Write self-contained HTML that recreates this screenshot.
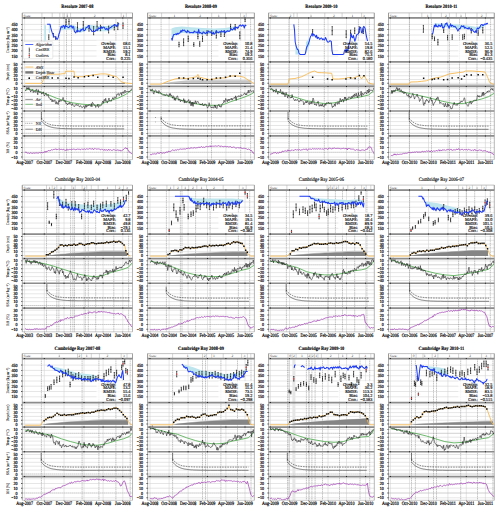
<!DOCTYPE html>
<html><head><meta charset="utf-8"><style>
html,body{margin:0;padding:0;background:#fff;width:500px;height:512px;overflow:hidden}
svg{display:block;text-rendering:geometricPrecision}
text{fill:inherit}
svg{fill:#000}
.k text{stroke:#000;stroke-width:0.13px}
.k2 text{stroke:#000;stroke-width:0.07px}
.k3 text{stroke:#000;stroke-width:0.2px}
</style></head><body>
<svg width="500" height="512" viewBox="0 0 500 512" font-family="'Liberation Serif', serif">
<rect width="500" height="512" fill="#fff"/>
<defs><clipPath id="pc"><rect x="22.3" y="17.9" width="110.2" height="141.7"/><rect x="22.3" y="190.1" width="110.2" height="141.7"/><rect x="22.3" y="358.6" width="110.2" height="141.7"/><rect x="147.6" y="17.9" width="106.8" height="141.7"/><rect x="147.6" y="190.1" width="106.8" height="141.7"/><rect x="147.6" y="358.6" width="106.8" height="141.7"/><rect x="268.6" y="17.9" width="105.7" height="141.7"/><rect x="268.6" y="190.1" width="105.7" height="141.7"/><rect x="268.6" y="358.6" width="105.7" height="141.7"/><rect x="388.5" y="17.9" width="105.8" height="141.7"/><rect x="388.5" y="190.1" width="105.8" height="141.7"/><rect x="388.5" y="358.6" width="105.8" height="141.7"/></clipPath></defs>
<path fill="none" stroke="#d2d2d2" stroke-width="0.55" d="M22.3 56.1L132.5 56.1M22.3 50.8L132.5 50.8M22.3 45.5L132.5 45.5M22.3 40.3L132.5 40.3M22.3 35L132.5 35M22.3 29.7L132.5 29.7M22.3 24.4L132.5 24.4M22.3 83.3L132.5 83.3M22.3 79.5L132.5 79.5M22.3 75.7L132.5 75.7M22.3 71.9L132.5 71.9M22.3 68.1L132.5 68.1M22.3 64.3L132.5 64.3M22.3 108.3L132.5 108.3M22.3 104.4L132.5 104.4M22.3 100.4L132.5 100.4M22.3 96.5L132.5 96.5M22.3 92.6L132.5 92.6M22.3 88.7L132.5 88.7M22.3 133.3L132.5 133.3M22.3 129.4L132.5 129.4M22.3 125.5L132.5 125.5M22.3 121.6L132.5 121.6M22.3 117.7L132.5 117.7M22.3 113.8L132.5 113.8M22.3 157.1L132.5 157.1M22.3 152.3L132.5 152.3M22.3 147.6L132.5 147.6M22.3 142.8L132.5 142.8M22.3 138.1L132.5 138.1M24.6 17.9L24.6 159.6M44.3 17.9L44.3 159.6M64 17.9L64 159.6M84 17.9L84 159.6M103.1 17.9L103.1 159.6M122.8 17.9L122.8 159.6M147.6 56.1L254.4 56.1M147.6 50.8L254.4 50.8M147.6 45.5L254.4 45.5M147.6 40.3L254.4 40.3M147.6 35L254.4 35M147.6 29.7L254.4 29.7M147.6 24.4L254.4 24.4M147.6 83.3L254.4 83.3M147.6 79.5L254.4 79.5M147.6 75.7L254.4 75.7M147.6 71.9L254.4 71.9M147.6 68.1L254.4 68.1M147.6 64.3L254.4 64.3M147.6 108.3L254.4 108.3M147.6 104.4L254.4 104.4M147.6 100.4L254.4 100.4M147.6 96.5L254.4 96.5M147.6 92.6L254.4 92.6M147.6 88.7L254.4 88.7M147.6 133.3L254.4 133.3M147.6 129.4L254.4 129.4M147.6 125.5L254.4 125.5M147.6 121.6L254.4 121.6M147.6 117.7L254.4 117.7M147.6 113.8L254.4 113.8M147.6 157.1L254.4 157.1M147.6 152.3L254.4 152.3M147.6 147.6L254.4 147.6M147.6 142.8L254.4 142.8M147.6 138.1L254.4 138.1M150 17.9L150 159.6M169.1 17.9L169.1 159.6M188.1 17.9L188.1 159.6M207.5 17.9L207.5 159.6M225.9 17.9L225.9 159.6M245 17.9L245 159.6M268.6 56.1L374.3 56.1M268.6 50.8L374.3 50.8M268.6 45.5L374.3 45.5M268.6 40.3L374.3 40.3M268.6 35L374.3 35M268.6 29.7L374.3 29.7M268.6 24.4L374.3 24.4M268.6 83.3L374.3 83.3M268.6 79.5L374.3 79.5M268.6 75.7L374.3 75.7M268.6 71.9L374.3 71.9M268.6 68.1L374.3 68.1M268.6 64.3L374.3 64.3M268.6 108.3L374.3 108.3M268.6 104.4L374.3 104.4M268.6 100.4L374.3 100.4M268.6 96.5L374.3 96.5M268.6 92.6L374.3 92.6M268.6 88.7L374.3 88.7M268.6 133.3L374.3 133.3M268.6 129.4L374.3 129.4M268.6 125.5L374.3 125.5M268.6 121.6L374.3 121.6M268.6 117.7L374.3 117.7M268.6 113.8L374.3 113.8M268.6 157.1L374.3 157.1M268.6 152.3L374.3 152.3M268.6 147.6L374.3 147.6M268.6 142.8L374.3 142.8M268.6 138.1L374.3 138.1M270.4 17.9L270.4 159.6M289.5 17.9L289.5 159.6M308.6 17.9L308.6 159.6M328 17.9L328 159.6M346.5 17.9L346.5 159.6M365.6 17.9L365.6 159.6M388.5 56.1L494.3 56.1M388.5 50.8L494.3 50.8M388.5 45.5L494.3 45.5M388.5 40.3L494.3 40.3M388.5 35L494.3 35M388.5 29.7L494.3 29.7M388.5 24.4L494.3 24.4M388.5 83.3L494.3 83.3M388.5 79.5L494.3 79.5M388.5 75.7L494.3 75.7M388.5 71.9L494.3 71.9M388.5 68.1L494.3 68.1M388.5 64.3L494.3 64.3M388.5 108.3L494.3 108.3M388.5 104.4L494.3 104.4M388.5 100.4L494.3 100.4M388.5 96.5L494.3 96.5M388.5 92.6L494.3 92.6M388.5 88.7L494.3 88.7M388.5 133.3L494.3 133.3M388.5 129.4L494.3 129.4M388.5 125.5L494.3 125.5M388.5 121.6L494.3 121.6M388.5 117.7L494.3 117.7M388.5 113.8L494.3 113.8M388.5 157.1L494.3 157.1M388.5 152.3L494.3 152.3M388.5 147.6L494.3 147.6M388.5 142.8L494.3 142.8M388.5 138.1L494.3 138.1M390.4 17.9L390.4 159.6M409.5 17.9L409.5 159.6M428.5 17.9L428.5 159.6M447.9 17.9L447.9 159.6M466.3 17.9L466.3 159.6M485.4 17.9L485.4 159.6M22.3 228.3L132.5 228.3M22.3 223L132.5 223M22.3 217.7L132.5 217.7M22.3 212.5L132.5 212.5M22.3 207.2L132.5 207.2M22.3 201.9L132.5 201.9M22.3 196.6L132.5 196.6M22.3 255.5L132.5 255.5M22.3 251.7L132.5 251.7M22.3 247.9L132.5 247.9M22.3 244.1L132.5 244.1M22.3 240.3L132.5 240.3M22.3 236.5L132.5 236.5M22.3 280.5L132.5 280.5M22.3 276.6L132.5 276.6M22.3 272.6L132.5 272.6M22.3 268.7L132.5 268.7M22.3 264.8L132.5 264.8M22.3 260.9L132.5 260.9M22.3 305.5L132.5 305.5M22.3 301.6L132.5 301.6M22.3 297.7L132.5 297.7M22.3 293.8L132.5 293.8M22.3 289.9L132.5 289.9M22.3 286L132.5 286M22.3 329.2L132.5 329.2M22.3 324.5L132.5 324.5M22.3 319.8L132.5 319.8M22.3 315L132.5 315M22.3 310.2L132.5 310.2M24.6 190.1L24.6 331.8M44.3 190.1L44.3 331.8M64 190.1L64 331.8M84 190.1L84 331.8M103.1 190.1L103.1 331.8M122.8 190.1L122.8 331.8M147.6 228.3L254.4 228.3M147.6 223L254.4 223M147.6 217.7L254.4 217.7M147.6 212.5L254.4 212.5M147.6 207.2L254.4 207.2M147.6 201.9L254.4 201.9M147.6 196.6L254.4 196.6M147.6 255.5L254.4 255.5M147.6 251.7L254.4 251.7M147.6 247.9L254.4 247.9M147.6 244.1L254.4 244.1M147.6 240.3L254.4 240.3M147.6 236.5L254.4 236.5M147.6 280.5L254.4 280.5M147.6 276.6L254.4 276.6M147.6 272.6L254.4 272.6M147.6 268.7L254.4 268.7M147.6 264.8L254.4 264.8M147.6 260.9L254.4 260.9M147.6 305.5L254.4 305.5M147.6 301.6L254.4 301.6M147.6 297.7L254.4 297.7M147.6 293.8L254.4 293.8M147.6 289.9L254.4 289.9M147.6 286L254.4 286M147.6 329.2L254.4 329.2M147.6 324.5L254.4 324.5M147.6 319.8L254.4 319.8M147.6 315L254.4 315M147.6 310.2L254.4 310.2M150 190.1L150 331.8M169.1 190.1L169.1 331.8M188.1 190.1L188.1 331.8M207.5 190.1L207.5 331.8M225.9 190.1L225.9 331.8M245 190.1L245 331.8M268.6 228.3L374.3 228.3M268.6 223L374.3 223M268.6 217.7L374.3 217.7M268.6 212.5L374.3 212.5M268.6 207.2L374.3 207.2M268.6 201.9L374.3 201.9M268.6 196.6L374.3 196.6M268.6 255.5L374.3 255.5M268.6 251.7L374.3 251.7M268.6 247.9L374.3 247.9M268.6 244.1L374.3 244.1M268.6 240.3L374.3 240.3M268.6 236.5L374.3 236.5M268.6 280.5L374.3 280.5M268.6 276.6L374.3 276.6M268.6 272.6L374.3 272.6M268.6 268.7L374.3 268.7M268.6 264.8L374.3 264.8M268.6 260.9L374.3 260.9M268.6 305.5L374.3 305.5M268.6 301.6L374.3 301.6M268.6 297.7L374.3 297.7M268.6 293.8L374.3 293.8M268.6 289.9L374.3 289.9M268.6 286L374.3 286M268.6 329.2L374.3 329.2M268.6 324.5L374.3 324.5M268.6 319.8L374.3 319.8M268.6 315L374.3 315M268.6 310.2L374.3 310.2M270.4 190.1L270.4 331.8M289.5 190.1L289.5 331.8M308.6 190.1L308.6 331.8M328 190.1L328 331.8M346.5 190.1L346.5 331.8M365.6 190.1L365.6 331.8M388.5 228.3L494.3 228.3M388.5 223L494.3 223M388.5 217.7L494.3 217.7M388.5 212.5L494.3 212.5M388.5 207.2L494.3 207.2M388.5 201.9L494.3 201.9M388.5 196.6L494.3 196.6M388.5 255.5L494.3 255.5M388.5 251.7L494.3 251.7M388.5 247.9L494.3 247.9M388.5 244.1L494.3 244.1M388.5 240.3L494.3 240.3M388.5 236.5L494.3 236.5M388.5 280.5L494.3 280.5M388.5 276.6L494.3 276.6M388.5 272.6L494.3 272.6M388.5 268.7L494.3 268.7M388.5 264.8L494.3 264.8M388.5 260.9L494.3 260.9M388.5 305.5L494.3 305.5M388.5 301.6L494.3 301.6M388.5 297.7L494.3 297.7M388.5 293.8L494.3 293.8M388.5 289.9L494.3 289.9M388.5 286L494.3 286M388.5 329.2L494.3 329.2M388.5 324.5L494.3 324.5M388.5 319.8L494.3 319.8M388.5 315L494.3 315M388.5 310.2L494.3 310.2M390.4 190.1L390.4 331.8M409.5 190.1L409.5 331.8M428.5 190.1L428.5 331.8M447.9 190.1L447.9 331.8M466.3 190.1L466.3 331.8M485.4 190.1L485.4 331.8M22.3 396.8L132.5 396.8M22.3 391.5L132.5 391.5M22.3 386.2L132.5 386.2M22.3 381L132.5 381M22.3 375.7L132.5 375.7M22.3 370.4L132.5 370.4M22.3 365.1L132.5 365.1M22.3 424L132.5 424M22.3 420.2L132.5 420.2M22.3 416.4L132.5 416.4M22.3 412.6L132.5 412.6M22.3 408.8L132.5 408.8M22.3 405L132.5 405M22.3 449L132.5 449M22.3 445.1L132.5 445.1M22.3 441.1L132.5 441.1M22.3 437.2L132.5 437.2M22.3 433.3L132.5 433.3M22.3 429.4L132.5 429.4M22.3 474L132.5 474M22.3 470.1L132.5 470.1M22.3 466.2L132.5 466.2M22.3 462.3L132.5 462.3M22.3 458.4L132.5 458.4M22.3 454.5L132.5 454.5M22.3 497.8L132.5 497.8M22.3 493L132.5 493M22.3 488.2L132.5 488.2M22.3 483.5L132.5 483.5M22.3 478.8L132.5 478.8M24.6 358.6L24.6 500.3M44.3 358.6L44.3 500.3M64 358.6L64 500.3M84 358.6L84 500.3M103.1 358.6L103.1 500.3M122.8 358.6L122.8 500.3M147.6 396.8L254.4 396.8M147.6 391.5L254.4 391.5M147.6 386.2L254.4 386.2M147.6 381L254.4 381M147.6 375.7L254.4 375.7M147.6 370.4L254.4 370.4M147.6 365.1L254.4 365.1M147.6 424L254.4 424M147.6 420.2L254.4 420.2M147.6 416.4L254.4 416.4M147.6 412.6L254.4 412.6M147.6 408.8L254.4 408.8M147.6 405L254.4 405M147.6 449L254.4 449M147.6 445.1L254.4 445.1M147.6 441.1L254.4 441.1M147.6 437.2L254.4 437.2M147.6 433.3L254.4 433.3M147.6 429.4L254.4 429.4M147.6 474L254.4 474M147.6 470.1L254.4 470.1M147.6 466.2L254.4 466.2M147.6 462.3L254.4 462.3M147.6 458.4L254.4 458.4M147.6 454.5L254.4 454.5M147.6 497.8L254.4 497.8M147.6 493L254.4 493M147.6 488.2L254.4 488.2M147.6 483.5L254.4 483.5M147.6 478.8L254.4 478.8M150 358.6L150 500.3M169.1 358.6L169.1 500.3M188.1 358.6L188.1 500.3M207.5 358.6L207.5 500.3M225.9 358.6L225.9 500.3M245 358.6L245 500.3M268.6 396.8L374.3 396.8M268.6 391.5L374.3 391.5M268.6 386.2L374.3 386.2M268.6 381L374.3 381M268.6 375.7L374.3 375.7M268.6 370.4L374.3 370.4M268.6 365.1L374.3 365.1M268.6 424L374.3 424M268.6 420.2L374.3 420.2M268.6 416.4L374.3 416.4M268.6 412.6L374.3 412.6M268.6 408.8L374.3 408.8M268.6 405L374.3 405M268.6 449L374.3 449M268.6 445.1L374.3 445.1M268.6 441.1L374.3 441.1M268.6 437.2L374.3 437.2M268.6 433.3L374.3 433.3M268.6 429.4L374.3 429.4M268.6 474L374.3 474M268.6 470.1L374.3 470.1M268.6 466.2L374.3 466.2M268.6 462.3L374.3 462.3M268.6 458.4L374.3 458.4M268.6 454.5L374.3 454.5M268.6 497.8L374.3 497.8M268.6 493L374.3 493M268.6 488.2L374.3 488.2M268.6 483.5L374.3 483.5M268.6 478.8L374.3 478.8M270.4 358.6L270.4 500.3M289.5 358.6L289.5 500.3M308.6 358.6L308.6 500.3M328 358.6L328 500.3M346.5 358.6L346.5 500.3M365.6 358.6L365.6 500.3M388.5 396.8L494.3 396.8M388.5 391.5L494.3 391.5M388.5 386.2L494.3 386.2M388.5 381L494.3 381M388.5 375.7L494.3 375.7M388.5 370.4L494.3 370.4M388.5 365.1L494.3 365.1M388.5 424L494.3 424M388.5 420.2L494.3 420.2M388.5 416.4L494.3 416.4M388.5 412.6L494.3 412.6M388.5 408.8L494.3 408.8M388.5 405L494.3 405M388.5 449L494.3 449M388.5 445.1L494.3 445.1M388.5 441.1L494.3 441.1M388.5 437.2L494.3 437.2M388.5 433.3L494.3 433.3M388.5 429.4L494.3 429.4M388.5 474L494.3 474M388.5 470.1L494.3 470.1M388.5 466.2L494.3 466.2M388.5 462.3L494.3 462.3M388.5 458.4L494.3 458.4M388.5 454.5L494.3 454.5M388.5 497.8L494.3 497.8M388.5 493L494.3 493M388.5 488.2L494.3 488.2M388.5 483.5L494.3 483.5M388.5 478.8L494.3 478.8M390.4 358.6L390.4 500.3M409.5 358.6L409.5 500.3M428.5 358.6L428.5 500.3M447.9 358.6L447.9 500.3M466.3 358.6L466.3 500.3M485.4 358.6L485.4 500.3"/>
<path fill="#e6e6e6" d="M292.4 359.3h3v141h-3z"/>
<path fill="none" stroke="#888" stroke-width="0.5" stroke-dasharray="1.2,0.6" d="M41.4 18.6L41.4 159.6M59.3 18.6L59.3 159.6M66.5 18.6L66.5 159.6M71.5 18.6L71.5 159.6M115.9 18.6L115.9 159.6M127.6 18.6L127.6 159.6M161.1 18.6L161.1 159.6M211.5 18.6L211.5 159.6M240.7 18.6L240.7 159.6M250.6 18.6L250.6 159.6M288.9 18.6L288.9 159.6M298.6 18.6L298.6 159.6M324.3 18.6L324.3 159.6M358.4 18.6L358.4 159.6M369.4 18.6L369.4 159.6M409.4 18.6L409.4 159.6M431.5 18.6L431.5 159.6M449.4 18.6L449.4 159.6M459.5 18.6L459.5 159.6M477 18.6L477 159.6M490.6 18.6L490.6 159.6M46.5 190.8L46.5 331.8M56.8 190.8L56.8 331.8M58.9 190.8L58.9 331.8M70.6 190.8L70.6 331.8M72.9 190.8L72.9 331.8M74.5 190.8L74.5 331.8M85.3 190.8L85.3 331.8M88.3 190.8L88.3 331.8M95.7 190.8L95.7 331.8M113.8 190.8L113.8 331.8M128.6 190.8L128.6 331.8M166.4 190.8L166.4 331.8M180.4 190.8L180.4 331.8M182 190.8L182 331.8M195.6 190.8L195.6 331.8M210.1 190.8L210.1 331.8M238.4 190.8L238.4 331.8M249.7 190.8L249.7 331.8M286.4 190.8L286.4 331.8M328 190.8L328 331.8M335.4 190.8L335.4 331.8M342.5 190.8L342.5 331.8M354.7 190.8L354.7 331.8M366.9 190.8L366.9 331.8M409.6 190.8L409.6 331.8M458.6 190.8L458.6 331.8M466.4 190.8L466.4 331.8M474.7 190.8L474.7 331.8M490.3 190.8L490.3 331.8M41.4 359.3L41.4 500.3M82.1 359.3L82.1 500.3M98.9 359.3L98.9 500.3M115.9 359.3L115.9 500.3M130.2 359.3L130.2 500.3M172.6 359.3L172.6 500.3M202.5 359.3L202.5 500.3M205.5 359.3L205.5 500.3M220.9 359.3L220.9 500.3M237.5 359.3L237.5 500.3M251 359.3L251 500.3M287.5 359.3L287.5 500.3M288.9 359.3L288.9 500.3M306.4 359.3L306.4 500.3M309.2 359.3L309.2 500.3M311.9 359.3L311.9 500.3M315.1 359.3L315.1 500.3M322.5 359.3L322.5 500.3M339.5 359.3L339.5 500.3M360 359.3L360 500.3M369.7 359.3L369.7 500.3M411.5 359.3L411.5 500.3M415.4 359.3L415.4 500.3M433.5 359.3L433.5 500.3M436.5 359.3L436.5 500.3M460.7 359.3L460.7 500.3M477.5 359.3L477.5 500.3M492.9 359.3L492.9 500.3"/>
<path fill="#fff" stroke="#999" stroke-width="0.6" d="M22.3 12.9h110.2v5h-110.2zM147.6 12.9h106.8v5h-106.8zM268.6 12.9h105.7v5h-105.7zM388.5 12.9h105.8v5h-105.8zM22.3 185.1h110.2v5h-110.2zM147.6 185.1h106.8v5h-106.8zM268.6 185.1h105.7v5h-105.7zM388.5 185.1h105.8v5h-105.8zM22.3 353.6h110.2v5h-110.2zM147.6 353.6h106.8v5h-106.8zM268.6 353.6h105.7v5h-105.7zM388.5 353.6h105.8v5h-105.8z"/>
<path fill="none" stroke="#aaa" stroke-width="0.5" d="M41.9 12.9L41.9 17.9M52.2 12.9L52.2 17.9M59.8 12.9L59.8 17.9M63 12.9L63 17.9M64.4 12.9L64.4 17.9M67.2 12.9L67.2 17.9M70.6 12.9L70.6 17.9M121.2 12.9L121.2 17.9M126.3 12.9L126.3 17.9M161.6 12.9L161.6 17.9M187.6 12.9L187.6 17.9M211.7 12.9L211.7 17.9M225.5 12.9L225.5 17.9M240.5 12.9L240.5 17.9M246.2 12.9L246.2 17.9M293.8 12.9L293.8 17.9M297.2 12.9L297.2 17.9M324.8 12.9L324.8 17.9M342.1 12.9L342.1 17.9M361.6 12.9L361.6 17.9M409.2 12.9L409.2 17.9M421.8 12.9L421.8 17.9M431 12.9L431 17.9M441.4 12.9L441.4 17.9M449.4 12.9L449.4 17.9M456.3 12.9L456.3 17.9M465.5 12.9L465.5 17.9M477 12.9L477 17.9M486.2 12.9L486.2 17.9M46.5 185.1L46.5 190.1M52.2 185.1L52.2 190.1M56.8 185.1L56.8 190.1M64.9 185.1L64.9 190.1M71.8 185.1L71.8 190.1M75.2 185.1L75.2 190.1M82.1 185.1L82.1 190.1M86.7 185.1L86.7 190.1M91.3 185.1L91.3 190.1M98.2 185.1L98.2 190.1M115.5 185.1L115.5 190.1M123.5 185.1L123.5 190.1M166.9 185.1L166.9 190.1M173.8 185.1L173.8 190.1M181.8 185.1L181.8 190.1M188.7 185.1L188.7 190.1M196.8 185.1L196.8 190.1M206.6 185.1L206.6 190.1M223.2 185.1L223.2 190.1M239.3 185.1L239.3 190.1M246.2 185.1L246.2 190.1M286.9 185.1L286.9 190.1M327.1 185.1L327.1 190.1M330.6 185.1L330.6 190.1M334 185.1L334 190.1M338.6 185.1L338.6 190.1M347.8 185.1L347.8 190.1M361.6 185.1L361.6 190.1M366.2 185.1L366.2 190.1M370.8 185.1L370.8 190.1M434.5 185.1L434.5 190.1M458.6 185.1L458.6 190.1M466.7 185.1L466.7 190.1M472.4 185.1L472.4 190.1M481.6 185.1L481.6 190.1M486.2 185.1L486.2 190.1M41.9 353.6L41.9 358.6M77.5 353.6L77.5 358.6M81.6 353.6L81.6 358.6M91.3 353.6L91.3 358.6M99.4 353.6L99.4 358.6M121.2 353.6L121.2 358.6M127 353.6L127 358.6M172.6 353.6L172.6 358.6M202.5 353.6L202.5 358.6M206.6 353.6L206.6 358.6M211.7 353.6L211.7 358.6M223.2 353.6L223.2 358.6M241.6 353.6L241.6 358.6M247.4 353.6L247.4 358.6M250.8 353.6L250.8 358.6M288 353.6L288 358.6M292.1 353.6L292.1 358.6M296.1 353.6L296.1 358.6M307.6 353.6L307.6 358.6M311 353.6L311 358.6M314.5 353.6L314.5 358.6M317.9 353.6L317.9 358.6M321.4 353.6L321.4 358.6M338.6 353.6L338.6 358.6M346.7 353.6L346.7 358.6M359.3 353.6L359.3 358.6M370.8 353.6L370.8 358.6M411.5 353.6L411.5 358.6M416.1 353.6L416.1 358.6M423 353.6L423 358.6M432.2 353.6L432.2 358.6M437.9 353.6L437.9 358.6M458.6 353.6L458.6 358.6M481.6 353.6L481.6 358.6M490.8 353.6L490.8 358.6"/>
<path fill="#fff" fill-opacity="0.8" d="M96.5 40.4h35.5v20.6h-35.5zM218.4 40.4h35.5v20.6h-35.5zM338.3 40.4h35.5v20.6h-35.5zM458.3 40.4h35.5v20.6h-35.5zM96.5 212.6h35.5v20.6h-35.5zM218.4 212.6h35.5v20.6h-35.5zM338.3 212.6h35.5v20.6h-35.5zM458.3 212.6h35.5v20.6h-35.5zM96.5 381.1h35.5v20.6h-35.5zM218.4 381.1h35.5v20.6h-35.5zM338.3 381.1h35.5v20.6h-35.5zM458.3 381.1h35.5v20.6h-35.5z"/>
<path clip-path="url(#pc)" fill="#bde5ee" d="M44.4 25.2L46 25.2L46 40.8L44.4 40.8zM48.8 25L49.9 25L49.9 33L48.8 33zM60.9 25.2L72.9 24.7L79.8 28.4L89 24.7L98.2 26.1L107.4 26.1L118.9 23.3L118.9 26.1L107.4 31.2L98.2 31.2L89 29.3L79.8 33L72.9 29.3L60.9 30.2zM171.5 28.4L174.9 27.3L181.8 26.6L191 27.3L202.5 27.9L214 28.4L225.5 27.9L235.9 26.1L235.9 29.6L225.5 33L214 33.7L202.5 34.2L191 33.5L181.8 33L174.9 35.8L171.5 39.9zM295.4 44.5L299.5 50.3L299.5 54.4L295.4 54.4zM305.9 42.2L309.9 37.6L309.9 44.5L305.9 53.7zM434.5 23.3L444.8 23.8L456.3 24.3L467.8 25.6L477 27L486.2 23.8L486.2 25.2L477 30.7L467.8 28.9L456.3 28.4L444.8 27L434.5 26.1zM57.5 197L60.3 199.3L66 202.2L77.5 203.9L89 205L100.5 204.5L112 203.9L118.9 202.2L125.8 199.9L125.8 201.6L118.9 207.3L112 210.5L100.5 210.5L89 210.5L77.5 209.1L66 207.8L60.3 205L57.5 200.4zM188.7 196.3L191 197.6L195.6 198.6L204.8 198.6L218.6 198.6L232.4 198.6L242.8 199.3L242.8 201.6L232.4 203.6L218.6 204.1L204.8 204.1L195.6 203.6L191 200.4L188.7 198.1zM309.9 196.3L313.3 197.6L320.2 198.6L334 199.3L347.8 199.9L359.3 199.3L363.4 200.4L363.4 205L359.3 202.7L347.8 203.9L334 203.6L320.2 201.8L313.3 199L309.9 197.6zM426.4 201.6L431 202.2L437.9 203.2L444.8 205L454 207.3L460.9 209.6L460.9 213.1L454 211.4L444.8 209.1L437.9 209.1L431 207.3L426.4 203.9zM51.1 366.6L56.8 367.3L66 369.6L77.5 373L89 374.2L95.9 375.3L95.9 379.9L89 379.9L77.5 378.1L66 374.4L56.8 371.2L51.1 367.5zM184.1 364.7L186.4 365.2L193.3 367.3L202.5 370.7L214 371.9L225.5 374.2L237 373L246.2 369.6L246.2 371.2L237 377.6L225.5 378.8L214 376.5L202.5 377.1L193.3 373L186.4 368.4L184.1 366.1zM425.3 366.1L431 366.6L437.9 367.3L444.8 368.4L447.1 370.7L447.1 375.3L444.8 374.2L437.9 373L431 370.2L425.3 367.3z"/>
<path clip-path="url(#pc)" fill="none" stroke="#111" stroke-width="0.65" d="M48.8 34.8L48.8 39.4M48.2 34.8L49.4 34.8M48.2 39.4L49.4 39.4M53.4 33.5L53.4 37.1M52.8 33.5L54 33.5M52.8 37.1L54 37.1M55.7 36.7L55.7 39.4M55.1 36.7L56.3 36.7M55.1 39.4L56.3 39.4M66 19.2L66 24.7M65.4 19.2L66.6 19.2M65.4 24.7L66.6 24.7M69 18.7L69 24.3M68.4 18.7L69.6 18.7M68.4 24.3L69.6 24.3M77.5 22.7L77.5 31.9M76.9 22.7L78.1 22.7M76.9 31.9L78.1 31.9M83.3 21.5L83.3 28.4M82.7 21.5L83.9 21.5M82.7 28.4L83.9 28.4M89 25.6L89 31.2M88.4 25.6L89.6 25.6M88.4 31.2L89.6 31.2M93.6 26.6L93.6 34.8M93 26.6L94.2 26.6M93 34.8L94.2 34.8M97.1 21.5L97.1 30.7M96.5 21.5L97.7 21.5M96.5 30.7L97.7 30.7M100.5 25.2L100.5 30.7M99.9 25.2L101.1 25.2M99.9 30.7L101.1 30.7M108.6 26.1L108.6 33M108 26.1L109.2 26.1M108 33L109.2 33M114.3 24.5L114.3 30M113.7 24.5L114.9 24.5M113.7 30L114.9 30M117.8 22.7L117.8 29.6M117.2 22.7L118.4 22.7M117.2 29.6L118.4 29.6M123 22.9L123 28.4M122.4 22.9L123.6 22.9M122.4 28.4L123.6 28.4M179 42.2L179 46.8M178.4 42.2L179.6 42.2M178.4 46.8L179.6 46.8M183.6 38.8L183.6 45.7M183 38.8L184.2 38.8M183 45.7L184.2 45.7M188.2 36L188.2 41.5M187.6 36L188.8 36M187.6 41.5L188.8 41.5M193.8 42.7L193.8 46.3M193.2 42.7L194.4 42.7M193.2 46.3L194.4 46.3M197.9 34.2L197.9 38.8M197.3 34.2L198.5 34.2M197.3 38.8L198.5 38.8M199.7 41.7L199.7 46.3M199.1 41.7L200.3 41.7M199.1 46.3L200.3 46.3M202.5 36L202.5 41.5M201.9 36L203.1 36M201.9 41.5L203.1 41.5M207.1 30.7L207.1 35.3M206.5 30.7L207.7 30.7M206.5 35.3L207.7 35.3M211.7 30.7L211.7 35.3M211.1 30.7L212.3 30.7M211.1 35.3L212.3 35.3M216.3 32.5L216.3 38.1M215.7 32.5L216.9 32.5M215.7 38.1L216.9 38.1M220.9 31.9L220.9 36.5M220.3 31.9L221.5 31.9M220.3 36.5L221.5 36.5M224.4 31.9L224.4 36.5M223.8 31.9L225 31.9M223.8 36.5L225 36.5M230.6 24.3L230.6 28.9M230 24.3L231.2 24.3M230 28.9L231.2 28.9M235.2 24.5L235.2 30M234.6 24.5L235.8 24.5M234.6 30L235.8 30M239.8 31.9L239.8 38.8M239.2 31.9L240.4 31.9M239.2 38.8L240.4 38.8M245.1 17.8L245.1 21.5M244.5 17.8L245.7 17.8M244.5 21.5L245.7 21.5M312.6 29.6L312.6 34.2M312 29.6L313.2 29.6M312 34.2L313.2 34.2M332.2 26.6L332.2 34.8M331.6 26.6L332.8 26.6M331.6 34.8L332.8 34.8M346.2 30.7L346.2 37.6M345.6 30.7L346.8 30.7M345.6 37.6L346.8 37.6M350.6 30.2L350.6 35.8M350 30.2L351.2 30.2M350 35.8L351.2 35.8M354.7 27.9L354.7 33.5M354.1 27.9L355.3 27.9M354.1 33.5L355.3 33.5M359.3 26.8L359.3 32.3M358.7 26.8L359.9 26.8M358.7 32.3L359.9 32.3M363.4 28.9L363.4 33.5M362.8 28.9L364 28.9M362.8 33.5L364 33.5M423.4 25.4L423.4 32.3M422.8 25.4L424 25.4M422.8 32.3L424 32.3M432.2 34.2L432.2 38.8M431.6 34.2L432.8 34.2M431.6 38.8L432.8 38.8M434.5 36.9L434.5 40.6M433.9 36.9L435.1 36.9M433.9 40.6L435.1 40.6M437.9 39.4L437.9 45M437.3 39.4L438.5 39.4M437.3 45L438.5 45M443.7 28.9L443.7 32.5M443.1 28.9L444.3 28.9M443.1 32.5L444.3 32.5M447.6 35.3L447.6 39.9M447 35.3L448.2 35.3M447 39.9L448.2 39.9M452.2 34.8L452.2 39.4M451.6 34.8L452.8 34.8M451.6 39.4L452.8 39.4M462.7 34.8L462.7 39.4M462.1 34.8L463.3 34.8M462.1 39.4L463.3 39.4M464.4 34.2L464.4 38.8M463.8 34.2L465 34.2M463.8 38.8L465 38.8M471.3 28.4L471.3 33M470.7 28.4L471.9 28.4M470.7 33L471.9 33M478.2 30.7L478.2 35.3M477.6 30.7L478.8 30.7M477.6 35.3L478.8 35.3M482.8 27.5L482.8 33M482.2 27.5L483.4 27.5M482.2 33L483.4 33M47.6 202.7L47.6 209.6M47 202.7L48.2 202.7M47 209.6L48.2 209.6M49.2 221.1L49.2 223.4M48.6 221.1L49.8 221.1M48.6 223.4L49.8 223.4M51.5 223.4L51.5 225.7M50.9 223.4L52.1 223.4M50.9 225.7L52.1 225.7M53.8 191.2L53.8 198.1M53.2 191.2L54.4 191.2M53.2 198.1L54.4 198.1M56.3 214.2L56.3 218.8M55.7 214.2L56.9 214.2M55.7 218.8L56.9 218.8M59.6 199.9L59.6 205.5M59 199.9L60.2 199.9M59 205.5L60.2 205.5M62.6 202.2L62.6 207.8M62 202.2L63.2 202.2M62 207.8L63.2 207.8M66 199.3L66 206.2M65.4 199.3L66.6 199.3M65.4 206.2L66.6 206.2M68.3 204.5L68.3 210.1M67.7 204.5L68.9 204.5M67.7 210.1L68.9 210.1M71.8 201.6L71.8 208.5M71.2 201.6L72.4 201.6M71.2 208.5L72.4 208.5M75.2 201.6L75.2 208.5M74.6 201.6L75.8 201.6M74.6 208.5L75.8 208.5M78.7 204.5L78.7 210.1M78.1 204.5L79.3 204.5M78.1 210.1L79.3 210.1M81.6 214.2L81.6 218.8M81 214.2L82.2 214.2M81 218.8L82.2 218.8M84.4 203.4L84.4 208.9M83.8 203.4L85 203.4M83.8 208.9L85 208.9M87.9 202.2L87.9 207.8M87.3 202.2L88.5 202.2M87.3 207.8L88.5 207.8M91.3 205L91.3 209.6M90.7 205L91.9 205M90.7 209.6L91.9 209.6M93.6 201.1L93.6 206.6M93 201.1L94.2 201.1M93 206.6L94.2 206.6M97.1 205L97.1 209.6M96.5 205L97.7 205M96.5 209.6L97.7 209.6M100.5 203.9L100.5 208.5M99.9 203.9L101.1 203.9M99.9 208.5L101.1 208.5M102.8 202.2L102.8 207.8M102.2 202.2L103.4 202.2M102.2 207.8L103.4 207.8M106.3 201.1L106.3 206.6M105.7 201.1L106.9 201.1M105.7 206.6L106.9 206.6M110.9 201.6L110.9 206.2M110.3 201.6L111.5 201.6M110.3 206.2L111.5 206.2M114.3 203.4L114.3 208.9M113.7 203.4L114.9 203.4M113.7 208.9L114.9 208.9M117.8 197.6L117.8 203.2M117.2 197.6L118.4 197.6M117.2 203.2L118.4 203.2M120.5 199.9L120.5 205.5M119.9 199.9L121.1 199.9M119.9 205.5L121.1 205.5M123.5 197L123.5 201.6M122.9 197L124.1 197M122.9 201.6L124.1 201.6M126.3 195.3L126.3 200.9M125.7 195.3L126.9 195.3M125.7 200.9L126.9 200.9M128.6 190.5L128.6 194.2M128 190.5L129.2 190.5M128 194.2L129.2 194.2M169.2 229.2L169.2 231.5M168.6 229.2L169.8 229.2M168.6 231.5L169.8 231.5M171.5 221.1L171.5 224.8M170.9 221.1L172.1 221.1M170.9 224.8L172.1 224.8M173.8 203.9L173.8 210.8M173.2 203.9L174.4 203.9M173.2 210.8L174.4 210.8M176.1 210.8L176.1 217.7M175.5 210.8L176.7 210.8M175.5 217.7L176.7 217.7M177.9 217.4L177.9 221.1M177.3 217.4L178.5 217.4M177.3 221.1L178.5 221.1M180 207.3L180 214.2M179.4 207.3L180.6 207.3M179.4 214.2L180.6 214.2M183 198.1L183 202.7M182.4 198.1L183.6 198.1M182.4 202.7L183.6 202.7M184.1 204.5L184.1 210.1M183.5 204.5L184.7 204.5M183.5 210.1L184.7 210.1M188.2 214.2L188.2 218.8M187.6 214.2L188.8 214.2M187.6 218.8L188.8 218.8M191 211.9L191 216.5M190.4 211.9L191.6 211.9M190.4 216.5L191.6 216.5M193.3 210.8L193.3 215.4M192.7 210.8L193.9 210.8M192.7 215.4L193.9 215.4M196.1 205L196.1 211.9M195.5 205L196.7 205M195.5 211.9L196.7 211.9M197.9 201.6L197.9 208.5M197.3 201.6L198.5 201.6M197.3 208.5L198.5 208.5M200.2 202.7L200.2 209.6M199.6 202.7L200.8 202.7M199.6 209.6L200.8 209.6M203.7 198.1L203.7 205M203.1 198.1L204.3 198.1M203.1 205L204.3 205M206.6 202.2L206.6 207.8M206 202.2L207.2 202.2M206 207.8L207.2 207.8M209.4 202.7L209.4 209.6M208.8 202.7L210 202.7M208.8 209.6L210 209.6M213.5 204.5L213.5 210.1M212.9 204.5L214.1 204.5M212.9 210.1L214.1 210.1M216.3 202.2L216.3 207.8M215.7 202.2L216.9 202.2M215.7 207.8L216.9 207.8M219.8 200.4L219.8 207.3M219.2 200.4L220.4 200.4M219.2 207.3L220.4 207.3M223.2 202.2L223.2 207.8M222.6 202.2L223.8 202.2M222.6 207.8L223.8 207.8M226.7 204.5L226.7 210.1M226.1 204.5L227.3 204.5M226.1 210.1L227.3 210.1M229 202.2L229 207.8M228.4 202.2L229.6 202.2M228.4 207.8L229.6 207.8M232.4 203.4L232.4 208.9M231.8 203.4L233 203.4M231.8 208.9L233 208.9M235.9 201.1L235.9 206.6M235.3 201.1L236.5 201.1M235.3 206.6L236.5 206.6M239.3 202.2L239.3 207.8M238.7 202.2L239.9 202.2M238.7 207.8L239.9 207.8M245.1 190.5L245.1 194.2M244.5 190.5L245.7 190.5M244.5 194.2L245.7 194.2M247.4 193.5L247.4 198.1M246.8 193.5L248 193.5M246.8 198.1L248 198.1M291.5 230.3L291.5 232.6M290.9 230.3L292.1 230.3M290.9 232.6L292.1 232.6M293.3 210.8L293.3 217.7M292.7 210.8L293.9 210.8M292.7 217.7L293.9 217.7M296.1 203.9L296.1 210.8M295.5 203.9L296.7 203.9M295.5 210.8L296.7 210.8M299.5 209.1L299.5 214.7M298.9 209.1L300.1 209.1M298.9 214.7L300.1 214.7M303 206.8L303 212.4M302.4 206.8L303.6 206.8M302.4 212.4L303.6 212.4M305.3 208L305.3 213.5M304.7 208L305.9 208M304.7 213.5L305.9 213.5M307.6 210.8L307.6 215.4M307 210.8L308.2 210.8M307 215.4L308.2 215.4M309.9 206.2L309.9 213.1M309.3 206.2L310.5 206.2M309.3 213.1L310.5 213.1M312.2 205L312.2 211.9M311.6 205L312.8 205M311.6 211.9L312.8 211.9M314.5 202.2L314.5 207.8M313.9 202.2L315.1 202.2M313.9 207.8L315.1 207.8M316.1 203.9L316.1 210.8M315.5 203.9L316.7 203.9M315.5 210.8L316.7 210.8M319.1 214.2L319.1 218.8M318.5 214.2L319.7 214.2M318.5 218.8L319.7 218.8M320.2 205L320.2 211.9M319.6 205L320.8 205M319.6 211.9L320.8 211.9M322.5 202.2L322.5 207.8M321.9 202.2L323.1 202.2M321.9 207.8L323.1 207.8M324.3 207.3L324.3 211.9M323.7 207.3L324.9 207.3M323.7 211.9L324.9 211.9M326.6 210.8L326.6 215.4M326 210.8L327.2 210.8M326 215.4L327.2 215.4M328.3 209.1L328.3 214.7M327.7 209.1L328.9 209.1M327.7 214.7L328.9 214.7M330.6 205L330.6 211.9M330 205L331.2 205M330 211.9L331.2 211.9M332.9 206.8L332.9 212.4M332.3 206.8L333.5 206.8M332.3 212.4L333.5 212.4M335.2 204.5L335.2 210.1M334.6 204.5L335.8 204.5M334.6 210.1L335.8 210.1M338.6 205.7L338.6 211.2M338 205.7L339.2 205.7M338 211.2L339.2 211.2M342.1 204.5L342.1 210.1M341.5 204.5L342.7 204.5M341.5 210.1L342.7 210.1M345.5 203.4L345.5 208.9M344.9 203.4L346.1 203.4M344.9 208.9L346.1 208.9M347.8 203.4L347.8 208.9M347.2 203.4L348.4 203.4M347.2 208.9L348.4 208.9M351.3 202.2L351.3 207.8M350.7 202.2L351.9 202.2M350.7 207.8L351.9 207.8M353.6 202.2L353.6 207.8M353 202.2L354.2 202.2M353 207.8L354.2 207.8M355.9 201.1L355.9 206.6M355.3 201.1L356.5 201.1M355.3 206.6L356.5 206.6M358.8 195.8L358.8 200.4M358.2 195.8L359.4 195.8M358.2 200.4L359.4 200.4M361.1 190.5L361.1 194.2M360.5 190.5L361.7 190.5M360.5 194.2L361.7 194.2M363.4 196.5L363.4 202M362.8 196.5L364 196.5M362.8 202L364 202M411 229.2L411 231.5M410.4 229.2L411.6 229.2M410.4 231.5L411.6 231.5M412.6 226.9L412.6 229.2M412 226.9L413.2 226.9M412 229.2L413.2 229.2M415.4 225.5L415.4 228.2M414.8 225.5L416 225.5M414.8 228.2L416 228.2M418.4 220.9L418.4 223.6M417.8 220.9L419 220.9M417.8 223.6L419 223.6M420.7 219.3L420.7 222.9M420.1 219.3L421.3 219.3M420.1 222.9L421.3 222.9M423.6 214.7L423.6 218.3M423 214.7L424.2 214.7M423 218.3L424.2 218.3M425.3 212.4L425.3 216M424.7 212.4L425.9 212.4M424.7 216L425.9 216M428.7 217L428.7 220.6M428.1 217L429.3 217M428.1 220.6L429.3 220.6M433.3 221.6L433.3 225.2M432.7 221.6L433.9 221.6M432.7 225.2L433.9 225.2M435.1 220.4L435.1 224.1M434.5 220.4L435.7 220.4M434.5 224.1L435.7 224.1M438.4 218.1L438.4 221.8M437.8 218.1L439 218.1M437.8 221.8L439 221.8M443.7 204.5L443.7 210.1M443.1 204.5L444.3 204.5M443.1 210.1L444.3 210.1M448.3 215.4L448.3 220M447.7 215.4L448.9 215.4M447.7 220L448.9 220M450.6 218.1L450.6 221.8M450 218.1L451.2 218.1M450 221.8L451.2 221.8M452.9 211.9L452.9 216.5M452.3 211.9L453.5 211.9M452.3 216.5L453.5 216.5M455.2 209.6L455.2 214.2M454.6 209.6L455.8 209.6M454.6 214.2L455.8 214.2M457.5 208.5L457.5 213.1M456.9 208.5L458.1 208.5M456.9 213.1L458.1 213.1M459.8 209.6L459.8 214.2M459.2 209.6L460.4 209.6M459.2 214.2L460.4 214.2M462.1 210.8L462.1 215.4M461.5 210.8L462.7 210.8M461.5 215.4L462.7 215.4M464.4 208L464.4 213.5M463.8 208L465 208M463.8 213.5L465 213.5M466.7 209.6L466.7 214.2M466.1 209.6L467.3 209.6M466.1 214.2L467.3 214.2M469 206.8L469 212.4M468.4 206.8L469.6 206.8M468.4 212.4L469.6 212.4M471.9 208L471.9 213.5M471.3 208L472.5 208M471.3 213.5L472.5 213.5M474.7 206.8L474.7 212.4M474.1 206.8L475.3 206.8M474.1 212.4L475.3 212.4M477 209.6L477 214.2M476.4 209.6L477.6 209.6M476.4 214.2L477.6 214.2M479.3 208.5L479.3 213.1M478.7 208.5L479.9 208.5M478.7 213.1L479.9 213.1M482.8 206.2L482.8 210.8M482.2 206.2L483.4 206.2M482.2 210.8L483.4 210.8M485.1 199.9L485.1 205.5M484.5 199.9L485.7 199.9M484.5 205.5L485.7 205.5M487.4 198.8L487.4 204.3M486.8 198.8L488 198.8M486.8 204.3L488 204.3M489.7 202.2L489.7 207.8M489.1 202.2L490.3 202.2M489.1 207.8L490.3 207.8M45.3 394.6L45.3 397.4M44.7 394.6L45.9 394.6M44.7 397.4L45.9 397.4M47.6 386.8L47.6 390.5M47 386.8L48.2 386.8M47 390.5L48.2 390.5M49.4 386.1L49.4 389.8M48.8 386.1L50 386.1M48.8 389.8L50 389.8M51.1 384.5L51.1 389.1M50.5 384.5L51.7 384.5M50.5 389.1L51.7 389.1M54 379.9L54 384.5M53.4 379.9L54.6 379.9M53.4 384.5L54.6 384.5M56.8 377.1L56.8 382.7M56.2 377.1L57.4 377.1M56.2 382.7L57.4 382.7M59.6 376L59.6 381.5M59 376L60.2 376M59 381.5L60.2 381.5M62.6 371.4L62.6 376.9M62 371.4L63.2 371.4M62 376.9L63.2 376.9M65.5 370.2L65.5 375.8M64.9 370.2L66.1 370.2M64.9 375.8L66.1 375.8M68.3 369.1L68.3 374.6M67.7 369.1L68.9 369.1M67.7 374.6L68.9 374.6M70.1 382.2L70.1 386.8M69.5 382.2L70.7 382.2M69.5 386.8L70.7 386.8M71.1 372.5L71.1 378.1M70.5 372.5L71.7 372.5M70.5 378.1L71.7 378.1M72.9 374.8L72.9 380.4M72.3 374.8L73.5 374.8M72.3 380.4L73.5 380.4M75.7 373.7L75.7 379.2M75.1 373.7L76.3 373.7M75.1 379.2L76.3 379.2M78.7 372.5L78.7 378.1M78.1 372.5L79.3 372.5M78.1 378.1L79.3 378.1M81.6 375.8L81.6 380.4M81 375.8L82.2 375.8M81 380.4L82.2 380.4M84.9 376.5L84.9 381.1M84.3 376.5L85.5 376.5M84.3 381.1L85.5 381.1M87.9 376.5L87.9 381.1M87.3 376.5L88.5 376.5M87.3 381.1L88.5 381.1M90.2 376.5L90.2 381.1M89.6 376.5L90.8 376.5M89.6 381.1L90.8 381.1M93.1 375.3L93.1 379.9M92.5 375.3L93.7 375.3M92.5 379.9L93.7 379.9M95.9 376.5L95.9 381.1M95.3 376.5L96.5 376.5M95.3 381.1L96.5 381.1M98.2 375.3L98.2 379.9M97.6 375.3L98.8 375.3M97.6 379.9L98.8 379.9M104 373.7L104 379.2M103.4 373.7L104.6 373.7M103.4 379.2L104.6 379.2M106.3 370.2L106.3 375.8M105.7 370.2L106.9 370.2M105.7 375.8L106.9 375.8M108.6 369.1L108.6 374.6M108 369.1L109.2 369.1M108 374.6L109.2 374.6M110.9 366.8L110.9 372.3M110.3 366.8L111.5 366.8M110.3 372.3L111.5 372.3M114.3 372.5L114.3 378.1M113.7 372.5L114.9 372.5M113.7 378.1L114.9 378.1M116.6 370.2L116.6 375.8M116 370.2L117.2 370.2M116 375.8L117.2 375.8M121.7 365L121.7 369.6M121.1 365L122.3 365M121.1 369.6L122.3 369.6M123 361.5L123 366.1M122.4 361.5L123.6 361.5M122.4 366.1L123.6 366.1M124.7 359.2L124.7 363.8M124.1 359.2L125.3 359.2M124.1 363.8L125.3 363.8M125.8 368.4L125.8 373M125.2 368.4L126.4 368.4M125.2 373L126.4 373M127.4 369.6L127.4 374.2M126.8 369.6L128 369.6M126.8 374.2L128 374.2M174.4 392.6L174.4 394.9M173.8 392.6L175 392.6M173.8 394.9L175 394.9M176.7 371.4L176.7 376.9M176.1 371.4L177.3 371.4M176.1 376.9L177.3 376.9M179 390L179 392.8M178.4 390L179.6 390M178.4 392.8L179.6 392.8M181.3 387.3L181.3 390.9M180.7 387.3L181.9 387.3M180.7 390.9L181.9 390.9M183.6 386.1L183.6 389.8M183 386.1L184.2 386.1M183 389.8L184.2 389.8M185.9 386.1L185.9 389.8M185.3 386.1L186.5 386.1M185.3 389.8L186.5 389.8M188.7 385L188.7 388.6M188.1 385L189.3 385M188.1 388.6L189.3 388.6M191 377.6L191 382.2M190.4 377.6L191.6 377.6M190.4 382.2L191.6 382.2M192.8 376.5L192.8 381.1M192.2 376.5L193.4 376.5M192.2 381.1L193.4 381.1M196.1 372.5L196.1 378.1M195.5 372.5L196.7 372.5M195.5 378.1L196.7 378.1M199.1 371.4L199.1 376.9M198.5 371.4L199.7 371.4M198.5 376.9L199.7 376.9M202 371.4L202 376.9M201.4 371.4L202.6 371.4M201.4 376.9L202.6 376.9M206 371.4L206 376.9M205.4 371.4L206.6 371.4M205.4 376.9L206.6 376.9M209.4 372.5L209.4 378.1M208.8 372.5L210 372.5M208.8 378.1L210 378.1M212.2 372.5L212.2 378.1M211.6 372.5L212.8 372.5M211.6 378.1L212.8 378.1M215.2 371.4L215.2 376.9M214.6 371.4L215.8 371.4M214.6 376.9L215.8 376.9M218.1 372.5L218.1 378.1M217.5 372.5L218.7 372.5M217.5 378.1L218.7 378.1M220.9 373.7L220.9 379.2M220.3 373.7L221.5 373.7M220.3 379.2L221.5 379.2M224.4 374.8L224.4 380.4M223.8 374.8L225 374.8M223.8 380.4L225 380.4M227.3 374.4L227.3 379.9M226.7 374.4L227.9 374.4M226.7 379.9L227.9 379.9M230.6 373.7L230.6 379.2M230 373.7L231.2 373.7M230 379.2L231.2 379.2M233.6 372.5L233.6 378.1M233 372.5L234.2 372.5M233 378.1L234.2 378.1M236.5 370.2L236.5 375.8M235.9 370.2L237.1 370.2M235.9 375.8L237.1 375.8M239.3 371.4L239.3 376.9M238.7 371.4L239.9 371.4M238.7 376.9L239.9 376.9M241.6 370.2L241.6 375.8M241 370.2L242.2 370.2M241 375.8L242.2 375.8M243.9 371.4L243.9 376.9M243.3 371.4L244.5 371.4M243.3 376.9L244.5 376.9M246.2 364.5L246.2 370M245.6 364.5L246.8 364.5M245.6 370L246.8 370M247.8 359.9L247.8 365.4M247.2 359.9L248.4 359.9M247.2 365.4L248.4 365.4M289.2 390L289.2 392.8M288.6 390L289.8 390M288.6 392.8L289.8 392.8M290.8 391.2L290.8 393.9M290.2 391.2L291.4 391.2M290.2 393.9L291.4 393.9M293.8 376.5L293.8 381.1M293.2 376.5L294.4 376.5M293.2 381.1L294.4 381.1M296.1 387.7L296.1 390.5M295.5 387.7L296.7 387.7M295.5 390.5L296.7 390.5M298.4 384.5L298.4 388.2M297.8 384.5L299 384.5M297.8 388.2L299 388.2M300.7 382.7L300.7 386.3M300.1 382.7L301.3 382.7M300.1 386.3L301.3 386.3M303.6 381.5L303.6 385.2M303 381.5L304.2 381.5M303 385.2L304.2 385.2M306.4 382.7L306.4 386.3M305.8 382.7L307 382.7M305.8 386.3L307 386.3M308.7 386.1L308.7 389.8M308.1 386.1L309.3 386.1M308.1 389.8L309.3 389.8M311 374.8L311 379.4M310.4 374.8L311.6 374.8M310.4 379.4L311.6 379.4M313.8 377.6L313.8 382.2M313.2 377.6L314.4 377.6M313.2 382.2L314.4 382.2M316.1 378.8L316.1 383.4M315.5 378.8L316.7 378.8M315.5 383.4L316.7 383.4M319.7 373L319.7 377.6M319.1 373L320.3 373M319.1 377.6L320.3 377.6M322.5 376.5L322.5 381.1M321.9 376.5L323.1 376.5M321.9 381.1L323.1 381.1M325.3 373.7L325.3 379.2M324.7 373.7L325.9 373.7M324.7 379.2L325.9 379.2M328.9 374.8L328.9 380.4M328.3 374.8L329.5 374.8M328.3 380.4L329.5 380.4M331.7 377.1L331.7 382.7M331.1 377.1L332.3 377.1M331.1 382.7L332.3 382.7M335.2 371.4L335.2 376.9M334.6 371.4L335.8 371.4M334.6 376.9L335.8 376.9M338.1 382.7L338.1 386.3M337.5 382.7L338.7 382.7M337.5 386.3L338.7 386.3M340.9 376L340.9 381.5M340.3 376L341.5 376M340.3 381.5L341.5 381.5M343.2 373L343.2 377.6M342.6 373L343.8 373M342.6 377.6L343.8 377.6M345 374.2L345 378.8M344.4 374.2L345.6 374.2M344.4 378.8L345.6 378.8M349 375.3L349 379.9M348.4 375.3L349.6 375.3M348.4 379.9L349.6 379.9M351.3 382.7L351.3 386.3M350.7 382.7L351.9 382.7M350.7 386.3L351.9 386.3M353.6 371.4L353.6 376.9M353 371.4L354.2 371.4M353 376.9L354.2 376.9M357 377.6L357 382.2M356.4 377.6L357.6 377.6M356.4 382.2L357.6 382.2M358.8 379.9L358.8 384.5M358.2 379.9L359.4 379.9M358.2 384.5L359.4 384.5M361.1 372.5L361.1 378.1M360.5 372.5L361.7 372.5M360.5 378.1L361.7 378.1M366.2 367.3L366.2 371.9M365.6 367.3L366.8 367.3M365.6 371.9L366.8 371.9M411.5 397.2L411.5 399.5M410.9 397.2L412.1 397.2M410.9 399.5L412.1 399.5M414.4 381.1L414.4 385.7M413.8 381.1L415 381.1M413.8 385.7L415 385.7M415.6 382.7L415.6 386.3M415 382.7L416.2 382.7M415 386.3L416.2 386.3M417.2 376.5L417.2 381.1M416.6 376.5L417.8 376.5M416.6 381.1L417.8 381.1M418.4 393L418.4 395.3M417.8 393L419 393M417.8 395.3L419 395.3M420.7 379.9L420.7 384.5M420.1 379.9L421.3 379.9M420.1 384.5L421.3 384.5M421.8 381.5L421.8 385.2M421.2 381.5L422.4 381.5M421.2 385.2L422.4 385.2M426.4 370.2L426.4 375.8M425.8 370.2L427 370.2M425.8 375.8L427 375.8M429.9 371.4L429.9 376.9M429.3 371.4L430.5 371.4M429.3 376.9L430.5 376.9M432.2 370.2L432.2 375.8M431.6 370.2L432.8 370.2M431.6 375.8L432.8 375.8M434.5 369.6L434.5 374.2M433.9 369.6L435.1 369.6M433.9 374.2L435.1 374.2M436.8 374.8L436.8 380.4M436.2 374.8L437.4 374.8M436.2 380.4L437.4 380.4M441.4 370.2L441.4 375.8M440.8 370.2L442 370.2M440.8 375.8L442 375.8M444.8 369.1L444.8 374.6M444.2 369.1L445.4 369.1M444.2 374.6L445.4 374.6M447.6 367.9L447.6 373.5M447 367.9L448.2 367.9M447 373.5L448.2 373.5M450.6 366.8L450.6 372.3M450 366.8L451.2 366.8M450 372.3L451.2 372.3M452.9 367.9L452.9 373.5M452.3 367.9L453.5 367.9M452.3 373.5L453.5 373.5M455.8 370.2L455.8 375.8M455.2 370.2L456.4 370.2M455.2 375.8L456.4 375.8M459.8 371.9L459.8 376.5M459.2 371.9L460.4 371.9M459.2 376.5L460.4 376.5M462.1 370.7L462.1 375.3M461.5 370.7L462.7 370.7M461.5 375.3L462.7 375.3M464.4 372.5L464.4 377.1M463.8 372.5L465 372.5M463.8 377.1L465 377.1M467.8 369.1L467.8 374.6M467.2 369.1L468.4 369.1M467.2 374.6L468.4 374.6M470.6 367.9L470.6 373.5M470 367.9L471.2 367.9M470 373.5L471.2 373.5M474.7 364.5L474.7 370M474.1 364.5L475.3 364.5M474.1 370L475.3 370M477 369.1L477 374.6M476.4 369.1L477.6 369.1M476.4 374.6L477.6 374.6M479.3 366.8L479.3 372.3M478.7 366.8L479.9 366.8M478.7 372.3L479.9 372.3M481.6 363.3L481.6 368.9M481 363.3L482.2 363.3M481 368.9L482.2 368.9M483.9 361L483.9 366.6M483.3 361L484.5 361M483.3 366.6L484.5 366.6M486.2 361L486.2 366.6M485.6 361L486.8 361M485.6 366.6L486.8 366.6M488 364.5L488 370M487.4 364.5L488.6 364.5M487.4 370L488.6 370"/>
<path clip-path="url(#pc)" fill="#111" d="M48.3 36.7h0.9v0.9h-0.9zM52.9 34.9h0.9v0.9h-0.9zM55.2 37.6h0.9v0.9h-0.9zM65.6 21.5h0.9v0.9h-0.9zM68.5 21.1h0.9v0.9h-0.9zM77.1 26.8h0.9v0.9h-0.9zM82.8 24.5h0.9v0.9h-0.9zM88.6 28h0.9v0.9h-0.9zM93.2 30.3h0.9v0.9h-0.9zM96.6 25.7h0.9v0.9h-0.9zM100.1 27.5h0.9v0.9h-0.9zM108.1 29.1h0.9v0.9h-0.9zM113.9 26.8h0.9v0.9h-0.9zM117.3 25.7h0.9v0.9h-0.9zM178.6 44.1h0.9v0.9h-0.9zM183.2 41.8h0.9v0.9h-0.9zM187.8 38.3h0.9v0.9h-0.9zM193.3 44.1h0.9v0.9h-0.9zM197.5 36h0.9v0.9h-0.9zM199.3 43.6h0.9v0.9h-0.9zM202.1 38.3h0.9v0.9h-0.9zM206.7 32.6h0.9v0.9h-0.9zM211.3 32.6h0.9v0.9h-0.9zM215.9 34.9h0.9v0.9h-0.9zM220.5 33.7h0.9v0.9h-0.9zM223.9 33.7h0.9v0.9h-0.9zM230.1 26.1h0.9v0.9h-0.9zM234.7 26.8h0.9v0.9h-0.9zM239.3 34.9h0.9v0.9h-0.9zM244.6 19.2h0.9v0.9h-0.9zM312.2 31.4h0.9v0.9h-0.9zM331.7 30.3h0.9v0.9h-0.9zM345.7 33.7h0.9v0.9h-0.9zM350.1 32.6h0.9v0.9h-0.9zM354.3 30.3h0.9v0.9h-0.9zM358.9 29.1h0.9v0.9h-0.9zM363 30.7h0.9v0.9h-0.9zM423 28.4h0.9v0.9h-0.9zM431.7 36h0.9v0.9h-0.9zM434 38.3h0.9v0.9h-0.9zM437.5 41.8h0.9v0.9h-0.9zM443.2 30.3h0.9v0.9h-0.9zM447.1 37.2h0.9v0.9h-0.9zM451.7 36.7h0.9v0.9h-0.9zM462.3 36.7h0.9v0.9h-0.9zM463.9 36h0.9v0.9h-0.9zM470.8 30.3h0.9v0.9h-0.9zM477.7 32.6h0.9v0.9h-0.9zM482.3 29.8h0.9v0.9h-0.9zM47.2 205.7h0.9v0.9h-0.9zM48.8 221.8h0.9v0.9h-0.9zM51.1 224.1h0.9v0.9h-0.9zM53.4 194.2h0.9v0.9h-0.9zM55.9 216.1h0.9v0.9h-0.9zM59.1 202.3h0.9v0.9h-0.9zM62.1 204.6h0.9v0.9h-0.9zM65.6 202.3h0.9v0.9h-0.9zM67.9 206.9h0.9v0.9h-0.9zM71.3 204.6h0.9v0.9h-0.9zM74.8 204.6h0.9v0.9h-0.9zM78.2 206.9h0.9v0.9h-0.9zM81.2 216.1h0.9v0.9h-0.9zM84 205.7h0.9v0.9h-0.9zM87.4 204.6h0.9v0.9h-0.9zM90.9 206.9h0.9v0.9h-0.9zM93.2 203.4h0.9v0.9h-0.9zM96.6 206.9h0.9v0.9h-0.9zM100.1 205.7h0.9v0.9h-0.9zM102.4 204.6h0.9v0.9h-0.9zM105.8 203.4h0.9v0.9h-0.9zM110.4 203.4h0.9v0.9h-0.9zM113.9 205.7h0.9v0.9h-0.9zM117.3 200h0.9v0.9h-0.9zM120.1 202.3h0.9v0.9h-0.9zM125.8 197.7h0.9v0.9h-0.9zM128.1 191.9h0.9v0.9h-0.9zM171 222.5h0.9v0.9h-0.9zM173.3 206.9h0.9v0.9h-0.9zM175.6 213.8h0.9v0.9h-0.9zM177.4 218.8h0.9v0.9h-0.9zM179.5 210.3h0.9v0.9h-0.9zM182.5 200h0.9v0.9h-0.9zM183.7 206.9h0.9v0.9h-0.9zM187.8 216.1h0.9v0.9h-0.9zM190.6 213.8h0.9v0.9h-0.9zM192.9 212.6h0.9v0.9h-0.9zM195.6 208h0.9v0.9h-0.9zM197.5 204.6h0.9v0.9h-0.9zM199.8 205.7h0.9v0.9h-0.9zM203.2 201.1h0.9v0.9h-0.9zM206.2 204.6h0.9v0.9h-0.9zM209 205.7h0.9v0.9h-0.9zM213.1 206.9h0.9v0.9h-0.9zM215.9 204.6h0.9v0.9h-0.9zM219.3 203.4h0.9v0.9h-0.9zM222.8 204.6h0.9v0.9h-0.9zM226.2 206.9h0.9v0.9h-0.9zM228.5 204.6h0.9v0.9h-0.9zM232 205.7h0.9v0.9h-0.9zM235.4 203.4h0.9v0.9h-0.9zM238.9 204.6h0.9v0.9h-0.9zM292.8 213.8h0.9v0.9h-0.9zM295.6 206.9h0.9v0.9h-0.9zM299.1 211.5h0.9v0.9h-0.9zM302.5 209.2h0.9v0.9h-0.9zM304.8 210.3h0.9v0.9h-0.9zM307.1 212.6h0.9v0.9h-0.9zM309.4 209.2h0.9v0.9h-0.9zM311.7 208h0.9v0.9h-0.9zM314 204.6h0.9v0.9h-0.9zM315.6 206.9h0.9v0.9h-0.9zM319.8 208h0.9v0.9h-0.9zM322.1 204.6h0.9v0.9h-0.9zM323.9 209.2h0.9v0.9h-0.9zM326.2 212.6h0.9v0.9h-0.9zM327.8 211.5h0.9v0.9h-0.9zM330.1 208h0.9v0.9h-0.9zM332.4 209.2h0.9v0.9h-0.9zM334.7 206.9h0.9v0.9h-0.9zM338.2 208h0.9v0.9h-0.9zM341.6 206.9h0.9v0.9h-0.9zM345.1 205.7h0.9v0.9h-0.9zM347.4 205.7h0.9v0.9h-0.9zM350.8 204.6h0.9v0.9h-0.9zM353.1 204.6h0.9v0.9h-0.9zM355.4 203.4h0.9v0.9h-0.9zM358.4 197.7h0.9v0.9h-0.9zM360.7 191.9h0.9v0.9h-0.9zM412.2 227.6h0.9v0.9h-0.9zM414.9 226.4h0.9v0.9h-0.9zM417.9 221.8h0.9v0.9h-0.9zM420.2 220.7h0.9v0.9h-0.9zM423.2 216.1h0.9v0.9h-0.9zM424.8 213.8h0.9v0.9h-0.9zM428.3 218.4h0.9v0.9h-0.9zM432.9 223h0.9v0.9h-0.9zM434.7 221.8h0.9v0.9h-0.9zM437.9 219.5h0.9v0.9h-0.9zM443.2 206.9h0.9v0.9h-0.9zM447.8 217.2h0.9v0.9h-0.9zM450.1 219.5h0.9v0.9h-0.9zM452.4 213.8h0.9v0.9h-0.9zM454.7 211.5h0.9v0.9h-0.9zM457 210.3h0.9v0.9h-0.9zM459.3 211.5h0.9v0.9h-0.9zM461.6 212.6h0.9v0.9h-0.9zM463.9 210.3h0.9v0.9h-0.9zM466.2 211.5h0.9v0.9h-0.9zM468.5 209.2h0.9v0.9h-0.9zM471.5 210.3h0.9v0.9h-0.9zM474.3 209.2h0.9v0.9h-0.9zM476.6 211.5h0.9v0.9h-0.9zM478.9 210.3h0.9v0.9h-0.9zM482.3 208h0.9v0.9h-0.9zM486.9 201.1h0.9v0.9h-0.9zM44.9 395.6h0.9v0.9h-0.9zM47.2 388.2h0.9v0.9h-0.9zM49 387.5h0.9v0.9h-0.9zM50.6 386.4h0.9v0.9h-0.9zM53.6 381.8h0.9v0.9h-0.9zM56.4 379.5h0.9v0.9h-0.9zM59.1 378.3h0.9v0.9h-0.9zM62.1 373.7h0.9v0.9h-0.9zM65.1 372.6h0.9v0.9h-0.9zM67.9 371.4h0.9v0.9h-0.9zM69.7 384.1h0.9v0.9h-0.9zM70.6 374.9h0.9v0.9h-0.9zM72.5 377.2h0.9v0.9h-0.9zM75.2 376h0.9v0.9h-0.9zM78.2 374.9h0.9v0.9h-0.9zM81.2 377.6h0.9v0.9h-0.9zM84.4 378.3h0.9v0.9h-0.9zM87.4 378.3h0.9v0.9h-0.9zM89.7 378.3h0.9v0.9h-0.9zM92.7 377.2h0.9v0.9h-0.9zM95.5 378.3h0.9v0.9h-0.9zM97.8 377.2h0.9v0.9h-0.9zM103.5 376h0.9v0.9h-0.9zM105.8 372.6h0.9v0.9h-0.9zM108.1 371.4h0.9v0.9h-0.9zM110.4 369.1h0.9v0.9h-0.9zM113.9 374.9h0.9v0.9h-0.9zM116.2 372.6h0.9v0.9h-0.9zM121.2 366.8h0.9v0.9h-0.9zM124.2 361.1h0.9v0.9h-0.9zM125.4 370.3h0.9v0.9h-0.9zM174 393.3h0.9v0.9h-0.9zM178.6 391h0.9v0.9h-0.9zM180.9 388.7h0.9v0.9h-0.9zM183.2 387.5h0.9v0.9h-0.9zM185.5 387.5h0.9v0.9h-0.9zM188.3 386.4h0.9v0.9h-0.9zM190.6 379.5h0.9v0.9h-0.9zM192.4 378.3h0.9v0.9h-0.9zM195.6 374.9h0.9v0.9h-0.9zM198.6 373.7h0.9v0.9h-0.9zM201.6 373.7h0.9v0.9h-0.9zM205.5 373.7h0.9v0.9h-0.9zM209 374.9h0.9v0.9h-0.9zM211.7 374.9h0.9v0.9h-0.9zM214.7 373.7h0.9v0.9h-0.9zM217.7 374.9h0.9v0.9h-0.9zM220.5 376h0.9v0.9h-0.9zM223.9 377.2h0.9v0.9h-0.9zM226.9 376.7h0.9v0.9h-0.9zM230.1 376h0.9v0.9h-0.9zM233.1 374.9h0.9v0.9h-0.9zM236.1 372.6h0.9v0.9h-0.9zM238.9 373.7h0.9v0.9h-0.9zM241.2 372.6h0.9v0.9h-0.9zM243.5 373.7h0.9v0.9h-0.9zM247.4 362.2h0.9v0.9h-0.9zM288.7 391h0.9v0.9h-0.9zM290.3 392.1h0.9v0.9h-0.9zM295.6 388.7h0.9v0.9h-0.9zM297.9 385.9h0.9v0.9h-0.9zM300.2 384.1h0.9v0.9h-0.9zM303.2 382.9h0.9v0.9h-0.9zM306 384.1h0.9v0.9h-0.9zM308.3 387.5h0.9v0.9h-0.9zM310.6 376.7h0.9v0.9h-0.9zM313.3 379.5h0.9v0.9h-0.9zM315.6 380.6h0.9v0.9h-0.9zM319.3 374.9h0.9v0.9h-0.9zM322.1 378.3h0.9v0.9h-0.9zM324.8 376h0.9v0.9h-0.9zM328.5 377.2h0.9v0.9h-0.9zM331.3 379.5h0.9v0.9h-0.9zM334.7 373.7h0.9v0.9h-0.9zM337.7 384.1h0.9v0.9h-0.9zM340.5 378.3h0.9v0.9h-0.9zM342.8 374.9h0.9v0.9h-0.9zM344.6 376h0.9v0.9h-0.9zM348.5 377.2h0.9v0.9h-0.9zM350.8 384.1h0.9v0.9h-0.9zM353.1 373.7h0.9v0.9h-0.9zM356.6 379.5h0.9v0.9h-0.9zM358.4 381.8h0.9v0.9h-0.9zM360.7 374.9h0.9v0.9h-0.9zM414 382.9h0.9v0.9h-0.9zM415.1 384.1h0.9v0.9h-0.9zM416.8 378.3h0.9v0.9h-0.9zM420.2 381.8h0.9v0.9h-0.9zM421.4 382.9h0.9v0.9h-0.9zM426 372.6h0.9v0.9h-0.9zM429.4 373.7h0.9v0.9h-0.9zM431.7 372.6h0.9v0.9h-0.9zM434 371.4h0.9v0.9h-0.9zM436.3 377.2h0.9v0.9h-0.9zM440.9 372.6h0.9v0.9h-0.9zM444.4 371.4h0.9v0.9h-0.9zM447.1 370.3h0.9v0.9h-0.9zM450.1 369.1h0.9v0.9h-0.9zM452.4 370.3h0.9v0.9h-0.9zM455.4 372.6h0.9v0.9h-0.9zM459.3 373.7h0.9v0.9h-0.9zM461.6 372.6h0.9v0.9h-0.9zM463.9 374.4h0.9v0.9h-0.9zM467.4 371.4h0.9v0.9h-0.9zM470.1 370.3h0.9v0.9h-0.9zM474.3 366.8h0.9v0.9h-0.9zM476.6 371.4h0.9v0.9h-0.9zM478.9 369.1h0.9v0.9h-0.9zM481.2 365.7h0.9v0.9h-0.9zM483.5 363.4h0.9v0.9h-0.9zM485.8 363.4h0.9v0.9h-0.9z"/>
<path clip-path="url(#pc)" fill="#e33" d="M122.4 25h1.2v1.2h-1.2zM122.9 198.7h1.2v1.2h-1.2zM168.6 229.7h1.2v1.2h-1.2zM244.5 191.8h1.2v1.2h-1.2zM246.8 195.2h1.2v1.2h-1.2zM290.9 230.9h1.2v1.2h-1.2zM318.5 215.9h1.2v1.2h-1.2zM362.8 198.7h1.2v1.2h-1.2zM410.4 229.7h1.2v1.2h-1.2zM484.5 202.1h1.2v1.2h-1.2zM489.1 204.4h1.2v1.2h-1.2zM122.4 363.2h1.2v1.2h-1.2zM126.8 371.3h1.2v1.2h-1.2zM176.1 373.6h1.2v1.2h-1.2zM245.6 366.7h1.2v1.2h-1.2zM293.2 378.2h1.2v1.2h-1.2zM365.6 369h1.2v1.2h-1.2zM410.9 397.7h1.2v1.2h-1.2zM417.8 393.6h1.2v1.2h-1.2zM487.4 366.7h1.2v1.2h-1.2z"/>
<path clip-path="url(#pc)" fill="none" stroke="#1f3cf5" stroke-width="1.05" stroke-linejoin="round" d="M47.1 24.3L47.9 24.3L48.6 24.3L49.3 24.3L50.1 24.3L50.8 27.9L51.6 30.8L52.3 32.9L53 34.3L53.8 36.5L54.5 36.8L55.2 36.9L56 37.7L56.7 39L57.4 39.2L58.2 37.4L58.9 34.3L59.7 32.2L60.4 29.2L61.1 26.5L61.9 27.1L62.6 27.1L63.3 25.4L64.1 26.2L64.8 28.5L65.5 25.2L66.3 26.4L67 26.6L67.7 27.1L68.5 27.6L69.2 27.2L70 25.9L70.7 26.2L71.4 25.7L72.2 28.1L72.9 26.6L73.6 26.7L74.4 31.5L75.1 32L75.8 32.9L76.6 31.1L77.3 30.1L78.1 31.4L78.8 30.8L79.5 31.3L80.3 31.4L81 29.4L81.7 30.2L82.5 29.2L83.2 28.6L83.9 30.9L84.7 30.5L85.4 29.7L86.1 27.4L86.9 27.4L87.6 27L88.4 25.5L89.1 25.6L89.8 28.7L90.6 29.4L91.3 30.2L92 31.4L92.8 31.3L93.5 31.3L94.2 31.4L95 31.5L95.7 30.1L96.5 30.1L97.2 29.7L97.9 29.9L98.7 27.7L99.4 28.4L100.1 28.5L100.9 28.5L101.6 26.8L102.3 28.2L103.1 27.4L103.8 27L104.5 27.7L105.3 29.3L106 29.4L106.8 28.4L107.5 29.4L108.2 30.3L109 28.4L109.7 28L110.4 27.4L111.2 27.2L111.9 26.4L112.6 26L113.4 25.6L114.1 25.2L114.9 24.5L115.6 25.1L116.3 26.6L117.1 25L117.8 25.4L118.5 23.5L118.9 24.3M171.5 38.3L172.2 40.2L172.9 36.6L173.7 34.5L174.4 34.5L175.1 34.4L175.9 33.8L176.6 34.7L177.3 33.3L178.1 34.1L178.8 33.2L179.5 33.2L180.3 32.3L181 30.4L181.8 31.9L182.5 29.9L183.2 30.6L184 30.1L184.7 30.3L185.4 31.7L186.2 31.7L186.9 32.7L187.6 30.3L188.4 31.8L189.1 31.7L189.9 32.9L190.6 32.6L191.3 32.4L192.1 32.7L192.8 32.5L193.5 32.7L194.3 31L195 31.9L195.7 32L196.5 32.4L197.2 32.1L197.9 33.5L198.7 29.4L199.4 33L200.2 32.5L200.9 32.8L201.6 33.5L202.4 34L203.1 32L203.8 32.1L204.6 32.9L205.3 33.7L206 33L206.8 32.2L207.5 33.3L208.3 31L209 31.6L209.7 32.2L210.5 31.9L211.2 32.6L211.9 33.1L212.7 34L213.4 32.3L214.1 34.3L214.9 33.7L215.6 32.1L216.3 30.5L217.1 32.2L217.8 32.2L218.6 32.7L219.3 31.8L220 32.1L220.8 31.7L221.5 30.7L222.2 31.7L223 31.8L223.7 31.1L224.4 30.5L225.2 33L225.9 32L226.7 31.3L227.4 30.7L228.1 31.4L228.9 31L229.6 31.3L230.3 30.2L231.1 28.8L231.8 29.6L232.5 29.9L233.3 29.2L234 27.7L234.7 29.2L235.5 27.1L236.2 27.9L237 27L237.7 28.4L238.4 27.4L239.2 25.8L239.9 25.1L240.6 25.1L241.4 26.1L242.1 25.7L242.8 24.8L243.6 25.8L244.3 28L245.1 25L245.8 25.4L246.2 26.1M293.8 24.4L294.5 29.9L295.2 42L296 45.6L296.7 47.9L297.4 49.5L298.2 49.7L298.9 52.9L299.6 54.1L300.4 54.4L301.1 54.4L301.8 54.4L302.6 54.4L303.3 54.4L304.1 54.4L304.8 54.4L305.5 53.2L306.3 48.6L307 46.4L307.7 45.6L308.5 43.3L309.2 41.3L309.9 38.6L310.7 36.2L311.4 35.5L312.2 33.3L312.9 36.1L313.6 34.1L314.4 34.8L315.1 35.9L315.8 37.3L316.6 35.3L317.3 38.6L318 37.3L318.8 37.7L319.5 39.3L320.2 39L321 38L321.7 38.1L322.5 39.8L323.2 38.9L323.9 39.8L324.7 39.9L325.4 37.5L326.1 38.6L326.9 40.9L327.6 42L328.3 42.2L329.1 41.6L329.8 40.7L330.6 41L331.3 41.4L332 50.7L332.8 54.4L333.5 54.4L334.2 54.4L335 54.4L335.7 54.4L336.4 54.4L337.2 54.4L337.9 54.4L338.6 54.4L339.4 54.4L340.1 54.4L340.9 54.4L341.6 54.4L342.3 54.4L343.1 54.4L343.8 53.8L344.5 50.5L345.3 49.7L346 52.2L346.7 49.5L347.5 50.8L348.2 49L349 43.8L349.7 42.6L350.4 38.7L351.2 33.7L351.9 37.2L352.6 37.8L353.4 35.3L354.1 38.1L354.8 41.2L355.6 39.4L356.3 35.8L357 34.5L357.8 34.1L358.5 33.8L359.3 28.7L360 27.1L360.7 27.5L361.5 32.6L362.2 33L362.9 28.2L363.7 26.4L364.4 27.1L365.1 28.4L365.9 33.4L366.6 37.2L367.4 40.5L367.4 41.1M432.2 34.1L432.9 33.1L433.6 29.1L434.4 25.2L435.1 26.8L435.8 24.1L436.6 26.6L437.3 26.3L438 27.2L438.8 24.8L439.5 25.5L440.2 26.8L441 25.6L441.7 23.5L442.5 27.9L443.2 27.1L443.9 27.9L444.7 25.9L445.4 23.6L446.1 24.2L446.9 22.8L447.6 25.4L448.3 26.2L449.1 28.4L449.8 25.9L450.6 23.8L451.3 26.4L452 25.2L452.8 25.6L453.5 26.5L454.2 26.8L455 26.2L455.7 27.2L456.4 28.1L457.2 29.6L457.9 31.1L458.6 29.7L459.4 28.6L460.1 28.7L460.9 26.9L461.6 25.7L462.3 26.5L463.1 26.6L463.8 25.8L464.5 28.1L465.3 27.4L466 28L466.7 28.2L467.5 28.5L468.2 29L469 27.5L469.7 28.3L470.4 29.6L471.2 30.5L471.9 30.1L472.6 29.6L473.4 31.4L474.1 31.8L474.8 32.4L475.6 30.8L476.3 32.6L477 28.7L477.8 28L478.5 28.9L479.3 27.7L480 27.1L480.7 25.1L481.5 24.6L482.2 24.6L482.9 25.6L483.7 25L484.4 24.2L485.1 24L485.9 24.4L486.6 23.6L487.4 23.3L487.4 24.3M56.8 199.2L57.5 197.2L58.3 196.5L59 201.1L59.7 202.9L60.5 205.3L61.2 204.7L62 207.5L62.7 205.7L63.4 208.1L64.2 207.1L64.9 207.3L65.6 205.2L66.4 206.7L67.1 207.9L67.8 207.1L68.6 206.7L69.3 206.8L70 209L70.8 209.9L71.5 209.5L72.3 207L73 209.4L73.7 210.6L74.5 207.5L75.2 210.1L75.9 209.3L76.7 208.7L77.4 209.9L78.1 208.5L78.9 209.4L79.6 212.7L80.4 211.5L81.1 211.8L81.8 209.6L82.6 209.7L83.3 210.5L84 209.9L84.8 211.3L85.5 211.3L86.2 212.1L87 211.8L87.7 210.7L88.4 212.7L89.2 210.5L89.9 211.5L90.7 212.9L91.4 211.9L92.1 213.1L92.9 212.4L93.6 210.8L94.3 209.9L95.1 210.6L95.8 211.1L96.5 212.2L97.3 211.3L98 212.5L98.8 212.5L99.5 212.7L100.2 209.3L101 210.4L101.7 211.5L102.4 210.9L103.2 211.2L103.9 210.1L104.6 209.6L105.4 209.3L106.1 211.5L106.8 211.6L107.6 210.4L108.3 210.6L109.1 213.2L109.8 210.5L110.5 210.6L111.3 209.7L112 211.6L112.7 210.2L113.5 210.5L114.2 209.2L114.9 209.8L115.7 209.1L116.4 208.9L117.2 207.9L117.9 207L118.6 207.8L119.4 205.8L120.1 207.1L120.8 205.2L121.6 207.4L122.3 206.1L123 206.1L123.8 204.6L124.5 203.5L125.2 200.6L125.8 200.4M174.9 196.3L175.6 196.3L176.4 196.3L177.1 196.3L177.8 196.3L178.6 196.3L179.3 196.3L180.1 196.3L180.8 196.3L181.5 196.3L182.3 196.3L183 196.3L183.7 196.3L184.5 196.3L185.2 196.3L185.9 196.3L186.7 196.3L187.4 196.3L188.1 196.3L188.9 196.5L189.6 198.3L190.4 200.4L191.1 198.4L191.8 201.3L192.6 200.7L193.3 202.4L194 203.2L194.8 201.2L195.5 203.8L196.2 202.7L197 203.9L197.7 204.4L198.5 203.8L199.2 203.8L199.9 203.8L200.7 205L201.4 203.5L202.1 203L202.9 203.2L203.6 203.3L204.3 204.6L205.1 203.4L205.8 203.3L206.5 203.6L207.3 202.7L208 204.7L208.8 203.2L209.5 203.8L210.2 204.7L211 205.9L211.7 203.4L212.4 204.4L213.2 202.9L213.9 204.3L214.6 203.6L215.4 204.3L216.1 203.9L216.9 204.3L217.6 203L218.3 203.4L219.1 204.2L219.8 203.2L220.5 204.6L221.3 205L222 203.6L222.7 202.9L223.5 203L224.2 203.4L224.9 203.3L225.7 202.7L226.4 205.5L227.2 205.2L227.9 202.8L228.6 201.6L229.4 202.9L230.1 205.3L230.8 202.9L231.6 202.8L232.3 202.1L233 202.7L233.8 204.5L234.5 204L235.3 201.7L236 204.7L236.7 204.4L237.5 201.6L238.2 203L238.9 202.5L239.7 203.7L240.4 202.7L241.1 202.4L241.9 201.1L242.6 200.9L242.8 200.4M299.5 196.3L300.2 196.3L301 196.3L301.7 196.3L302.4 196.3L303.2 196.3L303.9 196.3L304.7 196.3L305.4 196.3L306.1 196.3L306.9 196.3L307.6 196.3L308.3 196.3L309.1 196.5L309.8 196.2L310.5 197.8L311.3 198.8L312 198.1L312.7 198.8L313.5 198.8L314.2 199.1L315 200.8L315.7 200.1L316.4 200.3L317.2 201L317.9 201L318.6 199.2L319.4 201.2L320.1 202.5L320.8 202.3L321.6 202L322.3 201.1L323.1 201.8L323.8 202.2L324.5 201.1L325.3 202.7L326 202.5L326.7 202.4L327.5 203.4L328.2 202.1L328.9 203.5L329.7 203.6L330.4 203.9L331.1 203.3L331.9 203.5L332.6 203.6L333.4 203.3L334.1 203.3L334.8 202L335.6 205.7L336.3 203.9L337 203.1L337.8 205.2L338.5 203.9L339.2 204.1L340 202.6L340.7 203.6L341.5 202.5L342.2 203.3L342.9 202.3L343.7 204.5L344.4 204L345.1 204.3L345.9 203.6L346.6 203.8L347.3 204.2L348.1 203L348.8 202.5L349.5 203.1L350.3 204.1L351 203.6L351.8 202.9L352.5 201.9L353.2 204.3L354 201.7L354.7 202.2L355.4 203.7L356.2 204L356.9 205.4L357.6 202.6L358.4 204.5L359.1 202.5L359.9 202.3L360.6 204.8L361.3 201.9L362.1 202.8L362.8 205.6L363.5 207L363.9 202.7M418.4 196.3L419.1 196.3L419.8 196.3L420.6 196.3L421.3 196.3L422 196.6L422.8 198.9L423.5 198.1L424.2 200.4L425 202.3L425.7 202.6L426.4 206.4L427.2 204.9L427.9 205.8L428.7 204.7L429.4 206.1L430.1 207L430.9 207.8L431.6 208L432.3 209.5L433.1 207.3L433.8 210L434.5 207.9L435.3 209.6L436 210.8L436.8 208.2L437.5 207.8L438.2 209.6L439 209L439.7 210.8L440.4 210L441.2 207.7L441.9 209.2L442.6 207.1L443.4 210.1L444.1 208.5L444.8 208.8L445.6 209.4L446.3 210.4L447.1 212.1L447.8 210.7L448.5 210.3L449.3 209.9L450 211.5L450.7 209.6L451.5 211.1L452.2 211.6L452.9 210.4L453.7 210.9L454.4 212.6L455.2 212.3L455.9 211.9L456.6 213.1L457.4 211.7L458.1 212.4L458.8 212L459.6 212.8L460.3 212.4L461 214.7L461.8 214.7L462.5 214.2L463.2 213L464 212.5L464.7 210.9L465.5 212.3L466.2 212.5L466.9 212.6L467.7 212.2L468.4 214.4L469.1 212.2L469.9 211L470.6 212.1L471.3 211L472.1 210.3L472.8 209.8L473.6 211L474.3 211.2L475 211.8L475.8 213.8L476.5 211.3L477.2 211.9L478 211.7L478.7 212.2L479.4 210.8L480.2 211.2L480.9 211.7L481.6 212.2L482.4 212L483.1 210.9L483.9 211.3L484.6 209L485.3 206.4L486.1 205.3L486.8 201.5L487.4 200.4M47.6 366.6L48.3 365.4L49.1 364.8L49.8 365.3L50.5 366.6L51.3 367.3L52 365.9L52.8 368L53.5 368.7L54.2 368.5L55 370.2L55.7 370.1L56.4 370.4L57.2 370.6L57.9 371L58.6 371.5L59.4 372.5L60.1 371.3L60.8 370.1L61.6 371.4L62.3 373.1L63.1 372.4L63.8 373.5L64.5 372.9L65.3 373.3L66 372.7L66.7 373.6L67.5 375.7L68.2 375.2L68.9 375.3L69.7 376L70.4 375.8L71.2 376.5L71.9 377.4L72.6 376.6L73.4 379.2L74.1 375.9L74.8 378.2L75.6 378.1L76.3 378.3L77 378.9L77.8 378.2L78.5 379.3L79.2 378.3L80 378.7L80.7 378.4L81.5 379.6L82.2 379.4L82.9 380.3L83.7 378.5L84.4 380L85.1 378.4L85.9 379.2L86.6 380L87.3 379.2L88.1 379.4L88.8 378.8L89.6 379.9L90.3 379.6L91 381.7L91.8 381.1L92.5 379.8L93.2 381L94 379.5L94.7 378.9L95.4 379.9L96.2 378.9L96.9 378.8L97.6 378.8L98.4 380L99.1 379.3L99.9 379.2L100.6 379.5L101.3 381.5L102.1 379.2L102.8 381.5L103.5 380L104.3 381.9L105 381.1L105.7 381.4L106.5 380.6L107.2 381.9L108 380.1L108.7 381.9L109.4 381.5L110.2 380.6L110.9 381.1L111.6 381.9L112.4 380.8L113.1 380.1L113.8 381.6L114.6 381.1L115.3 383L116 381.9L116.8 379L117.5 376.9L118.3 376.1L119 374.7L119.7 376.2L120.5 377.3L121.2 377.9L121.9 373.5L122.7 370.6L123.4 376.7L123.5 379.9M181.8 364.3L182.5 364.7L183.3 365.7L184 367.2L184.7 366.7L185.5 368.3L186.2 367.8L187 367.6L187.7 370.1L188.4 371.7L189.2 371.8L189.9 371.2L190.6 371.3L191.4 371.9L192.1 371.9L192.8 371.8L193.6 374.6L194.3 374L195 374.1L195.8 374.7L196.5 375.3L197.3 375.5L198 377.2L198.7 375.5L199.5 376.7L200.2 375.6L200.9 376.8L201.7 377.1L202.4 375.7L203.1 377.6L203.9 377.1L204.6 377.9L205.4 376.6L206.1 377.7L206.8 377.7L207.6 376.8L208.3 376.1L209 376.9L209.8 376.4L210.5 375.6L211.2 375.8L212 374.3L212.7 375L213.4 376.3L214.2 376.8L214.9 376.6L215.7 377.7L216.4 377.2L217.1 375.9L217.9 376.2L218.6 376.7L219.3 376.8L220.1 378.1L220.8 376.3L221.5 377.4L222.3 378.2L223 377.6L223.8 377.6L224.5 378.4L225.2 378.8L226 380L226.7 378.8L227.4 379.7L228.2 379.5L228.9 380.6L229.6 379.1L230.4 379.7L231.1 380.5L231.8 379.1L232.6 378.7L233.3 377.7L234.1 375.6L234.8 374.2L235.5 377.9L236.3 377.2L237 378.4L237.7 378.9L238.5 378.4L239.2 379.6L239.9 377.6L240.7 377.8L241.4 377.3L242.2 375.8L242.9 377.3L243.6 374.7L244.4 373.9L245.1 373.2L245.8 371.4L246.6 371.2L247.3 371.4L247.4 371.9M307.6 369.9L308.3 368.4L309 368.9L309.8 368.3L310.5 368.8L311.2 367L312 368.6L312.7 369.5L313.4 369.7L314.2 368.8L314.9 366.8L315.6 369.1L316.4 368.4L317.1 368.3L317.9 368.9L318.6 368.2L319.3 367.6L320.1 370.1L320.8 367.1L321.5 368L322.3 367.7L323 367.3L323.7 366.9L324.5 368.4L325.2 368.4L326 368.2L326.7 367.4L327.4 367.8L328.2 367.7L328.9 369.2L329.6 369.1L330.4 367.8L331.1 367.4L331.8 367.3L332.6 369.3L333.3 367.1L334 367.3L334.8 368.1L335.5 366.8L336.3 367.4L337 368.1L337.7 366.8L338.5 368L339.2 366.5L339.9 367.3L340.7 367.3L341.4 368.8L342.1 368.8L342.9 368.5L343.6 368.2L344.4 368.5L345.1 367.9L345.8 367.8L346.6 368.5L347.3 368.2L348 370L348.8 368.4L349.5 367.6L350.2 366L351 367.9L351.7 367.5L352.4 366.7L353.2 365.9L353.9 367.8L354.7 366L355.4 367L356.1 365.5L356.9 367.7L357.6 367.5L358.3 368.8L359.1 369L359.8 366.2L360.5 367.6L361.3 366L362 366L362.8 367.2L363.5 367.5L364.2 368.5L365 368.1L365.7 367.1L366.4 366.3L367.2 367.9L367.4 368.4M294.2 367.9L294.7 365.2L295.6 364.7M300.9 367L302.3 365.6L303.6 366.6L304.6 367.5M415.6 365.5L416.3 365.6L417.1 372.5L417.8 379.5L418.5 380.4L419.3 373.2L420 367.4L420.7 364.7L421.5 365.8L422.2 367.8L423 365.8L423.7 366.5L424.4 366.8L425.2 366.4L425.9 366.4L426.6 366.4L427.4 366.8L428.1 368.3L428.8 368.6L429.6 369L430.3 369.7L431 370.5L431.8 369.5L432.5 370L433.3 370.7L434 368.2L434.7 371.8L435.5 371.8L436.2 372.1L436.9 372.9L437.7 373L438.4 372.2L439.1 373.6L439.9 374.2L440.6 373.2L441.4 374.8L442.1 376.2L442.8 376.4L443.6 374.1L444.3 374.1L445 374.7L445.8 376.6L446.5 375.4L447.2 374.9L448 375.7L448.7 376.2L449.4 377L450.2 376.3L450.9 377.7L451.7 377.8L452.4 376.2L453.1 377.1L453.9 377.2L454.6 378.4L455.3 378.6L456.1 377.6L456.8 377.1L457.5 377.5L458.3 378.7L459 379.5L459.8 379.7L460.5 379.6L461.2 378.4L462 377.7L462.7 379.6L463.4 379.4L464.2 378.9L464.9 379.5L465.6 378L466.4 379.9L467.1 379.6L467.8 379.6L468.6 379.3L469.3 380.2L470.1 380.8L470.8 380L471.5 379.9L472.3 380L473 380.6L473.7 381.9L474.5 383L475.2 380.5L475.9 381L476.7 378.6L477.4 379.7L478.2 380.1L478.9 381.1L479.6 380.6L480.4 381.1L481.1 381.9L481.8 382.1L482.6 382.5L483.3 384L484 382.3L484.8 382.2L485.5 381.5L486.2 381.1L487 379.3L487.4 379.4"/>
<path clip-path="url(#pc)" fill="#c4c4c4" d="M41.9 84.1L41.9 83.8L41.9 83.7L41.9 83.6L41.9 83.5L41.9 83.4L42 83.3L42 83.3L42 83.2L42 83.1L42 83L42.1 83L42.1 82.9L124.9 82.9L124.9 84.1zM161.1 84.1L163.6 83.3L166.1 82.8L168.6 82.5L171.1 82.1L173.6 81.8L176.1 81.6L178.5 81.3L181 81.1L183.5 80.8L186 80.6L188.5 80.4L191 80.2L251.3 80.2L251.3 84.1zM268.6 84.2h105.7v1.5h-105.7zM388.5 84.2h105.8v1.5h-105.8zM46.5 256.1L51.1 255L55.8 254.3L60.5 253.8L65.2 253.4L69.9 252.9L74.6 252.5L79.3 252.2L84 251.8L88.7 251.5L93.4 251.2L98.1 250.8L102.8 250.5L127 250.5L127 256.1zM166.9 256.1L172.3 255.1L177.8 254.5L183.2 254L188.7 253.6L194.2 253.2L199.6 252.8L205.1 252.5L210.6 252.2L216 251.9L221.5 251.6L226.9 251.3L232.4 251L247.4 251L247.4 256.1zM286.9 256.1L292.3 255L297.8 254.4L303.2 253.9L308.7 253.5L314.2 253.1L319.6 252.7L325.1 252.3L330.6 252L336 251.7L341.5 251.4L346.9 251.1L352.4 250.8L366.2 250.8L366.2 256.1zM409.2 256.1L414.4 254.8L419.7 254.1L425 253.5L430.2 253L435.5 252.5L440.8 252.1L446 251.7L451.3 251.3L456.6 250.9L461.9 250.5L467.1 250.2L472.4 249.9L488 249.9L488 256.1zM41.9 424.8L46.9 423.7L52 423L57.1 422.5L62.2 422L67.2 421.6L72.3 421.2L77.4 420.9L82.5 420.5L87.6 420.2L92.6 419.8L97.7 419.5L102.8 419.2L128.1 419.2L128.1 424.8zM172.6 424.8L177.6 423.6L182.6 423L187.6 422.4L192.5 421.9L197.5 421.5L202.5 421.1L207.5 420.7L212.5 420.3L217.5 420L222.4 419.6L227.4 419.3L232.4 419L250.3 419L250.3 424.8zM288 424.8L294.5 423.5L301 422.7L307.6 422.1L314.1 421.6L320.6 421.1L327.1 420.6L333.6 420.2L340.1 419.8L346.7 419.4L353.2 419L359.7 418.7L366.2 418.3L369 418.3L369 424.8zM410.3 424.8L416.6 424L423 423.5L429.3 423.2L435.6 422.8L441.9 422.5L448.3 422.3L454.6 422L460.9 421.7L467.2 421.5L473.6 421.3L479.9 421.1L486.2 420.8L493.1 420.8L493.1 424.8z"/>
<path clip-path="url(#pc)" fill="#858585" d="M41.9 84.1L41.9 83.8L41.9 83.7L41.9 83.6L41.9 83.5L41.9 83.4L42 83.3L42 83.3L42 83.2L42 83.1L42 83L42.1 83L42.1 82.9L124.9 82.9L124.9 84.1zM161.1 84.1L163.6 83.8L166.1 83.7L168.6 83.6L171.1 83.5L173.6 83.4L176.1 83.3L178.5 83.3L181 83.2L183.5 83.1L186 83L188.5 83L191 82.9L251.3 82.9L251.3 84.1zM46.5 256.1L51.1 255.2L55.8 254.7L60.5 254.3L65.2 253.9L69.9 253.6L74.6 253.3L79.3 253L84 252.7L88.7 252.4L93.4 252.2L98.1 251.9L102.8 251.7L127 251.7L127 256.1zM166.9 256.1L172.3 255.3L177.8 254.8L183.2 254.5L188.7 254.1L194.2 253.8L199.6 253.6L205.1 253.3L210.6 253.1L216 252.8L221.5 252.6L226.9 252.4L232.4 252.2L247.4 252.2L247.4 256.1zM286.9 256.1L292.3 255.2L297.8 254.8L303.2 254.4L308.7 254L314.2 253.7L319.6 253.4L325.1 253.1L330.6 252.9L336 252.6L341.5 252.4L346.9 252.1L352.4 251.9L366.2 251.9L366.2 256.1zM409.2 256.1L414.4 255L419.7 254.3L425 253.8L430.2 253.4L435.5 252.9L440.8 252.5L446 252.2L451.3 251.8L456.6 251.5L461.9 251.2L467.1 250.8L472.4 250.5L488 250.5L488 256.1zM41.9 424.8L46.9 423.8L52 423.3L57.1 422.9L62.2 422.5L67.2 422.1L72.3 421.8L77.4 421.5L82.5 421.2L87.6 420.9L92.6 420.7L97.7 420.4L102.8 420.2L128.1 420.2L128.1 424.8zM172.6 424.8L177.6 423.8L182.6 423.2L187.6 422.8L192.5 422.4L197.5 422L202.5 421.7L207.5 421.3L212.5 421L217.5 420.7L222.4 420.5L227.4 420.2L232.4 419.9L250.3 419.9L250.3 424.8zM288 424.8L294.5 423.5L301 422.8L307.6 422.2L314.1 421.7L320.6 421.2L327.1 420.8L333.6 420.4L340.1 420L346.7 419.6L353.2 419.2L359.7 418.9L366.2 418.5L369 418.5L369 424.8zM410.3 424.8L416.6 424.1L423 423.7L429.3 423.4L435.6 423.2L441.9 422.9L448.3 422.7L454.6 422.5L460.9 422.3L467.2 422.1L473.6 421.9L479.9 421.7L486.2 421.5L493.1 421.5L493.1 424.8z"/>
<path clip-path="url(#pc)" fill="none" stroke="#f5b64a" stroke-width="0.85" stroke-linejoin="round" d="M25.1 83.4L41.4 83.4L43 80.6L45.1 76.9L46.9 74.9L48.5 74.2L59.1 74.2L63 73.7L65.1 73.7L65.5 71.2L74.1 71.2L74.5 76.7L83.3 76.7L85.6 75.6L89 75.6L93.6 74.9L100.5 73.9L105.1 73.9L108.6 74.4L112 75.6L116.6 76.7L121.2 81.8L125.8 83.1L132.7 83.6M150.1 84.1L161.1 84.1L168 81.3L174.9 79L179.5 78.1L186.4 78.5L191 77.9L196.8 76.7L197.9 74.4L199.1 77.2L204.8 78.5L209.4 79.5L214 79L218.6 78.1L225.5 77.9L230.1 76.2L234.7 75.8L239.3 76.2L243.9 77.2L248.5 80.2L253.1 83.1L258.9 84.1M270.1 84.1L288 84.1L289.2 79L294.9 78.5L301.8 76.7L306.4 74.4L311 72.1L314.5 71L317.9 72.6L324.8 72.8L331.7 73.3L332.9 79L338.6 79L344.4 78.5L346.7 77.9L350.1 77.4L352.4 78.3L357 76.7L359.3 75.6L361.6 79L363.9 75.1L366.2 79L368.5 83.1L373.1 84.1L378.9 84.1M390.1 84.1L409.2 84.1L410.3 82L417.2 81.8L421.8 81.3L426.4 80.8L431 79L435.6 77.9L440.2 77.2L444.8 75.6L449.4 73.9L454 73.3L458.6 72.6L463.2 72.1L465.5 71L472.4 71L477 71.4L481.6 71.6L485.1 72.1L487.4 76.7L489.7 82.5L493.1 84.1L498.9 84.1M25.1 256.1L45.8 256.1L46.5 255.1L49.9 253.3L54.5 251L56.8 248.7L60.3 245.5L66 245.5L70.6 245.3L75.2 244.6L79.8 244.1L84.4 244.6L89 244.1L92.5 243.2L95.9 243.6L100.5 243.6L105.1 243L108.6 242.3L112 241.8L116.6 241.3L121.2 242.3L124.7 245.3L126.3 252.2L128.1 255.1L130.4 256.1M150.1 256.1L166.9 256.1L169.2 253.8L172.6 250.5L177.2 251L181.8 249.9L185.3 247.6L191 248L195.6 248.2L200.2 246.9L204.8 246.4L209.4 245.9L214 245.5L220.9 245.3L225.5 244.6L230.1 243.6L233.6 242.3L235.9 241.8L239.3 242.3L241.6 243L243.9 246.4L246.2 251L248.5 254.5L250.8 256.1L258.9 256.1M270.1 256.1L286.9 256.1L290.3 253.3L292.6 251L297.2 249.2L301.8 247.6L306.4 246.9L311 245.3L313.3 243.6L315.6 244.1L320.2 243.6L324.8 244.1L329.4 243.2L334 243.6L338.6 243.2L342.1 242.3L344.4 240.7L346.7 241.8L350.1 243L354.7 243.6L357 243.2L359.3 244.1L361.6 247.6L363.9 251L366.2 254.5L368.5 256.1L378.9 256.1M390.1 256.1L409.2 256.1L410.3 254.5L414.9 252.8L419.5 251.5L424.1 251L428.7 250.5L433.3 250.1L435.6 249.2L440.2 248.2L444.8 247.6L449.4 246.9L454 245.9L458.6 245.3L463.2 244.6L467.8 245.3L470.1 243L472.4 242.3L477 242.7L481.6 243.6L485.1 244.1L487.4 248.7L489.7 254.5L492 256.1L498.9 256.1M25.1 425.2L40.7 425.2L43 421.3L45.3 419L47.6 418.5L52.2 416.7L54.5 415.6L56.8 413.3L59.1 414.4L61.4 415.6L63.7 414.9L66 415.6L70.6 414.4L75.2 413.9L79.8 413.7L84.4 413.3L89 412.6L93.6 412.1L98.2 411L102.8 410.3L107.4 409.3L112 408.7L114.3 408L116.6 407.5L118.9 409.3L121.2 412.1L123.5 414.4L125.8 416.7L128.1 421.3L130.4 424.1L132.7 425.4M150.1 424.8L172.6 424.8L173.8 422.5L176.1 420.2L179.5 419L184.1 417.2L188.7 416.7L193.3 417.2L195.6 417.9L200.2 416.7L202.5 414.9L204.8 414.4L207.1 415.6L209.4 415.6L214 414.9L216.3 414.4L218.6 412.6L220.9 412.1L223.2 411.6L225.5 410.3L227.8 408.7L229 405.7L230.1 409.8L232.4 410.3L234.7 411L237 408.9L239.3 409.3L241.6 409.8L243.9 410.3L246.2 413.3L248.5 417.9L249.7 423.6L252 424.8L258.9 424.8M270.1 424.8L288 424.8L289.2 422.5L292.6 420.8L297.2 420.2L301.8 419.5L306.4 419L311 417.9L315.6 417.2L320.2 416.2L324.8 415.6L329.4 413.3L330.6 411.6L331.7 412.1L334 414.9L338.6 415.6L343.2 414.9L347.8 414.4L350.1 412.6L352.4 411.6L354.7 412.1L357 411.6L359.3 412.6L361.6 413.3L363.9 414.4L366.2 416.7L368.5 423.6L370.8 424.8L378.9 424.8M390.1 424.8L410.3 424.8L411.5 421.3L413.8 419L416.1 417.2L418.4 417.9L421.8 416.7L423 412.6L426.4 411.6L429.9 412.1L432.2 411L434.5 412.1L436.8 410.3L439.1 409.3L441.4 408.7L444.8 408L449.4 408L454 407L456.3 406.4L458.6 407L463.2 406.4L467.8 405.9L472.4 406.4L477 405.7L481.6 406.4L485.1 406.4L487.4 410.3L489.7 416.7L492 423.1L494.3 424.8L498.9 424.8"/>
<path clip-path="url(#pc)" fill="#111" d="M28.5 77.6h1.5v1.5h-1.5zM51.5 77.3h1.5v1.5h-1.5zM57.2 77.3h1.5v1.5h-1.5zM65.3 77.6h1.5v1.5h-1.5zM68.2 77.8h1.5v1.5h-1.5zM73.3 76.2h1.5v1.5h-1.5zM77.4 76.9h1.5v1.5h-1.5zM83.7 76h1.5v1.5h-1.5zM87.8 75.5h1.5v1.5h-1.5zM92.4 74.8h1.5v1.5h-1.5zM97 76.6h1.5v1.5h-1.5zM107.8 75.5h1.5v1.5h-1.5zM112.4 76.4h1.5v1.5h-1.5zM122.3 76.6h1.5v1.5h-1.5zM178.3 77.3h1.5v1.5h-1.5zM182.9 77.3h1.5v1.5h-1.5zM187.5 78.3h1.5v1.5h-1.5zM192.6 77.8h1.5v1.5h-1.5zM197.2 77.6h1.5v1.5h-1.5zM199.5 78.3h1.5v1.5h-1.5zM201.8 78.9h1.5v1.5h-1.5zM206.4 78.9h1.5v1.5h-1.5zM211 78.7h1.5v1.5h-1.5zM215.6 77.3h1.5v1.5h-1.5zM219.7 77.3h1.5v1.5h-1.5zM224.8 76.6h1.5v1.5h-1.5zM229.4 75.3h1.5v1.5h-1.5zM234.4 75.5h1.5v1.5h-1.5zM239 72.5h1.5v1.5h-1.5zM311.9 76.4h1.5v1.5h-1.5zM326.8 78.3h1.5v1.5h-1.5zM331.4 78.9h1.5v1.5h-1.5zM345.2 78.3h1.5v1.5h-1.5zM349.8 77.3h1.5v1.5h-1.5zM354.4 77.8h1.5v1.5h-1.5zM358.6 74.8h1.5v1.5h-1.5zM363.2 75h1.5v1.5h-1.5zM422.9 77.6h1.5v1.5h-1.5zM431.4 78.7h1.5v1.5h-1.5zM433.7 78.3h1.5v1.5h-1.5zM437.6 77.8h1.5v1.5h-1.5zM442.9 78.9h1.5v1.5h-1.5zM446.8 78.7h1.5v1.5h-1.5zM451.4 77.3h1.5v1.5h-1.5zM457.4 77.1h1.5v1.5h-1.5zM460.8 78.3h1.5v1.5h-1.5zM463.6 75.5h1.5v1.5h-1.5zM465.9 74.1h1.5v1.5h-1.5zM470.5 74.3h1.5v1.5h-1.5zM477.4 74.1h1.5v1.5h-1.5zM482 74.1h1.5v1.5h-1.5zM45.7 253.9h1.5v1.5h-1.5zM47.4 253.9h1.5v1.5h-1.5zM49.2 252.9h1.5v1.5h-1.5zM50.9 251.3h1.5v1.5h-1.5zM52.6 250.8h1.5v1.5h-1.5zM54.3 249.6h1.5v1.5h-1.5zM56.1 248.2h1.5v1.5h-1.5zM57.8 246.7h1.5v1.5h-1.5zM59.5 244.2h1.5v1.5h-1.5zM61.2 244.1h1.5v1.5h-1.5zM63 245.2h1.5v1.5h-1.5zM64.7 244.6h1.5v1.5h-1.5zM66.4 245h1.5v1.5h-1.5zM68.1 243.9h1.5v1.5h-1.5zM69.9 244.4h1.5v1.5h-1.5zM71.6 244.5h1.5v1.5h-1.5zM73.3 243.6h1.5v1.5h-1.5zM75 244.4h1.5v1.5h-1.5zM76.8 244.1h1.5v1.5h-1.5zM78.5 242.8h1.5v1.5h-1.5zM80.2 242.8h1.5v1.5h-1.5zM81.9 243.7h1.5v1.5h-1.5zM83.7 244.4h1.5v1.5h-1.5zM85.4 243.5h1.5v1.5h-1.5zM87.1 243.1h1.5v1.5h-1.5zM88.8 243.1h1.5v1.5h-1.5zM90.6 242.1h1.5v1.5h-1.5zM92.3 242.1h1.5v1.5h-1.5zM94 242.7h1.5v1.5h-1.5zM95.7 242.9h1.5v1.5h-1.5zM97.5 242.5h1.5v1.5h-1.5zM99.2 242.5h1.5v1.5h-1.5zM100.9 242.3h1.5v1.5h-1.5zM102.6 242.4h1.5v1.5h-1.5zM104.4 241.9h1.5v1.5h-1.5zM106.1 241.2h1.5v1.5h-1.5zM107.8 242h1.5v1.5h-1.5zM109.5 241.4h1.5v1.5h-1.5zM111.3 241.2h1.5v1.5h-1.5zM113 240.4h1.5v1.5h-1.5zM114.7 241.4h1.5v1.5h-1.5zM116.4 241.2h1.5v1.5h-1.5zM118.2 240.5h1.5v1.5h-1.5zM119.9 241.2h1.5v1.5h-1.5zM121.6 242.8h1.5v1.5h-1.5zM123.3 244.3h1.5v1.5h-1.5zM125.1 250h1.5v1.5h-1.5zM126.8 253.3h1.5v1.5h-1.5zM167.3 253.8h1.5v1.5h-1.5zM169 253.1h1.5v1.5h-1.5zM170.7 250.3h1.5v1.5h-1.5zM172.4 250.1h1.5v1.5h-1.5zM174.2 249.4h1.5v1.5h-1.5zM175.9 249.8h1.5v1.5h-1.5zM177.6 250.7h1.5v1.5h-1.5zM179.3 249.1h1.5v1.5h-1.5zM181.1 249.3h1.5v1.5h-1.5zM182.8 247.9h1.5v1.5h-1.5zM184.5 246.7h1.5v1.5h-1.5zM186.2 246.9h1.5v1.5h-1.5zM188 246.7h1.5v1.5h-1.5zM189.7 247.7h1.5v1.5h-1.5zM191.4 246.8h1.5v1.5h-1.5zM193.1 247h1.5v1.5h-1.5zM194.9 246.8h1.5v1.5h-1.5zM196.6 246.7h1.5v1.5h-1.5zM198.3 246.3h1.5v1.5h-1.5zM200 246.6h1.5v1.5h-1.5zM201.8 245.7h1.5v1.5h-1.5zM203.5 245.2h1.5v1.5h-1.5zM205.2 245.2h1.5v1.5h-1.5zM206.9 246h1.5v1.5h-1.5zM208.7 244.6h1.5v1.5h-1.5zM210.4 245.2h1.5v1.5h-1.5zM212.1 244.7h1.5v1.5h-1.5zM213.8 244.9h1.5v1.5h-1.5zM215.6 244.4h1.5v1.5h-1.5zM217.3 244.9h1.5v1.5h-1.5zM219 244.5h1.5v1.5h-1.5zM220.7 244.6h1.5v1.5h-1.5zM222.5 244.7h1.5v1.5h-1.5zM224.2 244h1.5v1.5h-1.5zM225.9 243.1h1.5v1.5h-1.5zM227.6 242.6h1.5v1.5h-1.5zM229.4 243.5h1.5v1.5h-1.5zM231.1 242.2h1.5v1.5h-1.5zM232.8 241.1h1.5v1.5h-1.5zM234.5 241.8h1.5v1.5h-1.5zM236.3 241.3h1.5v1.5h-1.5zM238 241.7h1.5v1.5h-1.5zM239.7 242.4h1.5v1.5h-1.5zM241.4 242.8h1.5v1.5h-1.5zM243.2 245.5h1.5v1.5h-1.5zM244.9 249.6h1.5v1.5h-1.5zM246.6 251.5h1.5v1.5h-1.5zM289.6 253.2h1.5v1.5h-1.5zM291.4 250h1.5v1.5h-1.5zM293.2 250h1.5v1.5h-1.5zM295.1 248.5h1.5v1.5h-1.5zM296.9 248.9h1.5v1.5h-1.5zM298.8 246.9h1.5v1.5h-1.5zM300.6 247.5h1.5v1.5h-1.5zM302.4 246.8h1.5v1.5h-1.5zM304.3 246.8h1.5v1.5h-1.5zM306.1 246.6h1.5v1.5h-1.5zM308 244.9h1.5v1.5h-1.5zM309.8 244.4h1.5v1.5h-1.5zM311.6 243.8h1.5v1.5h-1.5zM313.5 242.8h1.5v1.5h-1.5zM315.3 243h1.5v1.5h-1.5zM317.2 242.7h1.5v1.5h-1.5zM319 243.4h1.5v1.5h-1.5zM320.8 243.5h1.5v1.5h-1.5zM322.7 243.6h1.5v1.5h-1.5zM324.5 242.9h1.5v1.5h-1.5zM326.4 243.5h1.5v1.5h-1.5zM328.2 242.5h1.5v1.5h-1.5zM330 242.2h1.5v1.5h-1.5zM331.9 242.7h1.5v1.5h-1.5zM333.7 242.7h1.5v1.5h-1.5zM335.6 242.1h1.5v1.5h-1.5zM337.4 242.6h1.5v1.5h-1.5zM339.2 241.9h1.5v1.5h-1.5zM341.1 241.7h1.5v1.5h-1.5zM342.9 241h1.5v1.5h-1.5zM344.8 240.7h1.5v1.5h-1.5zM346.6 241.1h1.5v1.5h-1.5zM348.4 242.4h1.5v1.5h-1.5zM350.3 243h1.5v1.5h-1.5zM352.1 242.6h1.5v1.5h-1.5zM354 243.5h1.5v1.5h-1.5zM355.8 241.9h1.5v1.5h-1.5zM357.6 242.5h1.5v1.5h-1.5zM359.5 244.3h1.5v1.5h-1.5zM361.3 248.1h1.5v1.5h-1.5zM363.2 250.5h1.5v1.5h-1.5zM365 253.3h1.5v1.5h-1.5zM409.6 254.3h1.5v1.5h-1.5zM411.4 252.6h1.5v1.5h-1.5zM413.2 251.8h1.5v1.5h-1.5zM415.1 252.5h1.5v1.5h-1.5zM416.9 250.8h1.5v1.5h-1.5zM418.8 250.2h1.5v1.5h-1.5zM420.6 250.7h1.5v1.5h-1.5zM422.4 250.1h1.5v1.5h-1.5zM424.3 250.7h1.5v1.5h-1.5zM426.1 249.6h1.5v1.5h-1.5zM428 250.4h1.5v1.5h-1.5zM429.8 249.4h1.5v1.5h-1.5zM431.6 249.6h1.5v1.5h-1.5zM433.5 249.6h1.5v1.5h-1.5zM435.3 248.6h1.5v1.5h-1.5zM437.2 248.5h1.5v1.5h-1.5zM439 247.9h1.5v1.5h-1.5zM440.8 246.7h1.5v1.5h-1.5zM442.7 247.5h1.5v1.5h-1.5zM444.5 246.9h1.5v1.5h-1.5zM446.4 246.2h1.5v1.5h-1.5zM448.2 245.8h1.5v1.5h-1.5zM450 246.3h1.5v1.5h-1.5zM451.9 245.6h1.5v1.5h-1.5zM453.7 245.7h1.5v1.5h-1.5zM455.6 245.2h1.5v1.5h-1.5zM457.4 245.2h1.5v1.5h-1.5zM459.2 244.4h1.5v1.5h-1.5zM461.1 244.3h1.5v1.5h-1.5zM462.9 244h1.5v1.5h-1.5zM464.8 243.8h1.5v1.5h-1.5zM466.6 245.1h1.5v1.5h-1.5zM468.4 242.9h1.5v1.5h-1.5zM470.3 242.3h1.5v1.5h-1.5zM472.1 242.2h1.5v1.5h-1.5zM474 241.9h1.5v1.5h-1.5zM475.8 241.4h1.5v1.5h-1.5zM477.6 242.7h1.5v1.5h-1.5zM479.5 242.8h1.5v1.5h-1.5zM481.3 242.5h1.5v1.5h-1.5zM483.2 242.6h1.5v1.5h-1.5zM485 244.8h1.5v1.5h-1.5zM486.8 247.9h1.5v1.5h-1.5zM43.4 420h1.5v1.5h-1.5zM45.2 418.7h1.5v1.5h-1.5zM47.1 417.1h1.5v1.5h-1.5zM48.9 416.4h1.5v1.5h-1.5zM50.8 416.7h1.5v1.5h-1.5zM52.6 415.7h1.5v1.5h-1.5zM54.4 414.3h1.5v1.5h-1.5zM56.3 412.4h1.5v1.5h-1.5zM58.1 413.7h1.5v1.5h-1.5zM60 414.6h1.5v1.5h-1.5zM61.8 414.6h1.5v1.5h-1.5zM63.6 413.8h1.5v1.5h-1.5zM65.5 414.6h1.5v1.5h-1.5zM67.3 414.1h1.5v1.5h-1.5zM69.2 414.1h1.5v1.5h-1.5zM71 414.2h1.5v1.5h-1.5zM72.8 414h1.5v1.5h-1.5zM74.7 413.2h1.5v1.5h-1.5zM76.5 413h1.5v1.5h-1.5zM78.4 412.7h1.5v1.5h-1.5zM80.2 412.2h1.5v1.5h-1.5zM82 412h1.5v1.5h-1.5zM83.9 412.4h1.5v1.5h-1.5zM85.7 411.9h1.5v1.5h-1.5zM87.6 411.7h1.5v1.5h-1.5zM89.4 412.2h1.5v1.5h-1.5zM91.2 411.5h1.5v1.5h-1.5zM93.1 411.4h1.5v1.5h-1.5zM94.9 410.5h1.5v1.5h-1.5zM96.8 409.7h1.5v1.5h-1.5zM98.6 409.8h1.5v1.5h-1.5zM100.4 409.3h1.5v1.5h-1.5zM102.3 409.5h1.5v1.5h-1.5zM104.1 409.8h1.5v1.5h-1.5zM106 409h1.5v1.5h-1.5zM107.8 408h1.5v1.5h-1.5zM109.6 408.7h1.5v1.5h-1.5zM111.5 408.2h1.5v1.5h-1.5zM113.3 407.6h1.5v1.5h-1.5zM115.2 407.4h1.5v1.5h-1.5zM117 408h1.5v1.5h-1.5zM118.8 409.8h1.5v1.5h-1.5zM120.7 411.4h1.5v1.5h-1.5zM122.5 414.1h1.5v1.5h-1.5zM124.4 415.9h1.5v1.5h-1.5zM126.2 417.8h1.5v1.5h-1.5zM173 421.6h1.5v1.5h-1.5zM174.8 419.7h1.5v1.5h-1.5zM176.7 418.4h1.5v1.5h-1.5zM178.5 418.8h1.5v1.5h-1.5zM180.4 416.9h1.5v1.5h-1.5zM182.2 416.9h1.5v1.5h-1.5zM184 416.9h1.5v1.5h-1.5zM185.9 415.6h1.5v1.5h-1.5zM187.7 416h1.5v1.5h-1.5zM189.6 416.3h1.5v1.5h-1.5zM191.4 415.7h1.5v1.5h-1.5zM193.2 416.5h1.5v1.5h-1.5zM195.1 417.3h1.5v1.5h-1.5zM196.9 416.5h1.5v1.5h-1.5zM198.8 416.4h1.5v1.5h-1.5zM200.6 414.6h1.5v1.5h-1.5zM202.4 413.6h1.5v1.5h-1.5zM204.3 413.2h1.5v1.5h-1.5zM206.1 414.7h1.5v1.5h-1.5zM208 415.4h1.5v1.5h-1.5zM209.8 414.8h1.5v1.5h-1.5zM211.6 414.7h1.5v1.5h-1.5zM213.5 413.9h1.5v1.5h-1.5zM215.3 414h1.5v1.5h-1.5zM217.2 411.8h1.5v1.5h-1.5zM219 411.3h1.5v1.5h-1.5zM220.8 411.5h1.5v1.5h-1.5zM222.7 411.1h1.5v1.5h-1.5zM224.5 409.5h1.5v1.5h-1.5zM226.4 407.8h1.5v1.5h-1.5zM228.2 404.6h1.5v1.5h-1.5zM230 408.8h1.5v1.5h-1.5zM231.9 409.3h1.5v1.5h-1.5zM233.7 410.6h1.5v1.5h-1.5zM235.6 408.3h1.5v1.5h-1.5zM237.4 408.9h1.5v1.5h-1.5zM239.2 409.3h1.5v1.5h-1.5zM241.1 408.5h1.5v1.5h-1.5zM242.9 409.3h1.5v1.5h-1.5zM244.8 411.6h1.5v1.5h-1.5zM246.6 414.1h1.5v1.5h-1.5zM289.1 421.2h1.5v1.5h-1.5zM290.9 420.5h1.5v1.5h-1.5zM292.8 419.8h1.5v1.5h-1.5zM294.6 419.6h1.5v1.5h-1.5zM296.5 419.3h1.5v1.5h-1.5zM298.3 419.3h1.5v1.5h-1.5zM300.1 418.5h1.5v1.5h-1.5zM302 418.8h1.5v1.5h-1.5zM303.8 417.8h1.5v1.5h-1.5zM305.7 418h1.5v1.5h-1.5zM307.5 417.6h1.5v1.5h-1.5zM309.3 416.8h1.5v1.5h-1.5zM311.2 417.3h1.5v1.5h-1.5zM313 416.4h1.5v1.5h-1.5zM314.9 416.8h1.5v1.5h-1.5zM316.7 416.7h1.5v1.5h-1.5zM318.5 415.3h1.5v1.5h-1.5zM320.4 415.9h1.5v1.5h-1.5zM322.2 415.5h1.5v1.5h-1.5zM324.1 415h1.5v1.5h-1.5zM325.9 413.2h1.5v1.5h-1.5zM327.7 412.9h1.5v1.5h-1.5zM329.6 411.4h1.5v1.5h-1.5zM331.4 411.6h1.5v1.5h-1.5zM333.3 413.7h1.5v1.5h-1.5zM335.1 414.1h1.5v1.5h-1.5zM336.9 414.3h1.5v1.5h-1.5zM338.8 415.1h1.5v1.5h-1.5zM340.6 414.2h1.5v1.5h-1.5zM342.5 414h1.5v1.5h-1.5zM344.3 414.1h1.5v1.5h-1.5zM346.1 414.4h1.5v1.5h-1.5zM348 412.6h1.5v1.5h-1.5zM349.8 411h1.5v1.5h-1.5zM351.7 411.5h1.5v1.5h-1.5zM353.5 411.7h1.5v1.5h-1.5zM355.3 411.5h1.5v1.5h-1.5zM357.2 411.3h1.5v1.5h-1.5zM359 411.6h1.5v1.5h-1.5zM360.9 412h1.5v1.5h-1.5zM362.7 413.2h1.5v1.5h-1.5zM364.5 415h1.5v1.5h-1.5zM366.4 418.1h1.5v1.5h-1.5zM410.7 421.1h1.5v1.5h-1.5zM412.5 419.3h1.5v1.5h-1.5zM414.4 417.7h1.5v1.5h-1.5zM416.2 416.1h1.5v1.5h-1.5zM418.1 417.1h1.5v1.5h-1.5zM419.9 416.2h1.5v1.5h-1.5zM421.7 413.5h1.5v1.5h-1.5zM423.6 410.9h1.5v1.5h-1.5zM425.4 410.5h1.5v1.5h-1.5zM427.3 411h1.5v1.5h-1.5zM429.1 411h1.5v1.5h-1.5zM430.9 410.4h1.5v1.5h-1.5zM432.8 410.2h1.5v1.5h-1.5zM434.6 410h1.5v1.5h-1.5zM436.5 409.6h1.5v1.5h-1.5zM438.3 408.5h1.5v1.5h-1.5zM440.1 408.1h1.5v1.5h-1.5zM442 407.9h1.5v1.5h-1.5zM443.8 407.1h1.5v1.5h-1.5zM445.7 406.6h1.5v1.5h-1.5zM447.5 407.6h1.5v1.5h-1.5zM449.3 407.2h1.5v1.5h-1.5zM451.2 406.9h1.5v1.5h-1.5zM453 406.5h1.5v1.5h-1.5zM454.9 406.5h1.5v1.5h-1.5zM456.7 405.8h1.5v1.5h-1.5zM458.5 406.5h1.5v1.5h-1.5zM460.4 405.7h1.5v1.5h-1.5zM462.2 405.7h1.5v1.5h-1.5zM464.1 405.7h1.5v1.5h-1.5zM465.9 405h1.5v1.5h-1.5zM467.7 404.6h1.5v1.5h-1.5zM469.6 405.4h1.5v1.5h-1.5zM471.4 405.9h1.5v1.5h-1.5zM473.3 405.5h1.5v1.5h-1.5zM475.1 405h1.5v1.5h-1.5zM476.9 405.2h1.5v1.5h-1.5zM478.8 404.9h1.5v1.5h-1.5zM480.6 405.1h1.5v1.5h-1.5zM482.5 405.4h1.5v1.5h-1.5zM484.3 406h1.5v1.5h-1.5zM486.1 408.3h1.5v1.5h-1.5z"/>
<path fill="none" stroke="#888" stroke-width="0.4" stroke-dasharray="1,1" d="M22.3 92.6L132.5 92.6M22.3 152.3L132.5 152.3M22.3 133.3L132.5 133.3M147.6 92.6L254.4 92.6M147.6 152.3L254.4 152.3M147.6 133.3L254.4 133.3M268.6 92.6L374.3 92.6M268.6 152.3L374.3 152.3M268.6 133.3L374.3 133.3M388.5 92.6L494.3 92.6M388.5 152.3L494.3 152.3M388.5 133.3L494.3 133.3M22.3 264.8L132.5 264.8M22.3 324.5L132.5 324.5M22.3 305.5L132.5 305.5M147.6 264.8L254.4 264.8M147.6 324.5L254.4 324.5M147.6 305.5L254.4 305.5M268.6 264.8L374.3 264.8M268.6 324.5L374.3 324.5M268.6 305.5L374.3 305.5M388.5 264.8L494.3 264.8M388.5 324.5L494.3 324.5M388.5 305.5L494.3 305.5M22.3 433.3L132.5 433.3M22.3 493L132.5 493M22.3 474L132.5 474M147.6 433.3L254.4 433.3M147.6 493L254.4 493M147.6 474L254.4 474M268.6 433.3L374.3 433.3M268.6 493L374.3 493M268.6 474L374.3 474M388.5 433.3L494.3 433.3M388.5 493L494.3 493M388.5 474L494.3 474"/>
<path clip-path="url(#pc)" fill="none" stroke="#3fa33f" stroke-width="0.75" stroke-linejoin="round" d="M25.1 90.4L29.2 89.1L36.1 90.9L43 92.7L49.9 95.5L56.8 98.3L63.7 100.6L72.9 102.9L82.1 104.2L89 104.7L95.9 105.2L100.5 104.7L105.1 102.4L112 100.1L118.9 97.8L125.8 94.4L132.2 89.8M150.1 89.8L156.5 92.1L163.4 94.4L170.3 96.7L179.5 99.6L188.7 102.4L197.9 104.2L207.1 105.2L216.3 105.4L223.2 104.7L230.1 101.9L237 99.6L243.9 97.3L250.8 94.4L254.3 92.1M270.1 89.1L278.8 92.1L288 95L297.2 97.8L306.4 100.6L315.6 102.4L324.8 103.6L334 102.9L343.2 100.6L352.4 98.3L361.6 96.7L368.5 95L370.8 93.2L374.3 90.4M390.8 92.1L396.5 90.4L403.4 92.1L410.3 93.7L419.5 95.5L431 98.3L442.5 101.3L454 103.6L463.2 103.6L472.4 101.3L481.6 99L488.5 96.7L494.3 93.2M25.1 261.1L33.8 261.8L43 263.4L52.2 265.7L61.4 268.7L70.6 271.6L79.8 274.4L89 276.2L95.9 276.7L102.8 275.6L112 272.1L121.2 269.8L128.1 267.5L132.2 262.9M150.1 261.1L158.8 262.9L168 265.2L177.2 268.7L186.4 272.6L195.6 274.9L204.8 276.2L214 276.7L223.2 276.2L232.4 273.3L241.6 270.3L248.5 268.7L254.3 265.2M270.1 261.1L278.8 262.4L288 265.2L297.2 267.5L306.4 271.6L315.6 273.9L324.8 274.9L334 274.9L343.2 273.3L352.4 271L361.6 269.8L366.2 268.7L370.8 265.2L374.3 260.6M390.1 259.5L398.8 262.4L408 265.2L417.2 268L426.4 271L435.6 273.3L444.8 274.9L454 275.6L463.2 274.4L472.4 272.6L481.6 271L488.5 269.3L493.1 265.2L494.9 261.8M25.1 430.1L33.8 431.9L43 433.7L52.2 435.4L61.4 438.8L70.6 441.6L79.8 443.9L89 445.2L98.2 445.2L107.4 443.4L116.6 440.6L123.5 438.8L129.3 436.5L132.2 433.1M150.1 427.8L158.8 430.1L168 432.4L177.2 434.2L186.4 437.7L195.6 440.6L204.8 442.9L214 443.9L223.2 443.4L232.4 441.1L241.6 439.3L248.5 437.7L254.3 431.9M270.1 429.1L278.8 429.6L288 431.9L297.2 435.4L306.4 438.3L315.6 440L324.8 441.6L334 442.3L343.2 441.6L352.4 438.8L361.6 437L368.5 436.5L372 433.1L374.3 429.1M390.8 428.5L398.8 430.1L408 431.9L417.2 433.7L426.4 436L435.6 438.8L444.8 441.6L454 442.9L463.2 442.3L472.4 440.6L481.6 438.8L488.5 437.7L494.3 433.1"/>
<path clip-path="url(#pc)" fill="none" stroke="#1a1a1a" stroke-width="0.55" stroke-linejoin="round" d="M25.1 90.6L25.6 90.6L26.2 89.7L26.7 87.4L27.3 89L27.8 87.7L28.4 89.3L28.9 87.3L29.5 89.9L30 89.7L30.6 91.9L31.1 90.4L31.7 90.9L32.2 89.8L32.8 89.6L33.3 92.6L33.9 91.1L34.4 91.8L35 91.6L35.5 92.4L36.1 89.3L36.7 89.4L37.2 92.5L37.8 94.8L38.3 89.6L38.9 91.3L39.4 92.6L40 91.8L40.5 92.2L41.1 92.2L41.6 94.1L42.2 93L42.7 93.4L43.3 91.8L43.8 94.4L44.4 96L44.9 94.9L45.5 94L46 93.1L46.6 95.5L47.1 95.8L47.7 95.4L48.2 94.5L48.8 97.9L49.3 97.8L49.9 98.3L50.5 100L51 98.7L51.6 99.9L52.1 102L52.7 99.6L53.2 100.6L53.8 101.7L54.3 100.3L54.9 99.7L55.4 102.7L56 104.1L56.5 101.6L57.1 103.5L57.6 102.8L58.2 104.6L58.7 100.5L59.3 101.9L59.8 100L60.4 100.4L60.9 101.4L61.5 100.6L62 100.3L62.6 99L63.1 97.4L63.7 100L64.3 101.5L64.8 100.4L65.4 100.8L65.9 103.8L66.5 103.4L67 103.6L67.6 105L68.1 103.3L68.7 103.3L69.2 104.2L69.8 102.4L70.3 103.6L70.9 104L71.4 105L72 105.4L72.5 103.6L73.1 105.5L73.6 105.9L74.2 106.6L74.7 106.4L75.3 104.7L75.8 105.2L76.4 104.3L76.9 105.5L77.5 105.4L78.1 104.4L78.6 105.4L79.2 106.7L79.7 107L80.3 105.8L80.8 105.7L81.4 106.7L81.9 107.7L82.5 107.4L83 106.9L83.6 105.9L84.1 105.5L84.7 108.6L85.2 107.3L85.8 105L86.3 107.3L86.9 105.3L87.4 106.3L88 105L88.5 105.7L89.1 104.4L89.6 104.9L90.2 106L90.7 106.3L91.3 103.5L91.9 106.9L92.4 102.3L93 102.8L93.5 103.6L94.1 105.2L94.6 105.1L95.2 105.1L95.7 107.5L96.3 106.2L96.8 105.7L97.4 106.3L97.9 104L98.5 107.5L99 106.6L99.6 105.3L100.1 105.7L100.7 105.7L101.2 105.6L101.8 104.4L102.3 102L102.9 101L103.4 103.1L104 99.4L104.5 99.6L105.1 101.5L105.7 98.3L106.2 100.8L106.8 101.4L107.3 103.1L107.9 101.5L108.4 99.8L109 98L109.5 100.8L110.1 100.6L110.6 101.2L111.2 101.3L111.7 99.6L112.3 99L112.8 97.6L113.4 99.1L113.9 99.1L114.5 96.8L115 97.3L115.6 97.7L116.1 97.9L116.7 94.5L117.2 94.9L117.8 93.7L118.3 93.4L118.9 95.4L119.5 95.3L120 93.3L120.6 93.2L121.1 92.5L121.7 95.4L122.2 92.3L122.8 92.5L123.3 91.7L123.9 93.5L124.4 91.8L125 90L125.5 92.4L126.1 92.1L126.6 91.4L127.2 91.4L127.7 91.4L128.3 91.3L128.8 92L129.4 91.1L129.9 91.3L130.5 90.6L131 90L131.6 88.9L132.1 88.7M150.1 89.1L150.6 90.9L151.2 91.3L151.7 89.5L152.3 89L152.8 90.4L153.4 93.4L153.9 94.1L154.5 91L155 90.3L155.6 89.9L156.1 90.6L156.7 92.7L157.2 91.6L157.8 92L158.3 93.3L158.9 90.5L159.4 91.5L160 93.1L160.5 92.7L161.1 93.2L161.7 94.1L162.2 94.7L162.8 95.3L163.3 94.9L163.9 95.2L164.4 94.7L165 96L165.5 95.4L166.1 94.3L166.6 94.2L167.2 94.5L167.7 95.2L168.3 96.5L168.8 96.1L169.4 93.6L169.9 95.7L170.5 93.6L171 96.1L171.6 95.4L172.1 96.7L172.7 98.3L173.2 95.7L173.8 96.5L174.3 100.2L174.9 97.8L175.5 100.4L176 98.1L176.6 97.2L177.1 95.9L177.7 96.1L178.2 98.9L178.8 100.4L179.3 98.9L179.9 99.7L180.4 101.8L181 100.1L181.5 100.7L182.1 100.5L182.6 101.3L183.2 100.7L183.7 98.6L184.3 103.1L184.8 99.8L185.4 102.9L185.9 102.4L186.5 102.7L187 100.9L187.6 101.3L188.1 101L188.7 99.5L189.3 103.4L189.8 101.2L190.4 100.8L190.9 105.8L191.5 102.4L192 105.6L192.6 102L193.1 106.4L193.7 102.3L194.2 102.5L194.8 103.7L195.3 100.7L195.9 102.9L196.4 103.8L197 101.5L197.5 101L198.1 101.8L198.6 102.8L199.2 103.8L199.7 104.4L200.3 105.1L200.8 103.9L201.4 104.9L201.9 104.6L202.5 103.3L203.1 106L203.6 105.5L204.2 105.6L204.7 104L205.3 103.9L205.8 104.9L206.4 104.7L206.9 106.3L207.5 108.2L208 107.2L208.6 106.4L209.1 102.7L209.7 105.5L210.2 106.4L210.8 107.4L211.3 106.9L211.9 107.9L212.4 106.8L213 107.6L213.5 108.2L214.1 106.3L214.6 105L215.2 107.9L215.7 105.5L216.3 108L216.9 108.7L217.4 106.8L218 105L218.5 104.7L219.1 104.4L219.6 106.8L220.2 105.8L220.7 107.2L221.3 107.1L221.8 104.7L222.4 103.5L222.9 103.5L223.5 103L224 100.1L224.6 101.6L225.1 102.4L225.7 98.4L226.2 100.1L226.8 100L227.3 101.8L227.9 99.4L228.4 100.7L229 99L229.5 100.5L230.1 99.1L230.7 98.8L231.2 99.8L231.8 98L232.3 100.1L232.9 99L233.4 98.3L234 97.4L234.5 97.5L235.1 98.6L235.6 95.8L236.2 100.5L236.7 96.8L237.3 96.7L237.8 96.3L238.4 96.7L238.9 95.5L239.5 96.5L240 96.7L240.6 96.8L241.1 94.6L241.7 95.5L242.2 95.5L242.8 94.9L243.3 94.8L243.9 94.3L244.5 92.8L245 93.7L245.6 94.9L246.1 93.5L246.7 94.8L247.2 92.5L247.8 92.4L248.3 90.1L248.9 93.1L249.4 91.3L250 89.9L250.5 90.2L251.1 91.5L251.6 91.3L252.2 91.4L252.7 90.7L253.3 90.5L253.8 92.6M270.1 88.6L270.6 89.4L271.2 88.6L271.7 88.6L272.3 89.1L272.8 89.3L273.4 91.9L273.9 90.1L274.5 90.4L275 91.1L275.6 92.3L276.1 88.9L276.7 91L277.2 92L277.8 94.2L278.3 91.5L278.9 91.5L279.4 92.3L280 92.4L280.5 89.3L281.1 92.3L281.7 93.9L282.2 94.3L282.8 91.6L283.3 94.6L283.9 92.6L284.4 94.1L285 96.9L285.5 95.1L286.1 92.3L286.6 94.3L287.2 96L287.7 98.1L288.3 95.2L288.8 96.3L289.4 96.5L289.9 97.6L290.5 98L291 97L291.6 98L292.1 94.5L292.7 97.5L293.2 98L293.8 99.1L294.3 100.2L294.9 100.9L295.5 99.4L296 100.3L296.6 100.2L297.1 99.5L297.7 99.6L298.2 100.8L298.8 101.8L299.3 101.9L299.9 101L300.4 99.5L301 101.2L301.5 100.6L302.1 100.6L302.6 101.1L303.2 101.4L303.7 104.9L304.3 104L304.8 102.6L305.4 102.7L305.9 101.1L306.5 103L307 101.1L307.6 101.2L308.1 103L308.7 103.4L309.3 104.7L309.8 101.9L310.4 102.7L310.9 104L311.5 101.8L312 103.7L312.6 99.9L313.1 98L313.7 99.8L314.2 103.9L314.8 105L315.3 103.6L315.9 104.6L316.4 105.6L317 103L317.5 102.7L318.1 101.2L318.6 104L319.2 106.4L319.7 105.1L320.3 104.4L320.8 106.1L321.4 104.7L321.9 106.2L322.5 103.8L323.1 106.4L323.6 106.5L324.2 106.8L324.7 104.1L325.3 103.9L325.8 105.4L326.4 102.8L326.9 102.6L327.5 102.8L328 103.4L328.6 102.2L329.1 103.5L329.7 103.4L330.2 103.4L330.8 103.1L331.3 103.1L331.9 105.8L332.4 107.6L333 106L333.5 106.6L334.1 105.5L334.6 103.9L335.2 106.3L335.7 103L336.3 102.7L336.9 103.4L337.4 104.4L338 101.7L338.5 102.8L339.1 104.1L339.6 101.6L340.2 98.3L340.7 100.4L341.3 101.9L341.8 99.7L342.4 99.8L342.9 99L343.5 102.2L344 100.5L344.6 97L345.1 99.1L345.7 97.1L346.2 100.7L346.8 98.9L347.3 98.6L347.9 99.4L348.4 97.2L349 96.9L349.5 97.3L350.1 96.9L350.7 98.8L351.2 98.3L351.8 96.2L352.3 97.9L352.9 95.4L353.4 95L354 97.2L354.5 93.9L355.1 95.5L355.6 96.2L356.2 93.1L356.7 96.3L357.3 96L357.8 97.7L358.4 92.6L358.9 96L359.5 95.7L360 95.1L360.6 95.1L361.1 91.2L361.7 96.6L362.2 93.3L362.8 93.4L363.3 94.9L363.9 94.5L364.5 93L365 92.1L365.6 92.4L366.1 93.1L366.7 94.1L367.2 90L367.8 91.2L368.3 93.1L368.9 88.9L369.4 91.8L370 90.5L370.5 90.2L371.1 90L371.6 90.2L372.2 91.1L372.7 90.3L373.3 89.6L373.8 87.8M390.8 94.1L391.3 93.3L391.9 90L392.4 93.4L393 90.5L393.5 90.3L394.1 91.9L394.6 90.4L395.2 91.3L395.7 89.4L396.3 88.8L396.8 87.2L397.4 90.4L397.9 88.3L398.5 90.1L399 90L399.6 88.3L400.1 91.6L400.7 90.8L401.2 89.7L401.8 91.4L402.3 92.6L402.9 91.3L403.4 92.3L404 93.9L404.6 92L405.1 92.2L405.7 93L406.2 93.2L406.8 95.4L407.3 95.5L407.9 96.2L408.4 94.4L409 97.4L409.5 96.4L410.1 96.4L410.6 97.9L411.2 97.6L411.7 96.1L412.3 94.7L412.8 93.3L413.4 95L413.9 96.8L414.5 99.1L415 97.6L415.6 97L416.1 96.3L416.7 94.9L417.2 94L417.8 97.1L418.4 97.1L418.9 98L419.5 101.5L420 100.9L420.6 99.3L421.1 98.8L421.7 97.5L422.2 96L422.8 99.3L423.3 104.1L423.9 105.5L424.4 102.7L425 103.9L425.5 100.7L426.1 101.2L426.6 99.3L427.2 100.1L427.7 100.9L428.3 101L428.8 102.8L429.4 101L429.9 99.9L430.5 97.5L431 98.5L431.6 101.2L432.2 100.2L432.7 103.6L433.3 105.5L433.8 104L434.4 102.6L434.9 102.5L435.5 101.2L436 99.7L436.6 97.9L437.1 99.3L437.7 96.8L438.2 97.3L438.8 100L439.3 100.7L439.9 103.6L440.4 102.5L441 102.3L441.5 103.2L442.1 103.8L442.6 104.2L443.2 103.9L443.7 103.6L444.3 106.9L444.8 105.6L445.4 103.2L446 106.4L446.5 106.5L447.1 107.2L447.6 103.4L448.2 106.5L448.7 104.3L449.3 105.5L449.8 105.8L450.4 106.5L450.9 109L451.5 108.7L452 108.9L452.6 106.7L453.1 104.2L453.7 104.5L454.2 102.3L454.8 104.8L455.3 105L455.9 104.7L456.4 104.4L457 105.6L457.5 103.8L458.1 104.3L458.6 103.8L459.2 102.6L459.8 103.2L460.3 102.9L460.9 100.9L461.4 101.1L462 102.1L462.5 101.3L463.1 100.6L463.6 99.8L464.2 97.7L464.7 98.1L465.3 102L465.8 103.9L466.4 103.7L466.9 104.5L467.5 105.9L468 106.4L468.6 105.4L469.1 102.8L469.7 102.8L470.2 101.2L470.8 103L471.3 104.1L471.9 101.9L472.4 102.4L473 101.1L473.6 100.6L474.1 100.3L474.7 100.3L475.2 100L475.8 100.6L476.3 100.5L476.9 98.9L477.4 95.4L478 95.6L478.5 97L479.1 95.6L479.6 97.2L480.2 96.5L480.7 95.9L481.3 96.5L481.8 94.8L482.4 92.5L482.9 95.9L483.5 92.1L484 95.3L484.6 93.7L485.1 93.1L485.7 93.7L486.2 93.1L486.8 92.2L487.4 91.1L487.9 92.4L488.5 90.7L489 91.2L489.6 91.5L490.1 90.3L490.7 89.3L491.2 88.5L491.8 88.9L492.3 90.1L492.9 88.5L493.4 90.7L494 91.4M25.1 259.9L25.6 260.3L26.2 263.4L26.7 260.2L27.3 259.1L27.8 261.3L28.4 261.2L28.9 261.9L29.5 260.6L30 262.8L30.6 261.8L31.1 264.2L31.7 261.8L32.2 261.4L32.8 262.8L33.3 262.1L33.9 260.2L34.4 262.3L35 260.6L35.5 263.1L36.1 261.1L36.7 262.4L37.2 261.2L37.8 262.7L38.3 264.1L38.9 264.1L39.4 262.3L40 261.8L40.5 264.6L41.1 263.2L41.6 263.5L42.2 265.6L42.7 263.6L43.3 266.3L43.8 266.7L44.4 265.5L44.9 264.5L45.5 265.7L46 268.5L46.6 267.6L47.1 269.6L47.7 268.6L48.2 267.5L48.8 266.7L49.3 268.3L49.9 270.2L50.5 270.3L51 270.2L51.6 268L52.1 266.5L52.7 267.9L53.2 268.9L53.8 269L54.3 272.8L54.9 271.6L55.4 273.6L56 269.6L56.5 267.5L57.1 269.6L57.6 269.9L58.2 271.8L58.7 271.8L59.3 274.2L59.8 270.6L60.4 271.1L60.9 269.7L61.5 269.4L62 269.1L62.6 273L63.1 271.3L63.7 274.9L64.3 275.8L64.8 276.6L65.4 275L65.9 278.7L66.5 276.6L67 277.3L67.6 275.9L68.1 278.1L68.7 274.3L69.2 273.9L69.8 273.7L70.3 270.8L70.9 272.1L71.4 273.5L72 275.2L72.5 275.6L73.1 279.1L73.6 279.8L74.2 279.5L74.7 278.5L75.3 279.6L75.8 280.3L76.4 278.8L76.9 276.4L77.5 273.8L78.1 276.7L78.6 277L79.2 277L79.7 277.6L80.3 276.7L80.8 277.1L81.4 277.9L81.9 280.4L82.5 279.7L83 277.5L83.6 277L84.1 277.8L84.7 274.6L85.2 276.3L85.8 276.2L86.3 280.9L86.9 278.5L87.4 280.4L88 279.3L88.5 277.3L89.1 278.7L89.6 278.8L90.2 279.7L90.7 279.9L91.3 280.9L91.9 280.1L92.4 277.6L93 278.6L93.5 275.9L94.1 275.6L94.6 277.3L95.2 277.2L95.7 278L96.3 277.5L96.8 279.6L97.4 279.3L97.9 277.2L98.5 279.2L99 276.9L99.6 275.6L100.1 274.7L100.7 276L101.2 275.1L101.8 275.2L102.3 278.2L102.9 275.5L103.4 274L104 272.5L104.5 273.1L105.1 272.4L105.7 272.3L106.2 269.9L106.8 272.6L107.3 270.8L107.9 274.6L108.4 271.3L109 272.5L109.5 271.5L110.1 270.2L110.6 271.7L111.2 271.2L111.7 271.5L112.3 271.8L112.8 268.9L113.4 272.4L113.9 270.9L114.5 269.6L115 271.3L115.6 268.4L116.1 266.4L116.7 269.6L117.2 268.1L117.8 268.9L118.3 268.1L118.9 268.4L119.5 266.9L120 267.5L120.6 267.9L121.1 266.9L121.7 268.2L122.2 266.6L122.8 266.1L123.3 265.5L123.9 265.7L124.4 264.5L125 262.9L125.5 262.9L126.1 261.7L126.6 263.3L127.2 263.5L127.7 263.6L128.3 264.2L128.8 262.2L129.4 260L129.9 261.7L130.5 262.3L131 259.9L131.6 260.5L132.1 260.4M150.1 262.1L150.6 262.4L151.2 261.8L151.7 260.3L152.3 261.1L152.8 262.1L153.4 262.2L153.9 262.1L154.5 262.5L155 264.2L155.6 262.4L156.1 263L156.7 264.8L157.2 261.3L157.8 263.5L158.3 263.4L158.9 264.1L159.4 263L160 261.9L160.5 262L161.1 263.2L161.7 263.3L162.2 263.4L162.8 261.7L163.3 263L163.9 264.7L164.4 264.2L165 261.7L165.5 266.4L166.1 265.8L166.6 266.5L167.2 265.5L167.7 270.5L168.3 267.1L168.8 264.5L169.4 267.1L169.9 267L170.5 266.3L171 265.4L171.6 270.5L172.1 270.2L172.7 272.1L173.2 269.5L173.8 268.9L174.3 269.4L174.9 267.9L175.5 268.5L176 270L176.6 274L177.1 273.4L177.7 273.1L178.2 269.5L178.8 271.4L179.3 271.4L179.9 271.7L180.4 273.2L181 270.8L181.5 272.2L182.1 274.7L182.6 274.3L183.2 275.5L183.7 273.7L184.3 272.2L184.8 273.4L185.4 275.2L185.9 275.4L186.5 276.1L187 278.4L187.6 276.5L188.1 274.7L188.7 275.2L189.3 277.5L189.8 276.6L190.4 278.5L190.9 279.6L191.5 279.9L192 279.5L192.6 277.2L193.1 276.6L193.7 276.5L194.2 276.7L194.8 274.7L195.3 274.1L195.9 276.6L196.4 276.1L197 276.1L197.5 278.1L198.1 277.8L198.6 277.8L199.2 275.2L199.7 275.6L200.3 274.5L200.8 274.3L201.4 276.2L201.9 278.7L202.5 279.5L203.1 279.4L203.6 277.1L204.2 277.7L204.7 275.6L205.3 275.8L205.8 277.1L206.4 276.6L206.9 277.2L207.5 279.8L208 278.2L208.6 281L209.1 280.1L209.7 278L210.2 279.2L210.8 277.6L211.3 276.9L211.9 275.1L212.4 277.3L213 279.4L213.5 278.9L214.1 277.7L214.6 277.4L215.2 279.5L215.7 279.3L216.3 277.8L216.9 277.2L217.4 279.1L218 278.4L218.5 276.1L219.1 276.7L219.6 275.5L220.2 277.4L220.7 277.7L221.3 276.7L221.8 278.1L222.4 276.5L222.9 276.3L223.5 274.1L224 274.9L224.6 273L225.1 274.4L225.7 274.7L226.2 272.5L226.8 274.9L227.3 272.3L227.9 271.7L228.4 271.4L229 274.3L229.5 273.3L230.1 272.8L230.7 273.7L231.2 271.7L231.8 272.4L232.3 269.5L232.9 270.6L233.4 269.8L234 271.9L234.5 267.4L235.1 271.1L235.6 269.7L236.2 269.4L236.7 272.7L237.3 269.2L237.8 268.2L238.4 269.1L238.9 269.2L239.5 268.8L240 266.7L240.6 268.4L241.1 268.2L241.7 270.1L242.2 267L242.8 267.6L243.3 266.7L243.9 267.3L244.5 265.2L245 266.7L245.6 264.4L246.1 263.1L246.7 267.2L247.2 263.9L247.8 267.5L248.3 264.9L248.9 263.9L249.4 266.9L250 262.6L250.5 264.6L251.1 264.3L251.6 262.2L252.2 263L252.7 262.6L253.3 260L253.8 264.1M270.1 261.7L270.6 260.6L271.2 261.5L271.7 261.4L272.3 261.1L272.8 258.7L273.4 262.9L273.9 261L274.5 259.9L275 259.8L275.6 259.8L276.1 261.5L276.7 261.6L277.2 261.8L277.8 263.1L278.3 260.1L278.9 263.7L279.4 261.6L280 261.7L280.5 262.2L281.1 263.9L281.7 262.1L282.2 264.9L282.8 262.2L283.3 264.4L283.9 262.6L284.4 264.9L285 263.6L285.5 264.8L286.1 264.1L286.6 263.6L287.2 264.6L287.7 268.7L288.3 266.1L288.8 266.4L289.4 266.3L289.9 267.2L290.5 265.6L291 265.8L291.6 270L292.1 267.3L292.7 270L293.2 270L293.8 270.4L294.3 269.6L294.9 267L295.5 269.8L296 269L296.6 271.4L297.1 271.7L297.7 271.8L298.2 274.8L298.8 270.1L299.3 268.9L299.9 271L300.4 273.1L301 271.6L301.5 273.6L302.1 274.6L302.6 273.7L303.2 272.8L303.7 272.3L304.3 274.3L304.8 275.4L305.4 276.5L305.9 274.2L306.5 274.7L307 278.3L307.6 273.4L308.1 276.2L308.7 273.6L309.3 278.3L309.8 276.8L310.4 278.1L310.9 279.4L311.5 279.8L312 279.1L312.6 277.4L313.1 276.7L313.7 273.2L314.2 275.6L314.8 272.5L315.3 272.1L315.9 273.7L316.4 274.7L317 277.5L317.5 275.9L318.1 276.8L318.6 278.4L319.2 274.6L319.7 274.2L320.3 276.9L320.8 274.3L321.4 276.8L321.9 277.6L322.5 277.8L323.1 277.9L323.6 278.1L324.2 280.2L324.7 277L325.3 276.2L325.8 277.2L326.4 276.3L326.9 275.8L327.5 277L328 277.7L328.6 277.4L329.1 276.2L329.7 279.9L330.2 275.6L330.8 276.3L331.3 275L331.9 273.4L332.4 273.4L333 275.2L333.5 277.1L334.1 277.5L334.6 277L335.2 279.2L335.7 277.5L336.3 276.6L336.9 273.7L337.4 278L338 276L338.5 277.8L339.1 278.2L339.6 279.7L340.2 278.4L340.7 279.6L341.3 277.1L341.8 276.5L342.4 273.9L342.9 270.6L343.5 269.3L344 272.8L344.6 271.3L345.1 273.9L345.7 273.1L346.2 274L346.8 273.2L347.3 274.1L347.9 274.3L348.4 271.7L349 270.9L349.5 273.3L350.1 273.7L350.7 270.5L351.2 271.3L351.8 270.5L352.3 270L352.9 270L353.4 271.6L354 270.1L354.5 268.3L355.1 269.2L355.6 270L356.2 270.3L356.7 268.9L357.3 266.7L357.8 267.3L358.4 268.3L358.9 265.9L359.5 266.8L360 264.9L360.6 265.8L361.1 266.3L361.7 263.3L362.2 262.9L362.8 264.8L363.3 266.5L363.9 263.6L364.5 265.1L365 265.3L365.6 262.8L366.1 265.9L366.7 263.9L367.2 261L367.8 264.1L368.3 263.9L368.9 261L369.4 265.1L370 262.5L370.5 262.7L371.1 265L371.6 260.2L372.2 259.8L372.7 258.8L373.3 261.8L373.8 259.7M390.1 257.2L390.6 258.9L391.2 258.4L391.7 262.1L392.3 259.5L392.8 258L393.4 258L393.9 261.1L394.5 260.5L395 259.3L395.6 262.2L396.1 262.2L396.7 263.1L397.2 261.5L397.8 260.8L398.3 263.4L398.9 263.1L399.4 263.5L400 263.1L400.5 261.7L401.1 260.8L401.7 265.5L402.2 262.3L402.8 263.6L403.3 265.4L403.9 265.1L404.4 263.6L405 264.9L405.5 266.6L406.1 264.7L406.6 263.4L407.2 265.3L407.7 263.6L408.3 268.5L408.8 266.3L409.4 266L409.9 264.3L410.5 268.5L411 267.7L411.6 268L412.1 269.2L412.7 267.6L413.2 267.6L413.8 268.8L414.3 267.4L414.9 268.1L415.5 266.2L416 267.1L416.6 267.8L417.1 269.8L417.7 268.5L418.2 266.5L418.8 269.5L419.3 267.8L419.9 269.1L420.4 265.6L421 270.8L421.5 268.6L422.1 270.5L422.6 269.9L423.2 271.3L423.7 270.2L424.3 270.8L424.8 270.1L425.4 271.4L425.9 272.6L426.5 275.4L427 273.1L427.6 274.6L428.1 274.1L428.7 275.9L429.3 275.9L429.8 274.2L430.4 275.5L430.9 274.4L431.5 273.9L432 276.3L432.6 276.7L433.1 275.6L433.7 279L434.2 275.1L434.8 276.4L435.3 276.8L435.9 274.3L436.4 276.1L437 276.6L437.5 277.7L438.1 276.7L438.6 276.9L439.2 277.9L439.7 277.4L440.3 278.9L440.8 279.3L441.4 279.4L441.9 276.5L442.5 275.2L443.1 278.5L443.6 274.5L444.2 277.8L444.7 277.4L445.3 276.3L445.8 278.1L446.4 279.8L446.9 278L447.5 277.7L448 278.4L448.6 277.9L449.1 279.2L449.7 278.9L450.2 277.6L450.8 278.2L451.3 278.2L451.9 278.9L452.4 279.2L453 279L453.5 276L454.1 279.3L454.6 277.4L455.2 277.1L455.7 278.5L456.3 277.2L456.9 277.8L457.4 277.2L458 279.8L458.5 278.1L459.1 280L459.6 276.9L460.2 277.5L460.7 279.2L461.3 278.5L461.8 277.4L462.4 276.1L462.9 276.9L463.5 275.6L464 275.3L464.6 274.1L465.1 273.8L465.7 274.8L466.2 274.2L466.8 273.1L467.3 271.6L467.9 273.2L468.4 269.7L469 267.1L469.5 272.4L470.1 272.3L470.7 271.8L471.2 271.3L471.8 270.9L472.3 275.6L472.9 273.6L473.4 273.5L474 270.5L474.5 271.2L475.1 270.2L475.6 272.6L476.2 271.9L476.7 272.4L477.3 271.6L477.8 274.3L478.4 270.8L478.9 269.1L479.5 269.5L480 268.9L480.6 270.4L481.1 270.4L481.7 267.4L482.2 271.5L482.8 270.1L483.3 269.1L483.9 269.9L484.5 269L485 267.3L485.6 264.2L486.1 266.7L486.7 266.4L487.2 269.4L487.8 265.6L488.3 265.8L488.9 264.3L489.4 265.4L490 264.4L490.5 265.2L491.1 265.7L491.6 263.1L492.2 262.7L492.7 261.6L493.3 260.8L493.8 262.9L494.4 261.1L494.9 258.4M25.1 431L25.6 431.5L26.2 431.2L26.7 432L27.3 429.5L27.8 429.8L28.4 429.5L28.9 429.7L29.5 432.2L30 431.4L30.6 430L31.1 430.2L31.7 432.8L32.2 430.2L32.8 431L33.3 432.4L33.9 433.4L34.4 433.6L35 431.6L35.5 430.8L36.1 431.2L36.7 433.1L37.2 433L37.8 434.3L38.3 434L38.9 434.5L39.4 432.2L40 432.3L40.5 433.8L41.1 434.5L41.6 433.3L42.2 436L42.7 432.6L43.3 434.7L43.8 434.1L44.4 436L44.9 436.4L45.5 435.6L46 436.2L46.6 437.2L47.1 434.6L47.7 434.5L48.2 434.8L48.8 436.1L49.3 435.9L49.9 435.5L50.5 438.1L51 435.6L51.6 434L52.1 437.1L52.7 436.5L53.2 440.6L53.8 443.2L54.3 442.6L54.9 442.7L55.4 444.9L56 440.9L56.5 441L57.1 441.3L57.6 441.6L58.2 444.4L58.7 443L59.3 441.3L59.8 445.8L60.4 445.4L60.9 445L61.5 447.8L62 446.4L62.6 446L63.1 444L63.7 444.5L64.3 446.9L64.8 446.4L65.4 445.9L65.9 445.1L66.5 447.1L67 446.4L67.6 447L68.1 446.2L68.7 446.4L69.2 445.5L69.8 446L70.3 445.1L70.9 446.3L71.4 446.6L72 446.9L72.5 445.8L73.1 447.5L73.6 447L74.2 446.3L74.7 447.8L75.3 448.7L75.8 446.8L76.4 448.7L76.9 446.7L77.5 447L78.1 445.7L78.6 441.9L79.2 441L79.7 442.9L80.3 443.6L80.8 445.6L81.4 447.9L81.9 448.2L82.5 447.7L83 445.5L83.6 447.4L84.1 442.3L84.7 446L85.2 444.7L85.8 446.9L86.3 446.5L86.9 447.1L87.4 448.2L88 445.4L88.5 443.4L89.1 444.9L89.6 443.1L90.2 445.4L90.7 445.5L91.3 447.3L91.9 445.5L92.4 446.1L93 443.3L93.5 444.9L94.1 444.5L94.6 446.2L95.2 448L95.7 446.4L96.3 447.1L96.8 445.5L97.4 446.4L97.9 449.9L98.5 445.8L99 447.2L99.6 447.8L100.1 448.2L100.7 446.1L101.2 446.5L101.8 446.9L102.3 447.5L102.9 445.7L103.4 444.4L104 445.4L104.5 444.3L105.1 441.6L105.7 442.4L106.2 441.6L106.8 441.5L107.3 439.1L107.9 441.2L108.4 440.5L109 438.8L109.5 440L110.1 438.7L110.6 438.7L111.2 438.8L111.7 441.5L112.3 440.2L112.8 437.7L113.4 440.5L113.9 438.8L114.5 440.7L115 439.6L115.6 439.9L116.1 439.2L116.7 437.1L117.2 436.4L117.8 436.7L118.3 436.3L118.9 436.8L119.5 438.1L120 435.4L120.6 437.3L121.1 435.4L121.7 435.3L122.2 433.1L122.8 434.2L123.3 434.7L123.9 433.4L124.4 432.7L125 433.4L125.5 434.6L126.1 434.1L126.6 431.9L127.2 433.5L127.7 431.9L128.3 431.3L128.8 433.3L129.4 431.9L129.9 431.2L130.5 430.6L131 426.2L131.6 430.4L132.1 430.4M150.1 427.5L150.6 429.3L151.2 427.7L151.7 428.3L152.3 425.7L152.8 428.9L153.4 427.9L153.9 428.9L154.5 430L155 428.7L155.6 429.8L156.1 432.6L156.7 431.8L157.2 433L157.8 432.2L158.3 430.2L158.9 431L159.4 431.5L160 432.6L160.5 433.6L161.1 431.7L161.7 430.4L162.2 433.4L162.8 433.7L163.3 434.8L163.9 432.3L164.4 431.9L165 431.5L165.5 432.1L166.1 433.1L166.6 435.9L167.2 433.7L167.7 432.1L168.3 433.9L168.8 430.1L169.4 434.1L169.9 435.6L170.5 433.4L171 434.9L171.6 433.4L172.1 433.9L172.7 433.7L173.2 435.5L173.8 435.6L174.3 434.7L174.9 436.8L175.5 435.7L176 435.2L176.6 438.4L177.1 437.5L177.7 437.4L178.2 440.6L178.8 441.2L179.3 440.8L179.9 440.7L180.4 442.6L181 439.4L181.5 440.9L182.1 441.7L182.6 440.6L183.2 441.6L183.7 442.6L184.3 444L184.8 441.3L185.4 441.9L185.9 441.8L186.5 443.1L187 443.4L187.6 443.3L188.1 446L188.7 442.5L189.3 443.2L189.8 444.9L190.4 443.3L190.9 444.5L191.5 445.4L192 442.4L192.6 446L193.1 444.7L193.7 446.2L194.2 448L194.8 445.8L195.3 447.3L195.9 444.8L196.4 448.4L197 444.7L197.5 445.4L198.1 444.8L198.6 446.8L199.2 445.7L199.7 443.6L200.3 445.5L200.8 445L201.4 443.7L201.9 443.4L202.5 440L203.1 442.5L203.6 443.8L204.2 444.6L204.7 442.3L205.3 447.3L205.8 447.2L206.4 446.2L206.9 446.4L207.5 444.3L208 444.6L208.6 446.6L209.1 446.5L209.7 446.7L210.2 447.1L210.8 447.7L211.3 446.7L211.9 446.4L212.4 446.3L213 444.2L213.5 442.9L214.1 442.9L214.6 444.8L215.2 445.2L215.7 445.6L216.3 447.3L216.9 450.1L217.4 447.3L218 450.3L218.5 448.9L219.1 447.9L219.6 446.6L220.2 445.7L220.7 447.6L221.3 445.5L221.8 446.5L222.4 443.7L222.9 445.1L223.5 443.9L224 443.6L224.6 444.5L225.1 443.1L225.7 443.7L226.2 444L226.8 443.8L227.3 444.1L227.9 441.7L228.4 440.3L229 439.6L229.5 440L230.1 440.4L230.7 439.6L231.2 439.7L231.8 440.6L232.3 440.5L232.9 440.3L233.4 437.9L234 438.5L234.5 437.5L235.1 434.8L235.6 437.2L236.2 440.1L236.7 436.9L237.3 435.7L237.8 437.8L238.4 435.7L238.9 435.7L239.5 435.6L240 439L240.6 436L241.1 435.8L241.7 438.5L242.2 435.5L242.8 435.1L243.3 435.9L243.9 433.4L244.5 433.7L245 433.1L245.6 435.6L246.1 433.3L246.7 433.3L247.2 432.9L247.8 431.5L248.3 433L248.9 431L249.4 433L250 432.4L250.5 432.7L251.1 431.2L251.6 436.9L252.2 431.2L252.7 432.4L253.3 429.6L253.8 433.1M270.1 430.3L270.6 428.2L271.2 429.7L271.7 429.6L272.3 428.7L272.8 428.4L273.4 428.6L273.9 430.2L274.5 430L275 431.1L275.6 427.7L276.1 428.5L276.7 428.4L277.2 428.9L277.8 428.5L278.3 431.1L278.9 429L279.4 429.8L280 428.4L280.5 429.5L281.1 430.9L281.7 429.4L282.2 430.4L282.8 430.1L283.3 430.9L283.9 431.7L284.4 431.2L285 432.4L285.5 431.7L286.1 433.3L286.6 432.8L287.2 432.2L287.7 432.6L288.3 434.6L288.8 433.5L289.4 433.8L289.9 435.2L290.5 434L291 436.4L291.6 439.9L292.1 439.8L292.7 440.8L293.2 439.3L293.8 439.8L294.3 437.7L294.9 438.6L295.5 440.7L296 439.4L296.6 440.9L297.1 442.4L297.7 441.7L298.2 440.1L298.8 441.7L299.3 440.4L299.9 441.6L300.4 442.3L301 438.5L301.5 439.3L302.1 440.4L302.6 439.5L303.2 439.5L303.7 440.5L304.3 439L304.8 439L305.4 438.3L305.9 439.5L306.5 440.1L307 439.6L307.6 438.9L308.1 441.4L308.7 442.7L309.3 441.9L309.8 442L310.4 444L310.9 442.5L311.5 440.8L312 443.5L312.6 444.8L313.1 443.8L313.7 444.2L314.2 444L314.8 442.6L315.3 442.9L315.9 444.2L316.4 444.4L317 446.8L317.5 444.9L318.1 446L318.6 446L319.2 443.1L319.7 445.4L320.3 444.9L320.8 446.6L321.4 446.1L321.9 445.7L322.5 446.1L323.1 446.2L323.6 444.5L324.2 443.7L324.7 444.6L325.3 442.5L325.8 445.1L326.4 444.3L326.9 445.3L327.5 446.1L328 444.1L328.6 441.9L329.1 442.6L329.7 443.8L330.2 443.1L330.8 443.7L331.3 444.3L331.9 443.3L332.4 446.2L333 448.4L333.5 448.6L334.1 446.1L334.6 447.6L335.2 445.6L335.7 446.8L336.3 444.7L336.9 445.6L337.4 442.5L338 444L338.5 442L339.1 441L339.6 443.3L340.2 443.6L340.7 442.4L341.3 443.5L341.8 442.5L342.4 445.6L342.9 444.9L343.5 443.9L344 443.2L344.6 443.8L345.1 443.1L345.7 442.5L346.2 442.4L346.8 439.5L347.3 439.6L347.9 437.8L348.4 438.6L349 438.7L349.5 436.8L350.1 438L350.7 439.3L351.2 439.1L351.8 437L352.3 439.6L352.9 438.4L353.4 437.2L354 435L354.5 436.6L355.1 436.4L355.6 435.9L356.2 436.5L356.7 437.7L357.3 437.7L357.8 438L358.4 438.3L358.9 436.8L359.5 437.5L360 436L360.6 434.9L361.1 433.3L361.7 435.5L362.2 433.8L362.8 433.1L363.3 435.2L363.9 433.7L364.5 434.8L365 435L365.6 434.7L366.1 433.7L366.7 435.5L367.2 433.6L367.8 434.2L368.3 432.7L368.9 432.9L369.4 431.4L370 435L370.5 432.4L371.1 432.9L371.6 430.8L372.2 431.4L372.7 430.1L373.3 429.5L373.8 430.1M390.8 428.2L391.3 428.1L391.9 427.7L392.4 428.7L393 428.9L393.5 428.7L394.1 428L394.6 429L395.2 429.8L395.7 428.9L396.3 429L396.8 430.6L397.4 429.8L397.9 430L398.5 429.5L399 430.3L399.6 429.8L400.1 430L400.7 429.8L401.2 431.6L401.8 430.9L402.3 430.3L402.9 432L403.4 432.4L404 433.6L404.6 431.5L405.1 430.5L405.7 431.1L406.2 432.8L406.8 430.2L407.3 430.9L407.9 434.1L408.4 433L409 434.5L409.5 431.1L410.1 433.2L410.6 433.4L411.2 435.2L411.7 434.5L412.3 433.1L412.8 434.2L413.4 433.7L413.9 434.5L414.5 434L415 434.7L415.6 436.3L416.1 435.7L416.7 435.8L417.2 435.4L417.8 435.5L418.4 438.2L418.9 435.5L419.5 438.3L420 438.7L420.6 439.2L421.1 441.4L421.7 442.1L422.2 441.9L422.8 440.6L423.3 441.4L423.9 442.3L424.4 442.9L425 442.6L425.5 442.8L426.1 442.7L426.6 443.9L427.2 440.7L427.7 441.7L428.3 443L428.8 440.4L429.4 445.2L429.9 442.8L430.5 443.2L431 443.8L431.6 441.7L432.2 440.6L432.7 439.9L433.3 436.6L433.8 439L434.4 441.4L434.9 443.2L435.5 443.8L436 443.8L436.6 445.5L437.1 444.7L437.7 446.7L438.2 445L438.8 445.5L439.3 446L439.9 445.1L440.4 445.9L441 446L441.5 447.4L442.1 446.5L442.6 448.6L443.2 448.4L443.7 445.2L444.3 450.6L444.8 449L445.4 449.6L446 447.4L446.5 445.5L447.1 444.8L447.6 447.3L448.2 448.7L448.7 446L449.3 445.1L449.8 447.5L450.4 445.7L450.9 444.7L451.5 445.4L452 445.9L452.6 446.1L453.1 446L453.7 445.1L454.2 446.6L454.8 447.5L455.3 447.6L455.9 447.7L456.4 444.8L457 445.9L457.5 447.3L458.1 448.9L458.6 447.7L459.2 445.6L459.8 444.7L460.3 445.1L460.9 444.9L461.4 445.2L462 444.8L462.5 441.5L463.1 444.4L463.6 441.2L464.2 437L464.7 440.6L465.3 441.8L465.8 443.4L466.4 442.9L466.9 440.7L467.5 442.7L468 442.1L468.6 442.3L469.1 440.4L469.7 441.4L470.2 439.3L470.8 442.6L471.3 440L471.9 441L472.4 439.1L473 439.6L473.6 438.8L474.1 440.2L474.7 439.3L475.2 438.4L475.8 438.5L476.3 438.7L476.9 440.2L477.4 437.4L478 437.7L478.5 438.3L479.1 437.5L479.6 437L480.2 435.5L480.7 437.5L481.3 438.1L481.8 435L482.4 433.8L482.9 435.2L483.5 433.5L484 435.5L484.6 435.2L485.1 433.8L485.7 435.2L486.2 432.8L486.8 432.9L487.4 434.1L487.9 434.1L488.5 435.1L489 434.5L489.6 434.1L490.1 434.1L490.7 430.7L491.2 430.8L491.8 431L492.3 431.7L492.9 431.3L493.4 434.2L494 432.7"/>
<path clip-path="url(#pc)" fill="none" stroke="#333" stroke-width="0.6" stroke-dasharray="1.6,1" d="M41.4 118L42.1 119L42.8 119.8L43.5 120.6L44.2 121.2L44.8 121.8L45.5 122.3L46.2 122.7L46.9 123.1L47.6 123.5L48.3 123.8L49 124.1L49.7 124.3L50.4 124.5L51.1 124.7L51.7 124.9L52.4 125L53.1 125.1L53.8 125.2L54.5 125.3L55.2 125.4L55.9 125.5L56.6 125.6L57.3 125.6L58 125.7L58.6 125.7L59.3 125.8L60 125.8L60.7 125.8L61.4 125.9L62.1 125.9L65.5 126L69 126L72.4 126.1L75.9 126.1L79.3 126.1L82.8 126.1L86.2 126.1L89.7 126.1L93.1 126.1L96.6 126.1L100 126.1L103.5 126.1L106.9 126.1L110.4 126.1L113.8 126.1L117.3 126.1L120.7 126.1L124.2 126.1M161.1 118L161.8 119L162.5 119.8L163.2 120.5L163.9 121.1L164.6 121.7L165.2 122.2L165.9 122.6L166.6 123L167.3 123.3L168 123.6L168.7 123.9L169.4 124.1L170.1 124.3L170.8 124.5L171.5 124.7L172.1 124.8L172.8 124.9L173.5 125L174.2 125.1L174.9 125.2L175.6 125.3L176.3 125.4L177 125.4L177.7 125.5L178.4 125.5L179 125.6L179.7 125.6L180.4 125.6L181.1 125.7L181.8 125.7L185.3 125.8L188.7 125.8L192.2 125.8L195.6 125.8L199.1 125.9L202.5 125.9L206 125.9L209.4 125.9L212.9 125.9L216.3 125.9L219.8 125.9L223.2 125.9L226.7 125.9L230.1 125.9L233.6 125.9L237 125.9L240.5 125.9L243.9 125.9L247.4 125.9L250.8 125.9M288 118L288.7 119L289.4 119.8L290.1 120.6L290.8 121.2L291.5 121.8L292.1 122.3L292.8 122.7L293.5 123.1L294.2 123.5L294.9 123.8L295.6 124.1L296.3 124.3L297 124.5L297.7 124.7L298.4 124.9L299 125L299.7 125.1L300.4 125.2L301.1 125.3L301.8 125.4L302.5 125.5L303.2 125.6L303.9 125.6L304.6 125.7L305.3 125.7L305.9 125.8L306.6 125.8L307.3 125.8L308 125.9L308.7 125.9L312.2 126L315.6 126L319.1 126.1L322.5 126.1L326 126.1L329.4 126.1L332.9 126.1L336.3 126.1L339.8 126.1L343.2 126.1L346.7 126.1L350.1 126.1L353.6 126.1L357 126.1L360.5 126.1L363.9 126.1L367.4 126.1M409.2 118L409.8 119L410.5 119.8L411.2 120.6L411.9 121.2L412.6 121.8L413.3 122.3L414 122.7L414.7 123.1L415.4 123.5L416.1 123.8L416.7 124.1L417.4 124.3L418.1 124.5L418.8 124.7L419.5 124.9L420.2 125L420.9 125.1L421.6 125.2L422.3 125.3L423 125.4L423.6 125.5L424.3 125.6L425 125.6L425.7 125.7L426.4 125.7L427.1 125.8L427.8 125.8L428.5 125.8L429.2 125.9L429.9 125.9L433.3 126L436.8 126L440.2 126.1L443.7 126.1L447.1 126.1L450.6 126.1L454 126.1L457.5 126.1L460.9 126.1L464.4 126.1L467.8 126.1L471.3 126.1L474.7 126.1L478.2 126.1L481.6 126.1L485.1 126.1L488.5 126.1M46.9 290L47.6 291L48.3 291.8L49 292.5L49.7 293.1L50.4 293.7L51.1 294.2L51.7 294.6L52.4 295L53.1 295.3L53.8 295.6L54.5 295.9L55.2 296.1L55.9 296.3L56.6 296.5L57.3 296.7L58 296.8L58.6 296.9L59.3 297L60 297.1L60.7 297.2L61.4 297.3L62.1 297.4L62.8 297.4L63.5 297.5L64.2 297.5L64.9 297.6L65.5 297.6L66.2 297.6L66.9 297.7L67.6 297.7L71.1 297.8L74.5 297.8L78 297.8L81.4 297.8L84.9 297.9L88.3 297.9L91.8 297.9L95.2 297.9L98.7 297.9L102.1 297.9L105.6 297.9L109 297.9L112.5 297.9L115.9 297.9L119.4 297.9L122.8 297.9L126.3 297.9L129.7 297.9M166.2 290L166.9 291L167.5 291.8L168.2 292.6L168.9 293.2L169.6 293.8L170.3 294.3L171 294.7L171.7 295.1L172.4 295.5L173.1 295.8L173.8 296.1L174.4 296.3L175.1 296.5L175.8 296.7L176.5 296.9L177.2 297L177.9 297.1L178.6 297.2L179.3 297.3L180 297.4L180.7 297.5L181.3 297.6L182 297.6L182.7 297.7L183.4 297.7L184.1 297.8L184.8 297.8L185.5 297.8L186.2 297.9L186.9 297.9L190.3 298L193.8 298L197.2 298.1L200.7 298.1L204.1 298.1L207.6 298.1L211 298.1L214.5 298.1L217.9 298.1L221.4 298.1L224.8 298.1L228.3 298.1L231.7 298.1L235.2 298.1L238.6 298.1L242.1 298.1L245.5 298.1L249 298.1M286.2 290L286.9 291L287.5 291.8L288.2 292.6L288.9 293.2L289.6 293.8L290.3 294.3L291 294.7L291.7 295.1L292.4 295.5L293.1 295.8L293.8 296.1L294.4 296.3L295.1 296.5L295.8 296.7L296.5 296.9L297.2 297L297.9 297.1L298.6 297.2L299.3 297.3L300 297.4L300.7 297.5L301.3 297.6L302 297.6L302.7 297.7L303.4 297.7L304.1 297.8L304.8 297.8L305.5 297.8L306.2 297.9L306.9 297.9L310.3 298L313.8 298L317.2 298.1L320.7 298.1L324.1 298.1L327.6 298.1L331 298.1L334.5 298.1L337.9 298.1L341.4 298.1L344.8 298.1L348.3 298.1L351.7 298.1L355.2 298.1L358.6 298.1L362.1 298.1L365.5 298.1L369 298.1M409.6 290L410.3 291L411 291.8L411.7 292.6L412.4 293.2L413.1 293.8L413.8 294.3L414.4 294.7L415.1 295.1L415.8 295.5L416.5 295.8L417.2 296.1L417.9 296.3L418.6 296.5L419.3 296.7L420 296.9L420.7 297L421.3 297.1L422 297.2L422.7 297.3L423.4 297.4L424.1 297.5L424.8 297.6L425.5 297.6L426.2 297.7L426.9 297.7L427.6 297.8L428.2 297.8L428.9 297.8L429.6 297.9L430.3 297.9L433.8 298L437.2 298L440.7 298.1L444.1 298.1L447.6 298.1L451 298.1L454.5 298.1L457.9 298.1L461.4 298.1L464.8 298.1L468.3 298.1L471.7 298.1L475.2 298.1L478.6 298.1L482.1 298.1L485.5 298.1L489 298.1M41.2 459L41.9 460L42.5 460.8L43.2 461.6L43.9 462.2L44.6 462.8L45.3 463.3L46 463.7L46.7 464.1L47.4 464.5L48.1 464.8L48.8 465.1L49.4 465.3L50.1 465.5L50.8 465.7L51.5 465.9L52.2 466L52.9 466.1L53.6 466.2L54.3 466.3L55 466.4L55.7 466.5L56.3 466.6L57 466.6L57.7 466.7L58.4 466.7L59.1 466.8L59.8 466.8L60.5 466.8L61.2 466.9L61.9 466.9L65.3 467L68.8 467L72.2 467.1L75.7 467.1L79.1 467.1L82.6 467.1L86 467.1L89.5 467.1L92.9 467.1L96.4 467.1L99.8 467.1L103.3 467.1L106.7 467.1L110.2 467.1L113.6 467.1L117.1 467.1L120.5 467.1L124 467.1L127.4 467.1L130.9 467.1M172.6 459L173.3 460L174 460.8L174.7 461.6L175.4 462.2L176.1 462.8L176.7 463.3L177.4 463.7L178.1 464.1L178.8 464.5L179.5 464.8L180.2 465.1L180.9 465.3L181.6 465.5L182.3 465.7L183 465.9L183.6 466L184.3 466.1L185 466.2L185.7 466.3L186.4 466.4L187.1 466.5L187.8 466.6L188.5 466.6L189.2 466.7L189.9 466.7L190.5 466.8L191.2 466.8L191.9 466.8L192.6 466.9L193.3 466.9L196.8 467L200.2 467L203.7 467.1L207.1 467.1L210.6 467.1L214 467.1L217.5 467.1L220.9 467.1L224.4 467.1L227.8 467.1L231.3 467.1L234.7 467.1L238.2 467.1L241.6 467.1L245.1 467.1L248.5 467.1M287.3 459L288 460L288.7 460.8L289.4 461.6L290.1 462.2L290.8 462.8L291.5 463.3L292.1 463.7L292.8 464.1L293.5 464.5L294.2 464.8L294.9 465.1L295.6 465.3L296.3 465.5L297 465.7L297.7 465.9L298.4 466L299 466.1L299.7 466.2L300.4 466.3L301.1 466.4L301.8 466.5L302.5 466.6L303.2 466.6L303.9 466.7L304.6 466.7L305.3 466.8L305.9 466.8L306.6 466.8L307.3 466.9L308 466.9L311.5 467L314.9 467L318.4 467.1L321.8 467.1L325.3 467.1L328.7 467.1L332.2 467.1L335.6 467.1L339.1 467.1L342.5 467.1L346 467.1L349.4 467.1L352.9 467.1L356.3 467.1L359.8 467.1L363.2 467.1L366.7 467.1M411.5 459L412.1 460L412.8 460.8L413.5 461.6L414.2 462.2L414.9 462.8L415.6 463.3L416.3 463.7L417 464.1L417.7 464.5L418.4 464.8L419 465.1L419.7 465.3L420.4 465.5L421.1 465.7L421.8 465.9L422.5 466L423.2 466.1L423.9 466.2L424.6 466.3L425.3 466.4L425.9 466.5L426.6 466.6L427.3 466.6L428 466.7L428.7 466.7L429.4 466.8L430.1 466.8L430.8 466.8L431.5 466.9L432.2 466.9L435.6 467L439.1 467L442.5 467.1L446 467.1L449.4 467.1L452.9 467.1L456.3 467.1L459.8 467.1L463.2 467.1L466.7 467.1L470.1 467.1L473.6 467.1L477 467.1L480.5 467.1L483.9 467.1L487.4 467.1L490.8 467.1"/>
<path clip-path="url(#pc)" fill="none" stroke="#333" stroke-width="0.6" d="M41.4 121L42.1 121.8L42.8 122.5L43.5 123.2L44.2 123.8L44.8 124.3L45.5 124.7L46.2 125.2L46.9 125.5L47.6 125.9L48.3 126.2L49 126.4L49.7 126.7L50.4 126.9L51.1 127.1L51.7 127.3L52.4 127.4L53.1 127.6L53.8 127.7L54.5 127.8L55.2 127.9L55.9 128L56.6 128.1L57.3 128.2L58 128.3L58.6 128.3L59.3 128.4L60 128.4L60.7 128.5L61.4 128.5L62.1 128.5L65.5 128.7L69 128.7L72.4 128.8L75.9 128.8L79.3 128.8L82.8 128.8L86.2 128.8L89.7 128.8L93.1 128.8L96.6 128.8L100 128.8L103.5 128.8L106.9 128.8L110.4 128.9L113.8 128.9L117.3 128.9L120.7 128.9L124.2 128.9M41.4 111.6L41.4 120.3M161.1 121L161.8 121.9L162.5 122.6L163.2 123.3L163.9 123.9L164.6 124.5L165.2 125L165.9 125.4L166.6 125.8L167.3 126.2L168 126.5L168.7 126.8L169.4 127L170.1 127.3L170.8 127.5L171.5 127.7L172.1 127.8L172.8 128L173.5 128.1L174.2 128.2L174.9 128.3L175.6 128.4L176.3 128.5L177 128.6L177.7 128.7L178.4 128.7L179 128.8L179.7 128.9L180.4 128.9L181.1 128.9L181.8 129L185.3 129.1L188.7 129.2L192.2 129.2L195.6 129.3L199.1 129.3L202.5 129.3L206 129.3L209.4 129.3L212.9 129.3L216.3 129.3L219.8 129.3L223.2 129.3L226.7 129.3L230.1 129.3L233.6 129.3L237 129.3L240.5 129.3L243.9 129.3L247.4 129.3L250.8 129.3M161.1 116.7L161.1 120.3M288 121L288.7 121.8L289.4 122.5L290.1 123.2L290.8 123.8L291.5 124.3L292.1 124.7L292.8 125.2L293.5 125.5L294.2 125.9L294.9 126.2L295.6 126.4L296.3 126.7L297 126.9L297.7 127.1L298.4 127.3L299 127.4L299.7 127.6L300.4 127.7L301.1 127.8L301.8 127.9L302.5 128L303.2 128.1L303.9 128.2L304.6 128.3L305.3 128.3L305.9 128.4L306.6 128.4L307.3 128.5L308 128.5L308.7 128.5L312.2 128.7L315.6 128.7L319.1 128.8L322.5 128.8L326 128.8L329.4 128.8L332.9 128.8L336.3 128.8L339.8 128.8L343.2 128.8L346.7 128.8L350.1 128.8L353.6 128.8L357 128.9L360.5 128.9L363.9 128.9L367.4 128.9M288 111.6L288 120.3M409.2 121L409.8 121.9L410.5 122.6L411.2 123.3L411.9 123.9L412.6 124.5L413.3 125L414 125.4L414.7 125.8L415.4 126.2L416.1 126.5L416.7 126.8L417.4 127L418.1 127.3L418.8 127.5L419.5 127.7L420.2 127.8L420.9 128L421.6 128.1L422.3 128.2L423 128.3L423.6 128.4L424.3 128.5L425 128.6L425.7 128.7L426.4 128.7L427.1 128.8L427.8 128.9L428.5 128.9L429.2 128.9L429.9 129L433.3 129.1L436.8 129.2L440.2 129.2L443.7 129.3L447.1 129.3L450.6 129.3L454 129.3L457.5 129.3L460.9 129.3L464.4 129.3L467.8 129.3L471.3 129.3L474.7 129.3L478.2 129.3L481.6 129.3L485.1 129.3L488.5 129.3M409.2 111.6L409.2 120.3M46.9 293L47.6 293.8L48.3 294.5L49 295.2L49.7 295.8L50.4 296.3L51.1 296.7L51.7 297.2L52.4 297.5L53.1 297.9L53.8 298.2L54.5 298.4L55.2 298.7L55.9 298.9L56.6 299.1L57.3 299.3L58 299.4L58.6 299.6L59.3 299.7L60 299.8L60.7 299.9L61.4 300L62.1 300.1L62.8 300.2L63.5 300.3L64.2 300.3L64.9 300.4L65.5 300.4L66.2 300.5L66.9 300.5L67.6 300.5L71.1 300.7L74.5 300.7L78 300.8L81.4 300.8L84.9 300.8L88.3 300.8L91.8 300.8L95.2 300.8L98.7 300.8L102.1 300.8L105.6 300.8L109 300.8L112.5 300.8L115.9 300.9L119.4 300.9L122.8 300.9L126.3 300.9L129.7 300.9M46.9 283.6L46.9 292.3M166.2 293L166.9 293.9L167.5 294.6L168.2 295.3L168.9 295.9L169.6 296.5L170.3 297L171 297.4L171.7 297.8L172.4 298.2L173.1 298.5L173.8 298.8L174.4 299L175.1 299.3L175.8 299.5L176.5 299.7L177.2 299.8L177.9 300L178.6 300.1L179.3 300.2L180 300.3L180.7 300.4L181.3 300.5L182 300.6L182.7 300.7L183.4 300.7L184.1 300.8L184.8 300.9L185.5 300.9L186.2 300.9L186.9 301L190.3 301.1L193.8 301.2L197.2 301.2L200.7 301.3L204.1 301.3L207.6 301.3L211 301.3L214.5 301.3L217.9 301.3L221.4 301.3L224.8 301.3L228.3 301.3L231.7 301.3L235.2 301.3L238.6 301.3L242.1 301.3L245.5 301.3L249 301.3M166.2 286.8L166.2 292.3M286.2 293L286.9 293.9L287.5 294.6L288.2 295.3L288.9 295.9L289.6 296.5L290.3 297L291 297.4L291.7 297.8L292.4 298.2L293.1 298.5L293.8 298.8L294.4 299L295.1 299.3L295.8 299.5L296.5 299.7L297.2 299.8L297.9 300L298.6 300.1L299.3 300.2L300 300.3L300.7 300.4L301.3 300.5L302 300.6L302.7 300.7L303.4 300.7L304.1 300.8L304.8 300.9L305.5 300.9L306.2 300.9L306.9 301L310.3 301.1L313.8 301.2L317.2 301.2L320.7 301.3L324.1 301.3L327.6 301.3L331 301.3L334.5 301.3L337.9 301.3L341.4 301.3L344.8 301.3L348.3 301.3L351.7 301.3L355.2 301.3L358.6 301.3L362.1 301.3L365.5 301.3L369 301.3M286.2 283.6L286.2 292.3M409.6 293L410.3 293.9L411 294.6L411.7 295.3L412.4 295.9L413.1 296.5L413.8 297L414.4 297.4L415.1 297.8L415.8 298.2L416.5 298.5L417.2 298.8L417.9 299L418.6 299.3L419.3 299.5L420 299.7L420.7 299.8L421.3 300L422 300.1L422.7 300.2L423.4 300.3L424.1 300.4L424.8 300.5L425.5 300.6L426.2 300.7L426.9 300.7L427.6 300.8L428.2 300.9L428.9 300.9L429.6 300.9L430.3 301L433.8 301.1L437.2 301.2L440.7 301.2L444.1 301.3L447.6 301.3L451 301.3L454.5 301.3L457.9 301.3L461.4 301.3L464.8 301.3L468.3 301.3L471.7 301.3L475.2 301.3L478.6 301.3L482.1 301.3L485.5 301.3L489 301.3M409.6 283.6L409.6 292.3M41.2 462L41.9 462.9L42.5 463.6L43.2 464.3L43.9 464.9L44.6 465.5L45.3 466L46 466.4L46.7 466.8L47.4 467.2L48.1 467.5L48.8 467.8L49.4 468L50.1 468.3L50.8 468.5L51.5 468.7L52.2 468.8L52.9 469L53.6 469.1L54.3 469.2L55 469.3L55.7 469.4L56.3 469.5L57 469.6L57.7 469.7L58.4 469.7L59.1 469.8L59.8 469.9L60.5 469.9L61.2 469.9L61.9 470L65.3 470.1L68.8 470.2L72.2 470.2L75.7 470.3L79.1 470.3L82.6 470.3L86 470.3L89.5 470.3L92.9 470.3L96.4 470.3L99.8 470.3L103.3 470.3L106.7 470.3L110.2 470.3L113.6 470.3L117.1 470.3L120.5 470.3L124 470.3L127.4 470.3L130.9 470.3M41.2 452.6L41.2 461.3M172.6 462L173.3 462.9L174 463.6L174.7 464.3L175.4 464.9L176.1 465.5L176.7 466L177.4 466.4L178.1 466.8L178.8 467.2L179.5 467.5L180.2 467.8L180.9 468L181.6 468.3L182.3 468.5L183 468.7L183.6 468.8L184.3 469L185 469.1L185.7 469.2L186.4 469.3L187.1 469.4L187.8 469.5L188.5 469.6L189.2 469.7L189.9 469.7L190.5 469.8L191.2 469.9L191.9 469.9L192.6 469.9L193.3 470L196.8 470.1L200.2 470.2L203.7 470.2L207.1 470.3L210.6 470.3L214 470.3L217.5 470.3L220.9 470.3L224.4 470.3L227.8 470.3L231.3 470.3L234.7 470.3L238.2 470.3L241.6 470.3L245.1 470.3L248.5 470.3M172.6 452.6L172.6 461.3M287.3 462L288 462.9L288.7 463.6L289.4 464.3L290.1 464.9L290.8 465.5L291.5 466L292.1 466.4L292.8 466.8L293.5 467.2L294.2 467.5L294.9 467.8L295.6 468L296.3 468.3L297 468.5L297.7 468.7L298.4 468.8L299 469L299.7 469.1L300.4 469.2L301.1 469.3L301.8 469.4L302.5 469.5L303.2 469.6L303.9 469.7L304.6 469.7L305.3 469.8L305.9 469.9L306.6 469.9L307.3 469.9L308 470L311.5 470.1L314.9 470.2L318.4 470.2L321.8 470.3L325.3 470.3L328.7 470.3L332.2 470.3L335.6 470.3L339.1 470.3L342.5 470.3L346 470.3L349.4 470.3L352.9 470.3L356.3 470.3L359.8 470.3L363.2 470.3L366.7 470.3M287.3 452.6L287.3 461.3M411.5 462L412.1 462.9L412.8 463.6L413.5 464.3L414.2 464.9L414.9 465.5L415.6 466L416.3 466.4L417 466.8L417.7 467.2L418.4 467.5L419 467.8L419.7 468L420.4 468.3L421.1 468.5L421.8 468.7L422.5 468.8L423.2 469L423.9 469.1L424.6 469.2L425.3 469.3L425.9 469.4L426.6 469.5L427.3 469.6L428 469.7L428.7 469.7L429.4 469.8L430.1 469.9L430.8 469.9L431.5 469.9L432.2 470L435.6 470.1L439.1 470.2L442.5 470.2L446 470.3L449.4 470.3L452.9 470.3L456.3 470.3L459.8 470.3L463.2 470.3L466.7 470.3L470.1 470.3L473.6 470.3L477 470.3L480.5 470.3L483.9 470.3L487.4 470.3L490.8 470.3M411.5 452.6L411.5 461.3"/>
<path fill="#333" d="M155.1 117.1h0.6v0.6h-0.6zM155.1 121.7h0.6v0.6h-0.6z"/>
<path clip-path="url(#pc)" fill="none" stroke="#a23eb4" stroke-width="0.75" stroke-linejoin="round" d="M25.1 152.8L25.8 151.8L26.4 152.6L27.1 152.9L27.8 153.2L28.5 152.9L29.2 153.6L29.9 153.1L30.6 152.8L31.3 153L32 153.6L32.7 153.3L33.3 152.9L34 153.3L34.7 153.2L35.4 153L36.1 152.7L36.8 153.1L37.5 153L38.2 153L38.9 153.1L39.6 152.5L40.2 153L40.9 152.5L41.6 152.5L42.3 152.8L43 152.6L43.7 152.4L44.4 152.3L45.1 151.2L45.8 152.4L46.5 151.4L47.1 151.8L47.8 150.9L48.5 150.2L49.2 151L49.9 150.5L50.6 150.5L51.3 149.7L52 149.9L52.7 150.1L53.4 149.4L54 149.7L54.7 149.3L55.4 149.2L56.1 148.8L56.8 149.9L57.5 149.5L58.2 149.5L58.9 148.7L59.6 149.2L60.3 149.9L60.9 149.2L61.6 149.4L62.3 149.9L63 149.1L63.7 149.5L64.4 150L65.1 150L65.8 150.5L66.5 149.4L67.2 150.3L67.8 149.2L68.5 149.8L69.2 149.4L69.9 149.5L70.6 149.5L71.3 149.4L72 149.2L72.7 149.4L73.4 149.1L74.1 149.4L74.7 149.3L75.4 149.7L76.1 149.2L76.8 149.7L77.5 148.9L78.2 149.1L78.9 149.5L79.6 149.3L80.3 149.7L81 149.5L81.6 148.9L82.3 149.3L83 149.1L83.7 149.3L84.4 148.9L85.1 149.5L85.8 149.4L86.5 148.8L87.2 149.1L87.9 149L88.5 149.1L89.2 148.7L89.9 148.5L90.6 148.9L91.3 149.1L92 148.8L92.7 148.5L93.4 149.8L94.1 149L94.8 148.4L95.4 148.6L96.1 149.3L96.8 148.9L97.5 149L98.2 148.9L98.9 149L99.6 149.2L100.3 149.7L101 149.7L101.7 149L102.3 149.3L103 149.9L103.7 150.2L104.4 149.4L105.1 150.5L105.8 149.5L106.5 149.8L107.2 150.2L107.9 150.4L108.6 149.2L109.2 150.2L109.9 149.9L110.6 149.7L111.3 150.4L112 150L112.7 150.2L113.4 149.5L114.1 150.1L114.8 149.7L115.5 150.2L116.1 150.1L116.8 150.3L117.5 150L118.2 149.7L118.9 150.8L119.6 150.3L120.3 150.1L121 151.2L121.7 150.5L122.4 150.2L123 150L123.7 149.1L124.4 148.5L125.1 148.2L125.8 147.7L126.5 149L127.2 148.2L127.9 149.8L128.6 150.6L129.3 152.2L129.9 152.3L130.6 152.9L131.3 153.4L132 153.8L132.2 154.2M150.1 154.3L150.8 154.7L151.4 154.8L152.1 154L152.8 153.9L153.5 154L154.2 154L154.9 153.5L155.6 154.1L156.3 153.9L157 153.6L157.7 152.5L158.3 153.3L159 153L159.7 153.4L160.4 152.2L161.1 152.9L161.8 153L162.5 153.2L163.2 152.8L163.9 152.8L164.6 153.2L165.2 152.4L165.9 152.7L166.6 152L167.3 152.2L168 152.1L168.7 151.1L169.4 151.5L170.1 151.3L170.8 151.3L171.5 150.7L172.1 150.2L172.8 149.8L173.5 150.3L174.2 150.6L174.9 150L175.6 149.9L176.3 150.1L177 150.1L177.7 149.4L178.4 149.9L179 149.3L179.7 149.3L180.4 149L181.1 149L181.8 149.4L182.5 149.1L183.2 148.9L183.9 149.2L184.6 148.9L185.3 149.4L185.9 148.5L186.6 148.5L187.3 148.5L188 148.1L188.7 148.1L189.4 148.6L190.1 147.7L190.8 148.3L191.5 147.9L192.2 147.7L192.8 148.4L193.5 147.9L194.2 147.5L194.9 147.8L195.6 148L196.3 147.8L197 147.8L197.7 147.6L198.4 147.1L199.1 147.8L199.7 147L200.4 147.3L201.1 146.8L201.8 146.6L202.5 147.5L203.2 146.9L203.9 147.4L204.6 147.4L205.3 146.9L206 146.5L206.6 146.3L207.3 147L208 146.4L208.7 146.6L209.4 146.5L210.1 145.6L210.8 147L211.5 146.2L212.2 146L212.9 146.4L213.5 146.2L214.2 146.1L214.9 146.2L215.6 145.9L216.3 146.1L217 146.5L217.7 146L218.4 145.6L219.1 146L219.8 146.3L220.4 146.7L221.1 145.7L221.8 146.5L222.5 146.5L223.2 146.8L223.9 146.5L224.6 146.4L225.3 146.3L226 147.1L226.7 146.6L227.3 146.5L228 146.7L228.7 147L229.4 146.8L230.1 146.8L230.8 146.6L231.5 147.5L232.2 147.5L232.9 147.2L233.6 147L234.2 147L234.9 147.7L235.6 148L236.3 147.8L237 148.2L237.7 147.5L238.4 147.8L239.1 147.8L239.8 147.9L240.5 147.4L241.1 148.4L241.8 147.9L242.5 148.6L243.2 148.2L243.9 148.6L244.6 148.3L245.3 148.5L246 148.6L246.7 148.9L247.4 149.6L248 149.1L248.7 149.1L249.4 149.5L250.1 149.8L250.8 150.8L251.5 150.5L252.2 151.6L252.9 152.9L253.6 152.8L254.3 154.2M270.1 153.8L270.8 154.4L271.4 153.9L272.1 153.9L272.8 153.1L273.5 152.9L274.2 152.7L274.9 152.8L275.6 152.5L276.3 153.4L277 153.3L277.7 152.7L278.3 153.1L279 153L279.7 152.1L280.4 152.5L281.1 152.2L281.8 152.3L282.5 151L283.2 151.5L283.9 151.4L284.6 151L285.2 150.5L285.9 151.2L286.6 151.2L287.3 151.2L288 149.7L288.7 150.8L289.4 150.6L290.1 150.7L290.8 150.7L291.5 150.1L292.1 150.5L292.8 149.8L293.5 150.6L294.2 149.9L294.9 150.1L295.6 149.4L296.3 150.1L297 149.8L297.7 149.7L298.4 149.9L299 149.9L299.7 149.5L300.4 150.3L301.1 149.9L301.8 149.8L302.5 149.7L303.2 149.1L303.9 149.5L304.6 149.4L305.3 149.2L305.9 149.5L306.6 148.9L307.3 150.5L308 149.5L308.7 149L309.4 149.1L310.1 149L310.8 149.2L311.5 149.4L312.2 148.8L312.8 148.4L313.5 149L314.2 148.6L314.9 149L315.6 149L316.3 148.7L317 149.2L317.7 149L318.4 148.6L319.1 149.1L319.7 148.9L320.4 148.9L321.1 148.7L321.8 149.4L322.5 148.9L323.2 149.2L323.9 149.2L324.6 148.7L325.3 148.5L326 149.1L326.6 148.6L327.3 149.1L328 149.5L328.7 148.1L329.4 148.2L330.1 148.1L330.8 148.7L331.5 148.9L332.2 148.9L332.9 147.9L333.5 148.4L334.2 147.9L334.9 148.4L335.6 148.5L336.3 148.5L337 148.2L337.7 148.4L338.4 148.4L339.1 148.4L339.8 148.6L340.4 148.8L341.1 148.9L341.8 148.5L342.5 148.5L343.2 148.4L343.9 148.3L344.6 148.9L345.3 148.2L346 149L346.7 148.5L347.3 150L348 148.2L348.7 148.9L349.4 148L350.1 148.9L350.8 149.2L351.5 149.1L352.2 149.1L352.9 149.2L353.6 149.2L354.2 149.7L354.9 150.2L355.6 150.3L356.3 149.7L357 149.5L357.7 150L358.4 149.8L359.1 150.1L359.8 150.5L360.5 150.7L361.1 149.9L361.8 150.2L362.5 149.9L363.2 149.9L363.9 150.4L364.6 150.4L365.3 149.9L366 149.4L366.7 149.4L367.4 149.4L368 147.9L368.7 147L369.4 146.9L370.1 147L370.8 147.1L371.5 148.3L372.2 150.6L372.9 151.5L373.6 152.5L374.3 154.2M390.8 155.9L391.4 155.6L392.1 155.1L392.8 155.7L393.5 155.1L394.2 153.8L394.9 155L395.6 153.9L396.3 155.2L397 154.3L397.7 154.2L398.3 154.5L399 154.4L399.7 154.3L400.4 154.2L401.1 154.4L401.8 154.1L402.5 153.9L403.2 153.7L403.9 152.9L404.6 153.6L405.2 153.3L405.9 153.2L406.6 153.3L407.3 153L408 153L408.7 152.3L409.4 152.5L410.1 153L410.8 152.4L411.5 152.7L412.1 152L412.8 152.4L413.5 152.4L414.2 151.9L414.9 152.3L415.6 152.3L416.3 151.6L417 152.3L417.7 152L418.4 152.1L419 151.9L419.7 152.1L420.4 152.2L421.1 152.1L421.8 151.6L422.5 151.2L423.2 152L423.9 151.7L424.6 151.4L425.3 151.8L425.9 151.3L426.6 150.9L427.3 151.3L428 151.1L428.7 150.9L429.4 151L430.1 152L430.8 150.9L431.5 150.6L432.2 151.4L432.8 151.5L433.5 150.8L434.2 151.3L434.9 150.9L435.6 151.1L436.3 150.4L437 150.9L437.7 150.8L438.4 150.2L439.1 149.6L439.7 151.1L440.4 150.1L441.1 150.1L441.8 150.9L442.5 149.7L443.2 149.9L443.9 150.1L444.6 149.9L445.3 150.5L446 149.8L446.6 149.9L447.3 149.6L448 149.7L448.7 149.5L449.4 149.9L450.1 149.6L450.8 149.4L451.5 149.4L452.2 150.6L452.9 149.8L453.5 149.9L454.2 149.8L454.9 149.9L455.6 150.1L456.3 149.2L457 149.1L457.7 150L458.4 148.7L459.1 149.1L459.8 149.7L460.4 149.9L461.1 149.5L461.8 149.4L462.5 149.3L463.2 150.1L463.9 150.1L464.6 149.5L465.3 149.6L466 150.1L466.7 149.4L467.3 150.2L468 149.9L468.7 149.3L469.4 149.7L470.1 150.2L470.8 149.9L471.5 150.4L472.2 150.4L472.9 149.7L473.6 150.6L474.2 150.2L474.9 149.2L475.6 150.5L476.3 150.1L477 150.8L477.7 150.8L478.4 150.1L479.1 150.5L479.8 149.6L480.5 150.4L481.1 150.2L481.8 150.4L482.5 151.2L483.2 150.8L483.9 150.8L484.6 150.7L485.3 150.8L486 150.8L486.7 151.5L487.4 151.4L488 152.2L488.7 152.2L489.4 152.2L490.1 152.7L490.8 152.4L491.5 153.2L492.2 153.8L492.9 153.4L493.6 154.7L494.3 155.3M25.1 328.8L25.8 328.8L26.4 329.3L27.1 330L27.8 329.2L28.5 329.7L29.2 329.4L29.9 329.1L30.6 329.9L31.3 329.5L32 329.5L32.7 329.6L33.3 329.5L34 329.2L34.7 328.9L35.4 329.5L36.1 328.4L36.8 329.4L37.5 328.9L38.2 329.4L38.9 329.2L39.6 329.1L40.2 329.3L40.9 329.2L41.6 329.1L42.3 329L43 329.1L43.7 329.1L44.4 329.2L45.1 328.6L45.8 329L46.5 327.3L47.1 326.6L47.8 326.9L48.5 326.7L49.2 326.8L49.9 326.3L50.6 325.5L51.3 325.8L52 325L52.7 324.9L53.4 323.8L54 323.4L54.7 322.8L55.4 323L56.1 321.8L56.8 321.8L57.5 322.3L58.2 321.8L58.9 321L59.6 320.7L60.3 321.6L60.9 319.6L61.6 320.5L62.3 319.6L63 320.4L63.7 319.6L64.4 319.1L65.1 318.7L65.8 318.7L66.5 318.8L67.2 317.5L67.8 317.7L68.5 318.4L69.2 317.9L69.9 318.1L70.6 317.4L71.3 317.1L72 318.2L72.7 317.7L73.4 317.4L74.1 316.7L74.7 316.8L75.4 316.2L76.1 315.7L76.8 316.2L77.5 315.9L78.2 315.7L78.9 315.2L79.6 315.2L80.3 315.1L81 314.4L81.6 314.3L82.3 314.7L83 314.3L83.7 314L84.4 314.1L85.1 313.1L85.8 313.7L86.5 313.7L87.2 313.4L87.9 312.7L88.5 313.5L89.2 311.7L89.9 312.7L90.6 312L91.3 312.8L92 312.9L92.7 312.9L93.4 311.9L94.1 312L94.8 311.8L95.4 312L96.1 312.6L96.8 312.6L97.5 312.1L98.2 312.3L98.9 311L99.6 312.2L100.3 311.8L101 311.7L101.7 311.3L102.3 312.2L103 311.5L103.7 311.9L104.4 311.8L105.1 312.2L105.8 312L106.5 312.1L107.2 312.6L107.9 312.5L108.6 312.5L109.2 312.1L109.9 313.3L110.6 312.9L111.3 313.2L112 313.3L112.7 313.4L113.4 313.8L114.1 313.7L114.8 313.5L115.5 314L116.1 313.7L116.8 313.7L117.5 313.4L118.2 313L118.9 314.2L119.6 314.3L120.3 313.9L121 313.4L121.7 314L122.4 314.5L123 314.9L123.7 315.4L124.4 316.1L125.1 315.9L125.8 318.2L126.5 318.9L127.2 319.8L127.9 322L128.6 322.3L129.3 323.5L129.9 324.1L130.6 325.4L131.3 325.8L132 327.1L132.2 327.3M150.1 329.5L150.8 329.8L151.4 329.7L152.1 329.8L152.8 329.7L153.5 329.8L154.2 329.4L154.9 329.4L155.6 330.2L156.3 329.7L157 330L157.7 329.8L158.3 329.5L159 329.9L159.7 329.5L160.4 330.4L161.1 330L161.8 329.4L162.5 329.3L163.2 329L163.9 329.7L164.6 328.8L165.2 329.4L165.9 328.8L166.6 328.8L167.3 329.2L168 328L168.7 328.1L169.4 327.9L170.1 328L170.8 327.4L171.5 327.1L172.1 326.8L172.8 327.2L173.5 326.6L174.2 326.1L174.9 326.2L175.6 325.8L176.3 325.5L177 325L177.7 325L178.4 323.7L179 324L179.7 323.9L180.4 324.1L181.1 323.3L181.8 323.7L182.5 323.5L183.2 322.7L183.9 322.6L184.6 321.7L185.3 322.2L185.9 321.9L186.6 321.3L187.3 320.4L188 321.7L188.7 320.7L189.4 320.6L190.1 320.6L190.8 319.8L191.5 319.6L192.2 318.9L192.8 319.6L193.5 319.2L194.2 319.1L194.9 318.6L195.6 318.4L196.3 317.9L197 317.4L197.7 317.6L198.4 317.9L199.1 317.3L199.7 317.4L200.4 317.6L201.1 316.9L201.8 316.8L202.5 317.2L203.2 317.6L203.9 316.8L204.6 316.3L205.3 317L206 317.1L206.6 316.5L207.3 316.4L208 316.5L208.7 316.5L209.4 316.7L210.1 316.3L210.8 317.1L211.5 316.7L212.2 316L212.9 316.4L213.5 316.2L214.2 316.8L214.9 316.3L215.6 315.9L216.3 316.2L217 316.3L217.7 316.1L218.4 316.3L219.1 316.7L219.8 316.6L220.4 316.4L221.1 316.4L221.8 316.5L222.5 316.4L223.2 316.3L223.9 316.5L224.6 316.7L225.3 316.6L226 316.7L226.7 316L227.3 316.7L228 317.2L228.7 317.2L229.4 317.6L230.1 316.9L230.8 317.5L231.5 317.2L232.2 318.1L232.9 317.8L233.6 317.9L234.2 318.6L234.9 317.8L235.6 317.4L236.3 317.2L237 318L237.7 317.7L238.4 317.7L239.1 317.5L239.8 317.7L240.5 317.3L241.1 317.3L241.8 317.5L242.5 317.2L243.2 316.4L243.9 317.1L244.6 317.6L245.3 318.1L246 318.6L246.7 321.1L247.4 322.9L248 324.9L248.7 326.2L249.4 326.9L250.1 327L250.8 328.4L251.5 327.6L252.2 327.1L252.9 327.3L253.6 326.7L254.3 327.3M270.1 329.6L270.8 330L271.4 329.4L272.1 329.3L272.8 329.8L273.5 329.4L274.2 329.5L274.9 330.4L275.6 330L276.3 330L277 330.4L277.7 330.7L278.3 330.4L279 331.1L279.7 330.3L280.4 329.9L281.1 330.6L281.8 330L282.5 329.9L283.2 330.3L283.9 329.9L284.6 329.3L285.2 328.5L285.9 327.7L286.6 328.7L287.3 329.3L288 328.3L288.7 328.2L289.4 327.5L290.1 327.8L290.8 327.9L291.5 327.6L292.1 327.4L292.8 327.1L293.5 327.2L294.2 327.1L294.9 327.4L295.6 326.1L296.3 326.7L297 325.8L297.7 326.2L298.4 325.5L299 325.7L299.7 324.6L300.4 325.3L301.1 324.8L301.8 324.6L302.5 324.6L303.2 324.5L303.9 323.8L304.6 323.5L305.3 323.7L305.9 323.9L306.6 323.3L307.3 323.4L308 323L308.7 322.6L309.4 322.1L310.1 322.9L310.8 322.1L311.5 322.2L312.2 321.7L312.8 321.9L313.5 320.9L314.2 321L314.9 320.9L315.6 321.3L316.3 321.1L317 321.3L317.7 319.8L318.4 320.6L319.1 320.1L319.7 320.6L320.4 319.9L321.1 319.3L321.8 319.2L322.5 319.4L323.2 319L323.9 319L324.6 318.2L325.3 318L326 317.9L326.6 317.7L327.3 317.8L328 317.3L328.7 317.3L329.4 317L330.1 317.3L330.8 316.8L331.5 316.8L332.2 317.6L332.9 316.9L333.5 316L334.2 315.9L334.9 316.6L335.6 315.8L336.3 315.8L337 316.6L337.7 316.3L338.4 315.9L339.1 316.1L339.8 316L340.4 316.3L341.1 315.6L341.8 316L342.5 315.3L343.2 316L343.9 315L344.6 314.7L345.3 314.9L346 315.5L346.7 315.6L347.3 316L348 315.3L348.7 315.4L349.4 315.4L350.1 315.5L350.8 315.1L351.5 315.9L352.2 315.4L352.9 316.3L353.6 315.2L354.2 316.3L354.9 316L355.6 315.8L356.3 315.8L357 316.7L357.7 316.3L358.4 315.8L359.1 315.5L359.8 315.9L360.5 316.1L361.1 315.1L361.8 314.8L362.5 314.8L363.2 314.1L363.9 314.7L364.6 318.7L365.3 322.7L366 322.9L366.7 323.9L367.4 325.1L368 325.7L368.7 326.4L369.4 327.9L370.1 328.1L370.8 328.2L371.5 327.4L372.2 328.1L372.9 327.7L373.6 327.6L374.3 327.3M390.1 329.5L390.8 329.4L391.4 329.6L392.1 328.9L392.8 329.9L393.5 329.5L394.2 328.7L394.9 329.3L395.6 329.6L396.3 329.4L397 329.6L397.7 329.6L398.3 329.1L399 329.3L399.7 329L400.4 329.1L401.1 329.6L401.8 329.2L402.5 329.1L403.2 328.8L403.9 329.6L404.6 329.4L405.2 329.6L405.9 329.2L406.6 329.6L407.3 330L408 329.6L408.7 329.7L409.4 329.2L410.1 327.9L410.8 327.9L411.5 327.1L412.1 327L412.8 326.9L413.5 326.7L414.2 325.9L414.9 326.2L415.6 325.6L416.3 325.5L417 324.9L417.7 324.4L418.4 324.7L419 325L419.7 323.7L420.4 323.4L421.1 323L421.8 323.1L422.5 322.3L423.2 321.8L423.9 321.3L424.6 320.7L425.3 321L425.9 320.3L426.6 320.2L427.3 319.6L428 319.9L428.7 319.1L429.4 318L430.1 318.1L430.8 317.5L431.5 317.3L432.2 317.4L432.8 315.9L433.5 316.6L434.2 314.6L434.9 314.9L435.6 315L436.3 314.4L437 313.5L437.7 313.6L438.4 313.4L439.1 313.1L439.7 312.7L440.4 312.8L441.1 312.5L441.8 312.3L442.5 312.2L443.2 312.4L443.9 312.3L444.6 312L445.3 311.9L446 311.9L446.6 311.4L447.3 311.6L448 311L448.7 310.5L449.4 311.2L450.1 311.2L450.8 310.6L451.5 310.6L452.2 311.5L452.9 311.1L453.5 310.2L454.2 310.6L454.9 311.2L455.6 310.1L456.3 310.6L457 310.8L457.7 310.7L458.4 309.8L459.1 310.8L459.8 309.7L460.4 310.2L461.1 309.7L461.8 309.4L462.5 310.1L463.2 309.4L463.9 309.6L464.6 309.6L465.3 309.3L466 309.7L466.7 310.2L467.3 310.3L468 310L468.7 310.8L469.4 310.7L470.1 311.2L470.8 310L471.5 310L472.2 310.3L472.9 310.3L473.6 310.7L474.2 309.9L474.9 310.8L475.6 310.6L476.3 310.4L477 310.1L477.7 311.1L478.4 311.2L479.1 310.4L479.8 310.7L480.5 311.2L481.1 310.6L481.8 311.3L482.5 311.6L483.2 312.3L483.9 311.9L484.6 312.3L485.3 314L486 315.2L486.7 316.4L487.4 318.5L488 321.7L488.7 324.2L489.4 326.2L490.1 326L490.8 327L491.5 327.2L492.2 326.6L492.9 326.4L493.6 326.7L494.3 327.3M25.1 498.8L25.8 499.1L26.4 498.7L27.1 499.6L27.8 499L28.5 498.8L29.2 499.6L29.9 498.6L30.6 499.6L31.3 499.2L32 498.9L32.7 499L33.3 498.7L34 499.3L34.7 499L35.4 498.9L36.1 498.5L36.8 498.1L37.5 498.4L38.2 497.4L38.9 497.4L39.6 497.1L40.2 497.4L40.9 496.8L41.6 496.3L42.3 496L43 495.5L43.7 494.5L44.4 494.3L45.1 494.2L45.8 494L46.5 493.6L47.1 493.7L47.8 492.6L48.5 492.4L49.2 492.1L49.9 492.6L50.6 491.2L51.3 490.7L52 490.6L52.7 489.6L53.4 489.8L54 489.6L54.7 489.9L55.4 488.5L56.1 488.6L56.8 488.3L57.5 488L58.2 487.7L58.9 487.7L59.6 487.6L60.3 487.7L60.9 487.7L61.6 486.7L62.3 486L63 486.4L63.7 485.5L64.4 485.5L65.1 485.2L65.8 485.1L66.5 484.6L67.2 484.4L67.8 483.8L68.5 483.7L69.2 483.3L69.9 482.8L70.6 483.5L71.3 482L72 482.5L72.7 483L73.4 482.5L74.1 482L74.7 481.6L75.4 481.7L76.1 482.3L76.8 481.3L77.5 481.3L78.2 481.6L78.9 481.1L79.6 481.7L80.3 481.4L81 481.2L81.6 480.8L82.3 480.4L83 480.8L83.7 480.8L84.4 480.6L85.1 481.4L85.8 480.6L86.5 479.9L87.2 481.1L87.9 480L88.5 480.6L89.2 480.2L89.9 479.9L90.6 479.4L91.3 479.8L92 479.9L92.7 479.4L93.4 479.4L94.1 479.6L94.8 479.7L95.4 479.6L96.1 479.7L96.8 478.7L97.5 479.4L98.2 479.5L98.9 479.6L99.6 479.5L100.3 479.7L101 479.8L101.7 480L102.3 479.8L103 478.9L103.7 480.8L104.4 479.6L105.1 479.6L105.8 480.2L106.5 480.4L107.2 481.1L107.9 480.9L108.6 480.6L109.2 481L109.9 481.3L110.6 480.7L111.3 480.9L112 481.1L112.7 481.4L113.4 481L114.1 481.2L114.8 481.3L115.5 480.3L116.1 481.2L116.8 481.3L117.5 481.8L118.2 481.8L118.9 482.9L119.6 483.6L120.3 485.8L121 486.1L121.7 484.9L122.4 483.8L123 482.1L123.7 481.2L124.4 480.8L125.1 482.4L125.8 484.8L126.5 487.5L127.2 490.2L127.9 491.9L128.6 493.1L129.3 494.6L129.9 496.4L130.6 496.5L131.3 496.3L132 496.9L132.2 496.8M150.1 498.8L150.8 498.1L151.4 498.8L152.1 498.8L152.8 498.8L153.5 498.7L154.2 497.6L154.9 498.1L155.6 498.2L156.3 498.3L157 498.4L157.7 499.6L158.3 498.9L159 499L159.7 498.8L160.4 499L161.1 498.3L161.8 498.6L162.5 498.5L163.2 498.2L163.9 497.6L164.6 497.8L165.2 497.2L165.9 497.5L166.6 496.7L167.3 496.5L168 497L168.7 496.5L169.4 496L170.1 495.9L170.8 496.6L171.5 497.3L172.1 497.9L172.8 498.1L173.5 497.3L174.2 496.2L174.9 495.8L175.6 495L176.3 494.8L177 494.4L177.7 493.9L178.4 493L179 491.9L179.7 491.7L180.4 491.1L181.1 491.4L181.8 490.8L182.5 489.9L183.2 489L183.9 489.4L184.6 488.6L185.3 488L185.9 488.1L186.6 486.9L187.3 487.3L188 486.3L188.7 486.6L189.4 485.9L190.1 485.5L190.8 485.4L191.5 485L192.2 485.2L192.8 485.1L193.5 484L194.2 484L194.9 483.5L195.6 484.1L196.3 483.4L197 483.3L197.7 483.4L198.4 482.5L199.1 483.3L199.7 482.5L200.4 483.5L201.1 483L201.8 481.9L202.5 482.5L203.2 482.5L203.9 482.2L204.6 482.1L205.3 482.2L206 482.8L206.6 482.1L207.3 481.9L208 481.6L208.7 481.9L209.4 481.7L210.1 482.3L210.8 482.5L211.5 481.9L212.2 481.8L212.9 481.4L213.5 481.6L214.2 481.6L214.9 482L215.6 481.1L216.3 480.5L217 481L217.7 480.8L218.4 480.8L219.1 481L219.8 481.2L220.4 481.2L221.1 480.1L221.8 479.7L222.5 480.1L223.2 480L223.9 480.5L224.6 480L225.3 481.5L226 480.4L226.7 480.9L227.3 480.9L228 480.6L228.7 480.6L229.4 480.7L230.1 480.8L230.8 480.7L231.5 480.8L232.2 481.1L232.9 481.7L233.6 481.1L234.2 481L234.9 481.3L235.6 481.4L236.3 481.3L237 481.6L237.7 481.7L238.4 481.4L239.1 482.1L239.8 482L240.5 481.8L241.1 482.1L241.8 482.4L242.5 481.6L243.2 482L243.9 481.1L244.6 481.3L245.3 482.2L246 483.5L246.7 483.6L247.4 481.4L248 483.5L248.7 486.3L249.4 488.5L250.1 491.6L250.8 494.4L251.5 495.6L252.2 496.3L252.9 496.7L253.6 495.6L254.3 495.2M270.1 498.9L270.8 498L271.4 498.1L272.1 498.7L272.8 499.4L273.5 498.7L274.2 499.4L274.9 499L275.6 498.8L276.3 499.6L277 498.9L277.7 498.3L278.3 498.4L279 498.6L279.7 498.8L280.4 498.7L281.1 499.3L281.8 499.5L282.5 499.8L283.2 499.5L283.9 500.1L284.6 499.1L285.2 499.2L285.9 499.3L286.6 498.3L287.3 498.8L288 499.3L288.7 497.3L289.4 496.9L290.1 495.5L290.8 493.1L291.5 492.1L292.1 490.9L292.8 491.1L293.5 491.4L294.2 491.4L294.9 492.4L295.6 491.3L296.3 491.6L297 491L297.7 489.6L298.4 490.8L299 489.5L299.7 490.2L300.4 489.9L301.1 489.6L301.8 489.9L302.5 489.1L303.2 489L303.9 488.6L304.6 488.8L305.3 488.4L305.9 488.3L306.6 488.1L307.3 487.7L308 488.6L308.7 487.3L309.4 487.3L310.1 486.5L310.8 486.8L311.5 486.4L312.2 486.9L312.8 486.5L313.5 486.2L314.2 486.2L314.9 485.9L315.6 486L316.3 485.9L317 485.6L317.7 486.1L318.4 484.9L319.1 485.6L319.7 485L320.4 485.9L321.1 484.9L321.8 484.9L322.5 485.7L323.2 485.2L323.9 484.4L324.6 484.7L325.3 483.7L326 484.6L326.6 484.8L327.3 484.7L328 485.3L328.7 484.8L329.4 485.7L330.1 484.7L330.8 485.1L331.5 484.5L332.2 485L332.9 484.8L333.5 483.7L334.2 484.7L334.9 483.8L335.6 484.4L336.3 484L337 483.6L337.7 483.6L338.4 483.5L339.1 484.2L339.8 483.1L340.4 484.1L341.1 483.9L341.8 483.8L342.5 483.1L343.2 482.9L343.9 482.9L344.6 483.5L345.3 483.8L346 483.6L346.7 483.9L347.3 483.9L348 484.5L348.7 484.5L349.4 484.3L350.1 484L350.8 484L351.5 484.3L352.2 484L352.9 484.4L353.6 484.7L354.2 484.2L354.9 484.2L355.6 484.4L356.3 485L357 484.3L357.7 484.9L358.4 484.8L359.1 485.2L359.8 485.1L360.5 485.4L361.1 485.7L361.8 485.2L362.5 485L363.2 485.4L363.9 485L364.6 485.3L365.3 485.5L366 484.6L366.7 484.7L367.4 483.1L368 487.8L368.7 492.4L369.4 495L370.1 496.3L370.8 496.8L371.5 496.9L372.2 497.1L372.9 497.1L373.6 496.1L374.3 496.3M390.8 498.7L391.4 498.2L392.1 498.3L392.8 498.9L393.5 498.7L394.2 498.9L394.9 499L395.6 498.5L396.3 499L397 499.1L397.7 499.1L398.3 498.5L399 499.4L399.7 499L400.4 499.7L401.1 499.2L401.8 498.9L402.5 499.7L403.2 499.7L403.9 500.2L404.6 499.7L405.2 499.9L405.9 499.1L406.6 499.2L407.3 498.7L408 498.8L408.7 498.4L409.4 498.6L410.1 498.4L410.8 497.4L411.5 496.9L412.1 496L412.8 495.1L413.5 494.2L414.2 493.8L414.9 493.4L415.6 492.5L416.3 492.3L417 491.9L417.7 492.5L418.4 491.6L419 491.2L419.7 491.3L420.4 490.4L421.1 490.7L421.8 491L422.5 490.5L423.2 490.1L423.9 490.3L424.6 489.8L425.3 489.9L425.9 489.8L426.6 489.3L427.3 489.5L428 489L428.7 489L429.4 488.6L430.1 488.6L430.8 488.7L431.5 487.4L432.2 487.4L432.8 488.3L433.5 487.5L434.2 487L434.9 487L435.6 487.1L436.3 487L437 486.3L437.7 486.1L438.4 486.7L439.1 486.6L439.7 485.5L440.4 485.4L441.1 485.7L441.8 486.4L442.5 486.4L443.2 485.6L443.9 484.8L444.6 485.4L445.3 485.8L446 485.2L446.6 485L447.3 484.9L448 485.1L448.7 485.3L449.4 483.5L450.1 484.5L450.8 484.7L451.5 484.3L452.2 484.6L452.9 484.8L453.5 484.4L454.2 484.6L454.9 484L455.6 483.9L456.3 484.1L457 484.1L457.7 483.7L458.4 484.1L459.1 483.4L459.8 484L460.4 483.5L461.1 483.2L461.8 483.1L462.5 484.1L463.2 483.8L463.9 483.3L464.6 483.5L465.3 483.4L466 483.4L466.7 482.5L467.3 482.6L468 482.9L468.7 481.9L469.4 482.4L470.1 482.9L470.8 482L471.5 482.9L472.2 483.1L472.9 483.3L473.6 482.2L474.2 482.7L474.9 482.3L475.6 483.2L476.3 482.7L477 482.8L477.7 482.9L478.4 482.9L479.1 483L479.8 482L480.5 482.8L481.1 482.9L481.8 482.7L482.5 483.3L483.2 482.8L483.9 484L484.6 483.5L485.3 483.3L486 483.8L486.7 485L487.4 487L488 489.3L488.7 490.6L489.4 492.2L490.1 492.7L490.8 493.7L491.5 494.2L492.2 494.9L492.9 495.9L493.6 496.3L494.3 496.8"/>
<path fill="#8c8c8c" d="M22.3 17.1h110.2v1.6h-110.2zM22.3 61.1h110.2v1.6h-110.2zM22.3 85.6h110.2v1.6h-110.2zM22.3 110.2h110.2v1.6h-110.2zM22.3 135.1h110.2v1.6h-110.2zM147.6 17.1h106.8v1.6h-106.8zM147.6 61.1h106.8v1.6h-106.8zM147.6 85.6h106.8v1.6h-106.8zM147.6 110.2h106.8v1.6h-106.8zM147.6 135.1h106.8v1.6h-106.8zM268.6 17.1h105.7v1.6h-105.7zM268.6 61.1h105.7v1.6h-105.7zM268.6 85.6h105.7v1.6h-105.7zM268.6 110.2h105.7v1.6h-105.7zM268.6 135.1h105.7v1.6h-105.7zM388.5 17.1h105.8v1.6h-105.8zM388.5 61.1h105.8v1.6h-105.8zM388.5 85.6h105.8v1.6h-105.8zM388.5 110.2h105.8v1.6h-105.8zM388.5 135.1h105.8v1.6h-105.8zM22.3 189.3h110.2v1.6h-110.2zM22.3 233.3h110.2v1.6h-110.2zM22.3 257.8h110.2v1.6h-110.2zM22.3 282.4h110.2v1.6h-110.2zM22.3 307.3h110.2v1.6h-110.2zM147.6 189.3h106.8v1.6h-106.8zM147.6 233.3h106.8v1.6h-106.8zM147.6 257.8h106.8v1.6h-106.8zM147.6 282.4h106.8v1.6h-106.8zM147.6 307.3h106.8v1.6h-106.8zM268.6 189.3h105.7v1.6h-105.7zM268.6 233.3h105.7v1.6h-105.7zM268.6 257.8h105.7v1.6h-105.7zM268.6 282.4h105.7v1.6h-105.7zM268.6 307.3h105.7v1.6h-105.7zM388.5 189.3h105.8v1.6h-105.8zM388.5 233.3h105.8v1.6h-105.8zM388.5 257.8h105.8v1.6h-105.8zM388.5 282.4h105.8v1.6h-105.8zM388.5 307.3h105.8v1.6h-105.8zM22.3 357.8h110.2v1.6h-110.2zM22.3 401.8h110.2v1.6h-110.2zM22.3 426.3h110.2v1.6h-110.2zM22.3 450.9h110.2v1.6h-110.2zM22.3 475.8h110.2v1.6h-110.2zM147.6 357.8h106.8v1.6h-106.8zM147.6 401.8h106.8v1.6h-106.8zM147.6 426.3h106.8v1.6h-106.8zM147.6 450.9h106.8v1.6h-106.8zM147.6 475.8h106.8v1.6h-106.8zM268.6 357.8h105.7v1.6h-105.7zM268.6 401.8h105.7v1.6h-105.7zM268.6 426.3h105.7v1.6h-105.7zM268.6 450.9h105.7v1.6h-105.7zM268.6 475.8h105.7v1.6h-105.7zM388.5 357.8h105.8v1.6h-105.8zM388.5 401.8h105.8v1.6h-105.8zM388.5 426.3h105.8v1.6h-105.8zM388.5 450.9h105.8v1.6h-105.8zM388.5 475.8h105.8v1.6h-105.8z"/>
<path fill="#222" d="M24.1 17.4h1v1h-1zM43.8 17.4h1v1h-1zM63.5 17.4h1v1h-1zM83.5 17.4h1v1h-1zM102.6 17.4h1v1h-1zM122.3 17.4h1v1h-1zM24.1 61.4h1v1h-1zM43.8 61.4h1v1h-1zM63.5 61.4h1v1h-1zM83.5 61.4h1v1h-1zM102.6 61.4h1v1h-1zM122.3 61.4h1v1h-1zM24.1 85.9h1v1h-1zM43.8 85.9h1v1h-1zM63.5 85.9h1v1h-1zM83.5 85.9h1v1h-1zM102.6 85.9h1v1h-1zM122.3 85.9h1v1h-1zM24.1 110.5h1v1h-1zM43.8 110.5h1v1h-1zM63.5 110.5h1v1h-1zM83.5 110.5h1v1h-1zM102.6 110.5h1v1h-1zM122.3 110.5h1v1h-1zM24.1 135.4h1v1h-1zM43.8 135.4h1v1h-1zM63.5 135.4h1v1h-1zM83.5 135.4h1v1h-1zM102.6 135.4h1v1h-1zM122.3 135.4h1v1h-1zM24.4 159.6h0.5v0.8h-0.5zM44.1 159.6h0.5v0.8h-0.5zM63.8 159.6h0.5v0.8h-0.5zM83.8 159.6h0.5v0.8h-0.5zM102.8 159.6h0.5v0.8h-0.5zM122.5 159.6h0.5v0.8h-0.5zM149.5 17.4h1v1h-1zM168.6 17.4h1v1h-1zM187.6 17.4h1v1h-1zM207 17.4h1v1h-1zM225.4 17.4h1v1h-1zM244.5 17.4h1v1h-1zM149.5 61.4h1v1h-1zM168.6 61.4h1v1h-1zM187.6 61.4h1v1h-1zM207 61.4h1v1h-1zM225.4 61.4h1v1h-1zM244.5 61.4h1v1h-1zM149.5 85.9h1v1h-1zM168.6 85.9h1v1h-1zM187.6 85.9h1v1h-1zM207 85.9h1v1h-1zM225.4 85.9h1v1h-1zM244.5 85.9h1v1h-1zM149.5 110.5h1v1h-1zM168.6 110.5h1v1h-1zM187.6 110.5h1v1h-1zM207 110.5h1v1h-1zM225.4 110.5h1v1h-1zM244.5 110.5h1v1h-1zM149.5 135.4h1v1h-1zM168.6 135.4h1v1h-1zM187.6 135.4h1v1h-1zM207 135.4h1v1h-1zM225.4 135.4h1v1h-1zM244.5 135.4h1v1h-1zM149.8 159.6h0.5v0.8h-0.5zM168.8 159.6h0.5v0.8h-0.5zM187.9 159.6h0.5v0.8h-0.5zM207.2 159.6h0.5v0.8h-0.5zM225.7 159.6h0.5v0.8h-0.5zM244.8 159.6h0.5v0.8h-0.5zM269.9 17.4h1v1h-1zM289 17.4h1v1h-1zM308.1 17.4h1v1h-1zM327.5 17.4h1v1h-1zM346 17.4h1v1h-1zM365.1 17.4h1v1h-1zM269.9 61.4h1v1h-1zM289 61.4h1v1h-1zM308.1 61.4h1v1h-1zM327.5 61.4h1v1h-1zM346 61.4h1v1h-1zM365.1 61.4h1v1h-1zM269.9 85.9h1v1h-1zM289 85.9h1v1h-1zM308.1 85.9h1v1h-1zM327.5 85.9h1v1h-1zM346 85.9h1v1h-1zM365.1 85.9h1v1h-1zM269.9 110.5h1v1h-1zM289 110.5h1v1h-1zM308.1 110.5h1v1h-1zM327.5 110.5h1v1h-1zM346 110.5h1v1h-1zM365.1 110.5h1v1h-1zM269.9 135.4h1v1h-1zM289 135.4h1v1h-1zM308.1 135.4h1v1h-1zM327.5 135.4h1v1h-1zM346 135.4h1v1h-1zM365.1 135.4h1v1h-1zM270.1 159.6h0.5v0.8h-0.5zM289.3 159.6h0.5v0.8h-0.5zM308.4 159.6h0.5v0.8h-0.5zM327.8 159.6h0.5v0.8h-0.5zM346.3 159.6h0.5v0.8h-0.5zM365.4 159.6h0.5v0.8h-0.5zM389.9 17.4h1v1h-1zM409 17.4h1v1h-1zM428 17.4h1v1h-1zM447.4 17.4h1v1h-1zM465.8 17.4h1v1h-1zM484.9 17.4h1v1h-1zM389.9 61.4h1v1h-1zM409 61.4h1v1h-1zM428 61.4h1v1h-1zM447.4 61.4h1v1h-1zM465.8 61.4h1v1h-1zM484.9 61.4h1v1h-1zM389.9 85.9h1v1h-1zM409 85.9h1v1h-1zM428 85.9h1v1h-1zM447.4 85.9h1v1h-1zM465.8 85.9h1v1h-1zM484.9 85.9h1v1h-1zM389.9 110.5h1v1h-1zM409 110.5h1v1h-1zM428 110.5h1v1h-1zM447.4 110.5h1v1h-1zM465.8 110.5h1v1h-1zM484.9 110.5h1v1h-1zM389.9 135.4h1v1h-1zM409 135.4h1v1h-1zM428 135.4h1v1h-1zM447.4 135.4h1v1h-1zM465.8 135.4h1v1h-1zM484.9 135.4h1v1h-1zM390.1 159.6h0.5v0.8h-0.5zM409.2 159.6h0.5v0.8h-0.5zM428.3 159.6h0.5v0.8h-0.5zM447.6 159.6h0.5v0.8h-0.5zM466.1 159.6h0.5v0.8h-0.5zM485.1 159.6h0.5v0.8h-0.5zM24.1 189.6h1v1h-1zM43.8 189.6h1v1h-1zM63.5 189.6h1v1h-1zM83.5 189.6h1v1h-1zM102.6 189.6h1v1h-1zM122.3 189.6h1v1h-1zM24.1 233.6h1v1h-1zM43.8 233.6h1v1h-1zM63.5 233.6h1v1h-1zM83.5 233.6h1v1h-1zM102.6 233.6h1v1h-1zM122.3 233.6h1v1h-1zM24.1 258.1h1v1h-1zM43.8 258.1h1v1h-1zM63.5 258.1h1v1h-1zM83.5 258.1h1v1h-1zM102.6 258.1h1v1h-1zM122.3 258.1h1v1h-1zM24.1 282.7h1v1h-1zM43.8 282.7h1v1h-1zM63.5 282.7h1v1h-1zM83.5 282.7h1v1h-1zM102.6 282.7h1v1h-1zM122.3 282.7h1v1h-1zM24.1 307.6h1v1h-1zM43.8 307.6h1v1h-1zM63.5 307.6h1v1h-1zM83.5 307.6h1v1h-1zM102.6 307.6h1v1h-1zM122.3 307.6h1v1h-1zM24.4 331.8h0.5v0.8h-0.5zM44.1 331.8h0.5v0.8h-0.5zM63.8 331.8h0.5v0.8h-0.5zM83.8 331.8h0.5v0.8h-0.5zM102.8 331.8h0.5v0.8h-0.5zM122.5 331.8h0.5v0.8h-0.5zM149.5 189.6h1v1h-1zM168.6 189.6h1v1h-1zM187.6 189.6h1v1h-1zM207 189.6h1v1h-1zM225.4 189.6h1v1h-1zM244.5 189.6h1v1h-1zM149.5 233.6h1v1h-1zM168.6 233.6h1v1h-1zM187.6 233.6h1v1h-1zM207 233.6h1v1h-1zM225.4 233.6h1v1h-1zM244.5 233.6h1v1h-1zM149.5 258.1h1v1h-1zM168.6 258.1h1v1h-1zM187.6 258.1h1v1h-1zM207 258.1h1v1h-1zM225.4 258.1h1v1h-1zM244.5 258.1h1v1h-1zM149.5 282.7h1v1h-1zM168.6 282.7h1v1h-1zM187.6 282.7h1v1h-1zM207 282.7h1v1h-1zM225.4 282.7h1v1h-1zM244.5 282.7h1v1h-1zM149.5 307.6h1v1h-1zM168.6 307.6h1v1h-1zM187.6 307.6h1v1h-1zM207 307.6h1v1h-1zM225.4 307.6h1v1h-1zM244.5 307.6h1v1h-1zM149.8 331.8h0.5v0.8h-0.5zM168.8 331.8h0.5v0.8h-0.5zM187.9 331.8h0.5v0.8h-0.5zM207.2 331.8h0.5v0.8h-0.5zM225.7 331.8h0.5v0.8h-0.5zM244.8 331.8h0.5v0.8h-0.5zM269.9 189.6h1v1h-1zM289 189.6h1v1h-1zM308.1 189.6h1v1h-1zM327.5 189.6h1v1h-1zM346 189.6h1v1h-1zM365.1 189.6h1v1h-1zM269.9 233.6h1v1h-1zM289 233.6h1v1h-1zM308.1 233.6h1v1h-1zM327.5 233.6h1v1h-1zM346 233.6h1v1h-1zM365.1 233.6h1v1h-1zM269.9 258.1h1v1h-1zM289 258.1h1v1h-1zM308.1 258.1h1v1h-1zM327.5 258.1h1v1h-1zM346 258.1h1v1h-1zM365.1 258.1h1v1h-1zM269.9 282.7h1v1h-1zM289 282.7h1v1h-1zM308.1 282.7h1v1h-1zM327.5 282.7h1v1h-1zM346 282.7h1v1h-1zM365.1 282.7h1v1h-1zM269.9 307.6h1v1h-1zM289 307.6h1v1h-1zM308.1 307.6h1v1h-1zM327.5 307.6h1v1h-1zM346 307.6h1v1h-1zM365.1 307.6h1v1h-1zM270.1 331.8h0.5v0.8h-0.5zM289.3 331.8h0.5v0.8h-0.5zM308.4 331.8h0.5v0.8h-0.5zM327.8 331.8h0.5v0.8h-0.5zM346.3 331.8h0.5v0.8h-0.5zM365.4 331.8h0.5v0.8h-0.5zM389.9 189.6h1v1h-1zM409 189.6h1v1h-1zM428 189.6h1v1h-1zM447.4 189.6h1v1h-1zM465.8 189.6h1v1h-1zM484.9 189.6h1v1h-1zM389.9 233.6h1v1h-1zM409 233.6h1v1h-1zM428 233.6h1v1h-1zM447.4 233.6h1v1h-1zM465.8 233.6h1v1h-1zM484.9 233.6h1v1h-1zM389.9 258.1h1v1h-1zM409 258.1h1v1h-1zM428 258.1h1v1h-1zM447.4 258.1h1v1h-1zM465.8 258.1h1v1h-1zM484.9 258.1h1v1h-1zM389.9 282.7h1v1h-1zM409 282.7h1v1h-1zM428 282.7h1v1h-1zM447.4 282.7h1v1h-1zM465.8 282.7h1v1h-1zM484.9 282.7h1v1h-1zM389.9 307.6h1v1h-1zM409 307.6h1v1h-1zM428 307.6h1v1h-1zM447.4 307.6h1v1h-1zM465.8 307.6h1v1h-1zM484.9 307.6h1v1h-1zM390.1 331.8h0.5v0.8h-0.5zM409.2 331.8h0.5v0.8h-0.5zM428.3 331.8h0.5v0.8h-0.5zM447.6 331.8h0.5v0.8h-0.5zM466.1 331.8h0.5v0.8h-0.5zM485.1 331.8h0.5v0.8h-0.5zM24.1 358.1h1v1h-1zM43.8 358.1h1v1h-1zM63.5 358.1h1v1h-1zM83.5 358.1h1v1h-1zM102.6 358.1h1v1h-1zM122.3 358.1h1v1h-1zM24.1 402.1h1v1h-1zM43.8 402.1h1v1h-1zM63.5 402.1h1v1h-1zM83.5 402.1h1v1h-1zM102.6 402.1h1v1h-1zM122.3 402.1h1v1h-1zM24.1 426.6h1v1h-1zM43.8 426.6h1v1h-1zM63.5 426.6h1v1h-1zM83.5 426.6h1v1h-1zM102.6 426.6h1v1h-1zM122.3 426.6h1v1h-1zM24.1 451.2h1v1h-1zM43.8 451.2h1v1h-1zM63.5 451.2h1v1h-1zM83.5 451.2h1v1h-1zM102.6 451.2h1v1h-1zM122.3 451.2h1v1h-1zM24.1 476.1h1v1h-1zM43.8 476.1h1v1h-1zM63.5 476.1h1v1h-1zM83.5 476.1h1v1h-1zM102.6 476.1h1v1h-1zM122.3 476.1h1v1h-1zM24.4 500.3h0.5v0.8h-0.5zM44.1 500.3h0.5v0.8h-0.5zM63.8 500.3h0.5v0.8h-0.5zM83.8 500.3h0.5v0.8h-0.5zM102.8 500.3h0.5v0.8h-0.5zM122.5 500.3h0.5v0.8h-0.5zM149.5 358.1h1v1h-1zM168.6 358.1h1v1h-1zM187.6 358.1h1v1h-1zM207 358.1h1v1h-1zM225.4 358.1h1v1h-1zM244.5 358.1h1v1h-1zM149.5 402.1h1v1h-1zM168.6 402.1h1v1h-1zM187.6 402.1h1v1h-1zM207 402.1h1v1h-1zM225.4 402.1h1v1h-1zM244.5 402.1h1v1h-1zM149.5 426.6h1v1h-1zM168.6 426.6h1v1h-1zM187.6 426.6h1v1h-1zM207 426.6h1v1h-1zM225.4 426.6h1v1h-1zM244.5 426.6h1v1h-1zM149.5 451.2h1v1h-1zM168.6 451.2h1v1h-1zM187.6 451.2h1v1h-1zM207 451.2h1v1h-1zM225.4 451.2h1v1h-1zM244.5 451.2h1v1h-1zM149.5 476.1h1v1h-1zM168.6 476.1h1v1h-1zM187.6 476.1h1v1h-1zM207 476.1h1v1h-1zM225.4 476.1h1v1h-1zM244.5 476.1h1v1h-1zM149.8 500.3h0.5v0.8h-0.5zM168.8 500.3h0.5v0.8h-0.5zM187.9 500.3h0.5v0.8h-0.5zM207.2 500.3h0.5v0.8h-0.5zM225.7 500.3h0.5v0.8h-0.5zM244.8 500.3h0.5v0.8h-0.5zM269.9 358.1h1v1h-1zM289 358.1h1v1h-1zM308.1 358.1h1v1h-1zM327.5 358.1h1v1h-1zM346 358.1h1v1h-1zM365.1 358.1h1v1h-1zM269.9 402.1h1v1h-1zM289 402.1h1v1h-1zM308.1 402.1h1v1h-1zM327.5 402.1h1v1h-1zM346 402.1h1v1h-1zM365.1 402.1h1v1h-1zM269.9 426.6h1v1h-1zM289 426.6h1v1h-1zM308.1 426.6h1v1h-1zM327.5 426.6h1v1h-1zM346 426.6h1v1h-1zM365.1 426.6h1v1h-1zM269.9 451.2h1v1h-1zM289 451.2h1v1h-1zM308.1 451.2h1v1h-1zM327.5 451.2h1v1h-1zM346 451.2h1v1h-1zM365.1 451.2h1v1h-1zM269.9 476.1h1v1h-1zM289 476.1h1v1h-1zM308.1 476.1h1v1h-1zM327.5 476.1h1v1h-1zM346 476.1h1v1h-1zM365.1 476.1h1v1h-1zM270.1 500.3h0.5v0.8h-0.5zM289.3 500.3h0.5v0.8h-0.5zM308.4 500.3h0.5v0.8h-0.5zM327.8 500.3h0.5v0.8h-0.5zM346.3 500.3h0.5v0.8h-0.5zM365.4 500.3h0.5v0.8h-0.5zM389.9 358.1h1v1h-1zM409 358.1h1v1h-1zM428 358.1h1v1h-1zM447.4 358.1h1v1h-1zM465.8 358.1h1v1h-1zM484.9 358.1h1v1h-1zM389.9 402.1h1v1h-1zM409 402.1h1v1h-1zM428 402.1h1v1h-1zM447.4 402.1h1v1h-1zM465.8 402.1h1v1h-1zM484.9 402.1h1v1h-1zM389.9 426.6h1v1h-1zM409 426.6h1v1h-1zM428 426.6h1v1h-1zM447.4 426.6h1v1h-1zM465.8 426.6h1v1h-1zM484.9 426.6h1v1h-1zM389.9 451.2h1v1h-1zM409 451.2h1v1h-1zM428 451.2h1v1h-1zM447.4 451.2h1v1h-1zM465.8 451.2h1v1h-1zM484.9 451.2h1v1h-1zM389.9 476.1h1v1h-1zM409 476.1h1v1h-1zM428 476.1h1v1h-1zM447.4 476.1h1v1h-1zM465.8 476.1h1v1h-1zM484.9 476.1h1v1h-1zM390.1 500.3h0.5v0.8h-0.5zM409.2 500.3h0.5v0.8h-0.5zM428.3 500.3h0.5v0.8h-0.5zM447.6 500.3h0.5v0.8h-0.5zM466.1 500.3h0.5v0.8h-0.5zM485.1 500.3h0.5v0.8h-0.5z"/>
<path fill="none" stroke="#999" stroke-width="0.5" d="M22.3 159.6L132.5 159.6M147.6 159.6L254.4 159.6M268.6 159.6L374.3 159.6M388.5 159.6L494.3 159.6M22.3 331.8L132.5 331.8M147.6 331.8L254.4 331.8M268.6 331.8L374.3 331.8M388.5 331.8L494.3 331.8M22.3 500.3L132.5 500.3M147.6 500.3L254.4 500.3M268.6 500.3L374.3 500.3M388.5 500.3L494.3 500.3"/>
<path fill="none" stroke="#888" stroke-width="0.7" d="M22.3 12.9L22.3 159.6M147.6 12.9L147.6 159.6M268.6 12.9L268.6 159.6M388.5 12.9L388.5 159.6M22.3 185.1L22.3 331.8M147.6 185.1L147.6 331.8M268.6 185.1L268.6 331.8M388.5 185.1L388.5 331.8M22.3 353.6L22.3 500.3M147.6 353.6L147.6 500.3M268.6 353.6L268.6 500.3M388.5 353.6L388.5 500.3"/>
<path fill="none" stroke="#888" stroke-width="0.6" d="M132.5 12.9L132.5 159.6M254.4 12.9L254.4 159.6M374.3 12.9L374.3 159.6M494.3 12.9L494.3 159.6M132.5 185.1L132.5 331.8M254.4 185.1L254.4 331.8M374.3 185.1L374.3 331.8M494.3 185.1L494.3 331.8M132.5 353.6L132.5 500.3M254.4 353.6L254.4 500.3M374.3 353.6L374.3 500.3M494.3 353.6L494.3 500.3"/>
<path fill="#333" d="M21.2 55.7h1.1v0.9h-1.1zM21.2 50.4h1.1v0.9h-1.1zM21.2 45.1h1.1v0.9h-1.1zM21.2 39.8h1.1v0.9h-1.1zM21.2 34.5h1.1v0.9h-1.1zM21.2 29.2h1.1v0.9h-1.1zM21.2 23.9h1.1v0.9h-1.1zM21.2 82.8h1.1v0.9h-1.1zM21.2 79h1.1v0.9h-1.1zM21.2 75.2h1.1v0.9h-1.1zM21.2 71.4h1.1v0.9h-1.1zM21.2 67.6h1.1v0.9h-1.1zM21.2 63.8h1.1v0.9h-1.1zM21.2 107.8h1.1v0.9h-1.1zM21.2 103.9h1.1v0.9h-1.1zM21.2 100h1.1v0.9h-1.1zM21.2 96.1h1.1v0.9h-1.1zM21.2 92.1h1.1v0.9h-1.1zM21.2 88.2h1.1v0.9h-1.1zM21.2 132.9h1.1v0.9h-1.1zM21.2 129h1.1v0.9h-1.1zM21.2 125.1h1.1v0.9h-1.1zM21.2 121.2h1.1v0.9h-1.1zM21.2 117.3h1.1v0.9h-1.1zM21.2 113.4h1.1v0.9h-1.1zM21.2 156.6h1.1v0.9h-1.1zM21.2 151.9h1.1v0.9h-1.1zM21.2 147.1h1.1v0.9h-1.1zM21.2 142.4h1.1v0.9h-1.1zM21.2 137.6h1.1v0.9h-1.1zM146.5 55.7h1.1v0.9h-1.1zM146.5 50.4h1.1v0.9h-1.1zM146.5 45.1h1.1v0.9h-1.1zM146.5 39.8h1.1v0.9h-1.1zM146.5 34.5h1.1v0.9h-1.1zM146.5 29.2h1.1v0.9h-1.1zM146.5 23.9h1.1v0.9h-1.1zM146.5 82.8h1.1v0.9h-1.1zM146.5 79h1.1v0.9h-1.1zM146.5 75.2h1.1v0.9h-1.1zM146.5 71.4h1.1v0.9h-1.1zM146.5 67.6h1.1v0.9h-1.1zM146.5 63.8h1.1v0.9h-1.1zM146.5 107.8h1.1v0.9h-1.1zM146.5 103.9h1.1v0.9h-1.1zM146.5 100h1.1v0.9h-1.1zM146.5 96.1h1.1v0.9h-1.1zM146.5 92.1h1.1v0.9h-1.1zM146.5 88.2h1.1v0.9h-1.1zM146.5 132.9h1.1v0.9h-1.1zM146.5 129h1.1v0.9h-1.1zM146.5 125.1h1.1v0.9h-1.1zM146.5 121.2h1.1v0.9h-1.1zM146.5 117.3h1.1v0.9h-1.1zM146.5 113.4h1.1v0.9h-1.1zM146.5 156.6h1.1v0.9h-1.1zM146.5 151.9h1.1v0.9h-1.1zM146.5 147.1h1.1v0.9h-1.1zM146.5 142.4h1.1v0.9h-1.1zM146.5 137.6h1.1v0.9h-1.1zM267.5 55.7h1.1v0.9h-1.1zM267.5 50.4h1.1v0.9h-1.1zM267.5 45.1h1.1v0.9h-1.1zM267.5 39.8h1.1v0.9h-1.1zM267.5 34.5h1.1v0.9h-1.1zM267.5 29.2h1.1v0.9h-1.1zM267.5 23.9h1.1v0.9h-1.1zM267.5 82.8h1.1v0.9h-1.1zM267.5 79h1.1v0.9h-1.1zM267.5 75.2h1.1v0.9h-1.1zM267.5 71.4h1.1v0.9h-1.1zM267.5 67.6h1.1v0.9h-1.1zM267.5 63.8h1.1v0.9h-1.1zM267.5 107.8h1.1v0.9h-1.1zM267.5 103.9h1.1v0.9h-1.1zM267.5 100h1.1v0.9h-1.1zM267.5 96.1h1.1v0.9h-1.1zM267.5 92.1h1.1v0.9h-1.1zM267.5 88.2h1.1v0.9h-1.1zM267.5 132.9h1.1v0.9h-1.1zM267.5 129h1.1v0.9h-1.1zM267.5 125.1h1.1v0.9h-1.1zM267.5 121.2h1.1v0.9h-1.1zM267.5 117.3h1.1v0.9h-1.1zM267.5 113.4h1.1v0.9h-1.1zM267.5 156.6h1.1v0.9h-1.1zM267.5 151.9h1.1v0.9h-1.1zM267.5 147.1h1.1v0.9h-1.1zM267.5 142.4h1.1v0.9h-1.1zM267.5 137.6h1.1v0.9h-1.1zM387.4 55.7h1.1v0.9h-1.1zM387.4 50.4h1.1v0.9h-1.1zM387.4 45.1h1.1v0.9h-1.1zM387.4 39.8h1.1v0.9h-1.1zM387.4 34.5h1.1v0.9h-1.1zM387.4 29.2h1.1v0.9h-1.1zM387.4 23.9h1.1v0.9h-1.1zM387.4 82.8h1.1v0.9h-1.1zM387.4 79h1.1v0.9h-1.1zM387.4 75.2h1.1v0.9h-1.1zM387.4 71.4h1.1v0.9h-1.1zM387.4 67.6h1.1v0.9h-1.1zM387.4 63.8h1.1v0.9h-1.1zM387.4 107.8h1.1v0.9h-1.1zM387.4 103.9h1.1v0.9h-1.1zM387.4 100h1.1v0.9h-1.1zM387.4 96.1h1.1v0.9h-1.1zM387.4 92.1h1.1v0.9h-1.1zM387.4 88.2h1.1v0.9h-1.1zM387.4 132.9h1.1v0.9h-1.1zM387.4 129h1.1v0.9h-1.1zM387.4 125.1h1.1v0.9h-1.1zM387.4 121.2h1.1v0.9h-1.1zM387.4 117.3h1.1v0.9h-1.1zM387.4 113.4h1.1v0.9h-1.1zM387.4 156.6h1.1v0.9h-1.1zM387.4 151.9h1.1v0.9h-1.1zM387.4 147.1h1.1v0.9h-1.1zM387.4 142.4h1.1v0.9h-1.1zM387.4 137.6h1.1v0.9h-1.1zM21.2 227.9h1.1v0.9h-1.1zM21.2 222.6h1.1v0.9h-1.1zM21.2 217.3h1.1v0.9h-1.1zM21.2 212h1.1v0.9h-1.1zM21.2 206.7h1.1v0.9h-1.1zM21.2 201.4h1.1v0.9h-1.1zM21.2 196.2h1.1v0.9h-1.1zM21.2 255.1h1.1v0.9h-1.1zM21.2 251.2h1.1v0.9h-1.1zM21.2 247.4h1.1v0.9h-1.1zM21.2 243.6h1.1v0.9h-1.1zM21.2 239.8h1.1v0.9h-1.1zM21.2 236.1h1.1v0.9h-1.1zM21.2 280h1.1v0.9h-1.1zM21.2 276.1h1.1v0.9h-1.1zM21.2 272.2h1.1v0.9h-1.1zM21.2 268.3h1.1v0.9h-1.1zM21.2 264.3h1.1v0.9h-1.1zM21.2 260.4h1.1v0.9h-1.1zM21.2 305.1h1.1v0.9h-1.1zM21.2 301.2h1.1v0.9h-1.1zM21.2 297.2h1.1v0.9h-1.1zM21.2 293.4h1.1v0.9h-1.1zM21.2 289.4h1.1v0.9h-1.1zM21.2 285.6h1.1v0.9h-1.1zM21.2 328.8h1.1v0.9h-1.1zM21.2 324.1h1.1v0.9h-1.1zM21.2 319.3h1.1v0.9h-1.1zM21.2 314.6h1.1v0.9h-1.1zM21.2 309.8h1.1v0.9h-1.1zM146.5 227.9h1.1v0.9h-1.1zM146.5 222.6h1.1v0.9h-1.1zM146.5 217.3h1.1v0.9h-1.1zM146.5 212h1.1v0.9h-1.1zM146.5 206.7h1.1v0.9h-1.1zM146.5 201.4h1.1v0.9h-1.1zM146.5 196.2h1.1v0.9h-1.1zM146.5 255.1h1.1v0.9h-1.1zM146.5 251.2h1.1v0.9h-1.1zM146.5 247.4h1.1v0.9h-1.1zM146.5 243.6h1.1v0.9h-1.1zM146.5 239.8h1.1v0.9h-1.1zM146.5 236.1h1.1v0.9h-1.1zM146.5 280h1.1v0.9h-1.1zM146.5 276.1h1.1v0.9h-1.1zM146.5 272.2h1.1v0.9h-1.1zM146.5 268.3h1.1v0.9h-1.1zM146.5 264.3h1.1v0.9h-1.1zM146.5 260.4h1.1v0.9h-1.1zM146.5 305.1h1.1v0.9h-1.1zM146.5 301.2h1.1v0.9h-1.1zM146.5 297.2h1.1v0.9h-1.1zM146.5 293.4h1.1v0.9h-1.1zM146.5 289.4h1.1v0.9h-1.1zM146.5 285.6h1.1v0.9h-1.1zM146.5 328.8h1.1v0.9h-1.1zM146.5 324.1h1.1v0.9h-1.1zM146.5 319.3h1.1v0.9h-1.1zM146.5 314.6h1.1v0.9h-1.1zM146.5 309.8h1.1v0.9h-1.1zM267.5 227.9h1.1v0.9h-1.1zM267.5 222.6h1.1v0.9h-1.1zM267.5 217.3h1.1v0.9h-1.1zM267.5 212h1.1v0.9h-1.1zM267.5 206.7h1.1v0.9h-1.1zM267.5 201.4h1.1v0.9h-1.1zM267.5 196.2h1.1v0.9h-1.1zM267.5 255.1h1.1v0.9h-1.1zM267.5 251.2h1.1v0.9h-1.1zM267.5 247.4h1.1v0.9h-1.1zM267.5 243.6h1.1v0.9h-1.1zM267.5 239.8h1.1v0.9h-1.1zM267.5 236.1h1.1v0.9h-1.1zM267.5 280h1.1v0.9h-1.1zM267.5 276.1h1.1v0.9h-1.1zM267.5 272.2h1.1v0.9h-1.1zM267.5 268.3h1.1v0.9h-1.1zM267.5 264.3h1.1v0.9h-1.1zM267.5 260.4h1.1v0.9h-1.1zM267.5 305.1h1.1v0.9h-1.1zM267.5 301.2h1.1v0.9h-1.1zM267.5 297.2h1.1v0.9h-1.1zM267.5 293.4h1.1v0.9h-1.1zM267.5 289.4h1.1v0.9h-1.1zM267.5 285.6h1.1v0.9h-1.1zM267.5 328.8h1.1v0.9h-1.1zM267.5 324.1h1.1v0.9h-1.1zM267.5 319.3h1.1v0.9h-1.1zM267.5 314.6h1.1v0.9h-1.1zM267.5 309.8h1.1v0.9h-1.1zM387.4 227.9h1.1v0.9h-1.1zM387.4 222.6h1.1v0.9h-1.1zM387.4 217.3h1.1v0.9h-1.1zM387.4 212h1.1v0.9h-1.1zM387.4 206.7h1.1v0.9h-1.1zM387.4 201.4h1.1v0.9h-1.1zM387.4 196.2h1.1v0.9h-1.1zM387.4 255.1h1.1v0.9h-1.1zM387.4 251.2h1.1v0.9h-1.1zM387.4 247.4h1.1v0.9h-1.1zM387.4 243.6h1.1v0.9h-1.1zM387.4 239.8h1.1v0.9h-1.1zM387.4 236.1h1.1v0.9h-1.1zM387.4 280h1.1v0.9h-1.1zM387.4 276.1h1.1v0.9h-1.1zM387.4 272.2h1.1v0.9h-1.1zM387.4 268.3h1.1v0.9h-1.1zM387.4 264.3h1.1v0.9h-1.1zM387.4 260.4h1.1v0.9h-1.1zM387.4 305.1h1.1v0.9h-1.1zM387.4 301.2h1.1v0.9h-1.1zM387.4 297.2h1.1v0.9h-1.1zM387.4 293.4h1.1v0.9h-1.1zM387.4 289.4h1.1v0.9h-1.1zM387.4 285.6h1.1v0.9h-1.1zM387.4 328.8h1.1v0.9h-1.1zM387.4 324.1h1.1v0.9h-1.1zM387.4 319.3h1.1v0.9h-1.1zM387.4 314.6h1.1v0.9h-1.1zM387.4 309.8h1.1v0.9h-1.1zM21.2 396.4h1.1v0.9h-1.1zM21.2 391.1h1.1v0.9h-1.1zM21.2 385.8h1.1v0.9h-1.1zM21.2 380.5h1.1v0.9h-1.1zM21.2 375.2h1.1v0.9h-1.1zM21.2 369.9h1.1v0.9h-1.1zM21.2 364.6h1.1v0.9h-1.1zM21.2 423.6h1.1v0.9h-1.1zM21.2 419.8h1.1v0.9h-1.1zM21.2 415.9h1.1v0.9h-1.1zM21.2 412.1h1.1v0.9h-1.1zM21.2 408.3h1.1v0.9h-1.1zM21.2 404.6h1.1v0.9h-1.1zM21.2 448.5h1.1v0.9h-1.1zM21.2 444.6h1.1v0.9h-1.1zM21.2 440.7h1.1v0.9h-1.1zM21.2 436.8h1.1v0.9h-1.1zM21.2 432.8h1.1v0.9h-1.1zM21.2 428.9h1.1v0.9h-1.1zM21.2 473.6h1.1v0.9h-1.1zM21.2 469.7h1.1v0.9h-1.1zM21.2 465.8h1.1v0.9h-1.1zM21.2 461.9h1.1v0.9h-1.1zM21.2 457.9h1.1v0.9h-1.1zM21.2 454.1h1.1v0.9h-1.1zM21.2 497.3h1.1v0.9h-1.1zM21.2 492.6h1.1v0.9h-1.1zM21.2 487.8h1.1v0.9h-1.1zM21.2 483.1h1.1v0.9h-1.1zM21.2 478.3h1.1v0.9h-1.1zM146.5 396.4h1.1v0.9h-1.1zM146.5 391.1h1.1v0.9h-1.1zM146.5 385.8h1.1v0.9h-1.1zM146.5 380.5h1.1v0.9h-1.1zM146.5 375.2h1.1v0.9h-1.1zM146.5 369.9h1.1v0.9h-1.1zM146.5 364.6h1.1v0.9h-1.1zM146.5 423.6h1.1v0.9h-1.1zM146.5 419.8h1.1v0.9h-1.1zM146.5 415.9h1.1v0.9h-1.1zM146.5 412.1h1.1v0.9h-1.1zM146.5 408.3h1.1v0.9h-1.1zM146.5 404.6h1.1v0.9h-1.1zM146.5 448.5h1.1v0.9h-1.1zM146.5 444.6h1.1v0.9h-1.1zM146.5 440.7h1.1v0.9h-1.1zM146.5 436.8h1.1v0.9h-1.1zM146.5 432.8h1.1v0.9h-1.1zM146.5 428.9h1.1v0.9h-1.1zM146.5 473.6h1.1v0.9h-1.1zM146.5 469.7h1.1v0.9h-1.1zM146.5 465.8h1.1v0.9h-1.1zM146.5 461.9h1.1v0.9h-1.1zM146.5 457.9h1.1v0.9h-1.1zM146.5 454.1h1.1v0.9h-1.1zM146.5 497.3h1.1v0.9h-1.1zM146.5 492.6h1.1v0.9h-1.1zM146.5 487.8h1.1v0.9h-1.1zM146.5 483.1h1.1v0.9h-1.1zM146.5 478.3h1.1v0.9h-1.1zM267.5 396.4h1.1v0.9h-1.1zM267.5 391.1h1.1v0.9h-1.1zM267.5 385.8h1.1v0.9h-1.1zM267.5 380.5h1.1v0.9h-1.1zM267.5 375.2h1.1v0.9h-1.1zM267.5 369.9h1.1v0.9h-1.1zM267.5 364.6h1.1v0.9h-1.1zM267.5 423.6h1.1v0.9h-1.1zM267.5 419.8h1.1v0.9h-1.1zM267.5 415.9h1.1v0.9h-1.1zM267.5 412.1h1.1v0.9h-1.1zM267.5 408.3h1.1v0.9h-1.1zM267.5 404.6h1.1v0.9h-1.1zM267.5 448.5h1.1v0.9h-1.1zM267.5 444.6h1.1v0.9h-1.1zM267.5 440.7h1.1v0.9h-1.1zM267.5 436.8h1.1v0.9h-1.1zM267.5 432.8h1.1v0.9h-1.1zM267.5 428.9h1.1v0.9h-1.1zM267.5 473.6h1.1v0.9h-1.1zM267.5 469.7h1.1v0.9h-1.1zM267.5 465.8h1.1v0.9h-1.1zM267.5 461.9h1.1v0.9h-1.1zM267.5 457.9h1.1v0.9h-1.1zM267.5 454.1h1.1v0.9h-1.1zM267.5 497.3h1.1v0.9h-1.1zM267.5 492.6h1.1v0.9h-1.1zM267.5 487.8h1.1v0.9h-1.1zM267.5 483.1h1.1v0.9h-1.1zM267.5 478.3h1.1v0.9h-1.1zM387.4 396.4h1.1v0.9h-1.1zM387.4 391.1h1.1v0.9h-1.1zM387.4 385.8h1.1v0.9h-1.1zM387.4 380.5h1.1v0.9h-1.1zM387.4 375.2h1.1v0.9h-1.1zM387.4 369.9h1.1v0.9h-1.1zM387.4 364.6h1.1v0.9h-1.1zM387.4 423.6h1.1v0.9h-1.1zM387.4 419.8h1.1v0.9h-1.1zM387.4 415.9h1.1v0.9h-1.1zM387.4 412.1h1.1v0.9h-1.1zM387.4 408.3h1.1v0.9h-1.1zM387.4 404.6h1.1v0.9h-1.1zM387.4 448.5h1.1v0.9h-1.1zM387.4 444.6h1.1v0.9h-1.1zM387.4 440.7h1.1v0.9h-1.1zM387.4 436.8h1.1v0.9h-1.1zM387.4 432.8h1.1v0.9h-1.1zM387.4 428.9h1.1v0.9h-1.1zM387.4 473.6h1.1v0.9h-1.1zM387.4 469.7h1.1v0.9h-1.1zM387.4 465.8h1.1v0.9h-1.1zM387.4 461.9h1.1v0.9h-1.1zM387.4 457.9h1.1v0.9h-1.1zM387.4 454.1h1.1v0.9h-1.1zM387.4 497.3h1.1v0.9h-1.1zM387.4 492.6h1.1v0.9h-1.1zM387.4 487.8h1.1v0.9h-1.1zM387.4 483.1h1.1v0.9h-1.1zM387.4 478.3h1.1v0.9h-1.1z"/>
<rect x="23.3" y="41.6" width="29.5" height="17.2" fill="#fff" fill-opacity="0.85" stroke="#ccc" stroke-width="0.4" rx="0.8"/>
<path d="M25.3 44.5h8" stroke="#2442ff" stroke-width="0.8"/>
<path d="M29.3 48v4M29.3 53.5v4M28.7 48h1.2M28.7 52h1.2M28.7 53.5h1.2M28.7 57.5h1.2" stroke="#111" stroke-width="0.45"/>
<rect x="28.9" y="49.5" width="0.9" height="0.9" fill="#111"/>
<rect x="28.7" y="54.9" width="1.2" height="1.2" fill="#e33"/>
<path d="M25.3 67.1h8" stroke="#f9cf8f" stroke-width="1.3"/>
<rect x="25.3" y="71.2" width="8" height="2.4" fill="#7a7a7a"/>
<rect x="28.8" y="77.6" width="1" height="1" fill="#111"/>
<path d="M25.3 99.4h7.6" stroke="#333" stroke-width="0.5"/>
<path d="M25.3 104.3h7.6" stroke="#3fa33f" stroke-width="0.6"/>
<path d="M25.3 123.3h7.6" stroke="#333" stroke-width="0.45" stroke-dasharray="1,0.8"/>
<path d="M25.3 129.2h7.6" stroke="#222" stroke-width="0.45"/>
<g class="k" transform="scale(0.87,1)" font-size="5.1" font-weight="bold" text-anchor="middle"><text x="88.97" y="8.4">Resolute 2007-08</text><text x="231.03" y="8.4">Resolute 2008-09</text><text x="369.48" y="8.4">Resolute 2009-10</text><text x="507.36" y="8.4">Resolute 2010-11</text><text x="88.97" y="350">Cambridge Bay 2007-08</text><text x="231.03" y="350">Cambridge Bay 2008-09</text><text x="369.48" y="350">Cambridge Bay 2009-10</text><text x="507.36" y="350">Cambridge Bay 2010-11</text></g>
<g font-size="3.4" fill="#444"><text x="23.6" y="16.5">State:</text><text x="148.9" y="16.5">State:</text><text x="269.9" y="16.5">State:</text><text x="389.8" y="16.5">State:</text><text x="23.6" y="188.7">State:</text><text x="148.9" y="188.7">State:</text><text x="269.9" y="188.7">State:</text><text x="389.8" y="188.7">State:</text><text x="23.6" y="357.2">State:</text><text x="148.9" y="357.2">State:</text><text x="269.9" y="357.2">State:</text><text x="389.8" y="357.2">State:</text></g>
<g font-size="3.6" fill="#222" text-anchor="middle"><text x="67.15" y="16.6">1</text><text x="94.75" y="16.6">2</text><text x="123.5" y="16.6">1</text><text x="174.44" y="16.6">1</text><text x="200.2" y="16.6">2</text><text x="218.6" y="16.6">1</text><text x="243.9" y="16.6">3</text><text x="290.3" y="16.6">2</text><text x="311" y="16.6">1</text><text x="334" y="16.6">2</text><text x="352.4" y="16.6">1</text><text x="363.9" y="16.6">3</text><text x="427.55" y="16.6">1</text><text x="445.95" y="16.6">2</text><text x="460.9" y="16.6">1</text><text x="481.6" y="16.6">2</text><text x="49.44" y="188.8">1</text><text x="54.5" y="188.8">2</text><text x="60.94" y="188.8">1</text><text x="73.36" y="188.8">1</text><text x="84.4" y="188.8">2</text><text x="107.4" y="188.8">1</text><text x="119.36" y="188.8">2</text><text x="126.95" y="188.8">3</text><text x="170.3" y="188.8">1</text><text x="177.89" y="188.8">2</text><text x="185.25" y="188.8">1</text><text x="192.84" y="188.8">2</text><text x="201.35" y="188.8">1</text><text x="214" y="188.8">2</text><text x="242.75" y="188.8">3</text><text x="306.4" y="188.8">1</text><text x="328.71" y="188.8">2</text><text x="332.16" y="188.8">1</text><text x="336.3" y="188.8">2</text><text x="343.2" y="188.8">1</text><text x="354.7" y="188.8">2</text><text x="363.9" y="188.8">3</text><text x="421.8" y="188.8">1</text><text x="445.95" y="188.8">2</text><text x="462.74" y="188.8">1</text><text x="469.41" y="188.8">2</text><text x="477" y="188.8">1</text><text x="483.9" y="188.8">3</text><text x="59.1" y="357.3">1</text><text x="79.34" y="357.3">2</text><text x="86.7" y="357.3">1</text><text x="107.4" y="357.3">2</text><text x="123.96" y="357.3">3</text><text x="187.55" y="357.3">1</text><text x="204.57" y="357.3">2</text><text x="214" y="357.3">1</text><text x="232.4" y="357.3">2</text><text x="244.36" y="357.3">3</text><text x="290.07" y="357.3">0</text><text x="293.98" y="357.3">2</text><text x="301.8" y="357.3">1</text><text x="309.16" y="357.3">2</text><text x="312.61" y="357.3">2</text><text x="316.06" y="357.3">1</text><text x="330.55" y="357.3">2</text><text x="342.74" y="357.3">1</text><text x="352.4" y="357.3">2</text><text x="365.05" y="357.3">3</text><text x="413.75" y="357.3">0</text><text x="424.56" y="357.3">1</text><text x="435.14" y="357.3">2</text><text x="449.4" y="357.3">1</text><text x="470.1" y="357.3">2</text><text x="486.2" y="357.3">3</text></g>
<g class="k" transform="scale(0.93,1)" font-size="4.6" text-anchor="end"><text x="124.95" y="44.9">Overlap:</text><text x="140.32" y="44.9">68.6</text><text x="124.95" y="48.7">MAPE:</text><text x="140.32" y="48.7">15.1</text><text x="124.95" y="52.5">RMSE:</text><text x="140.32" y="52.5">59.2</text><text x="124.95" y="56.3">Bias:</text><text x="140.32" y="56.3">8.1</text><text x="124.95" y="60.1">Corr.:</text><text x="140.32" y="60.1">0.225</text><text x="256.02" y="44.9">Overlap:</text><text x="271.4" y="44.9">50.8</text><text x="256.02" y="48.7">MAPE:</text><text x="271.4" y="48.7">21.4</text><text x="256.02" y="52.5">RMSE:</text><text x="271.4" y="52.5">74.9</text><text x="256.02" y="56.3">Bias:</text><text x="271.4" y="56.3">59.3</text><text x="256.02" y="60.1">Corr.:</text><text x="271.4" y="60.1">0.356</text><text x="384.95" y="44.9">Overlap:</text><text x="400.32" y="44.9">54.5</text><text x="384.95" y="48.7">MAPE:</text><text x="400.32" y="48.7">19.8</text><text x="384.95" y="52.5">RMSE:</text><text x="400.32" y="52.5">82.6</text><text x="384.95" y="56.3">Bias:</text><text x="400.32" y="56.3">75.3</text><text x="384.95" y="60.1">Corr.:</text><text x="400.32" y="60.1">0.180</text><text x="513.98" y="44.9">Overlap:</text><text x="529.35" y="44.9">36.5</text><text x="513.98" y="48.7">MAPE:</text><text x="529.35" y="48.7">52.5</text><text x="513.98" y="52.5">RMSE:</text><text x="529.35" y="52.5">96.9</text><text x="513.98" y="56.3">Bias:</text><text x="529.35" y="56.3">81.3</text><text x="513.98" y="60.1">Corr.:</text><text x="529.35" y="60.1">−0.435</text><text x="124.95" y="217.1">Overlap:</text><text x="140.32" y="217.1">42.7</text><text x="124.95" y="220.9">MAPE:</text><text x="140.32" y="220.9">9.8</text><text x="124.95" y="224.7">RMSE:</text><text x="140.32" y="224.7">49.8</text><text x="124.95" y="228.5">Bias:</text><text x="140.32" y="228.5">−29.1</text><text x="124.95" y="232.3">Corr.:</text><text x="140.32" y="232.3">0.135</text><text x="256.02" y="217.1">Overlap:</text><text x="271.4" y="217.1">34.5</text><text x="256.02" y="220.9">MAPE:</text><text x="271.4" y="220.9">19.5</text><text x="256.02" y="224.7">RMSE:</text><text x="271.4" y="224.7">81.4</text><text x="256.02" y="228.5">Bias:</text><text x="271.4" y="228.5">66.9</text><text x="256.02" y="232.3">Corr.:</text><text x="271.4" y="232.3">−0.382</text><text x="384.95" y="217.1">Overlap:</text><text x="400.32" y="217.1">18.7</text><text x="384.95" y="220.9">MAPE:</text><text x="400.32" y="220.9">30.4</text><text x="384.95" y="224.7">RMSE:</text><text x="400.32" y="224.7">89.9</text><text x="384.95" y="228.5">Bias:</text><text x="400.32" y="228.5">68.3</text><text x="384.95" y="232.3">Corr.:</text><text x="400.32" y="232.3">−0.442</text><text x="513.98" y="217.1">Overlap:</text><text x="529.35" y="217.1">39.6</text><text x="513.98" y="220.9">MAPE:</text><text x="529.35" y="220.9">33.0</text><text x="513.98" y="224.7">RMSE:</text><text x="529.35" y="224.7">101.5</text><text x="513.98" y="228.5">Bias:</text><text x="529.35" y="228.5">50.5</text><text x="513.98" y="232.3">Corr.:</text><text x="529.35" y="232.3">−0.308</text><text x="124.95" y="385.6">Overlap:</text><text x="140.32" y="385.6">47.8</text><text x="124.95" y="389.4">MAPE:</text><text x="140.32" y="389.4">13.2</text><text x="124.95" y="393.2">RMSE:</text><text x="140.32" y="393.2">55.4</text><text x="124.95" y="397">Bias:</text><text x="140.32" y="397">15.6</text><text x="124.95" y="400.8">Corr.:</text><text x="140.32" y="400.8">−0.097</text><text x="256.02" y="385.6">Overlap:</text><text x="271.4" y="385.6">61.4</text><text x="256.02" y="389.4">MAPE:</text><text x="271.4" y="389.4">15.3</text><text x="256.02" y="393.2">RMSE:</text><text x="271.4" y="393.2">73.5</text><text x="256.02" y="397">Bias:</text><text x="271.4" y="397">59.2</text><text x="256.02" y="400.8">Corr.:</text><text x="271.4" y="400.8">−0.298</text><text x="384.95" y="385.6">Overlap:</text><text x="400.32" y="385.6">3.3</text><text x="384.95" y="389.4">MAPE:</text><text x="400.32" y="389.4">36.2</text><text x="384.95" y="393.2">RMSE:</text><text x="400.32" y="393.2">113.3</text><text x="384.95" y="397">Bias:</text><text x="400.32" y="397">104.2</text><text x="384.95" y="400.8">Corr.:</text><text x="400.32" y="400.8">−0.383</text><text x="513.98" y="385.6">Overlap:</text><text x="529.35" y="385.6">32.5</text><text x="513.98" y="389.4">MAPE:</text><text x="529.35" y="389.4">18.9</text><text x="513.98" y="393.2">RMSE:</text><text x="529.35" y="393.2">83.5</text><text x="513.98" y="397">Bias:</text><text x="529.35" y="397">−53.8</text><text x="513.98" y="400.8">Corr.:</text><text x="529.35" y="400.8">−0.515</text></g>
<g class="k3" transform="scale(0.85,1)" font-size="4.7" text-anchor="end"><text x="20.71" y="57.6">150</text><text x="20.71" y="52.3">200</text><text x="20.71" y="47">250</text><text x="20.71" y="41.8">300</text><text x="20.71" y="36.5">350</text><text x="20.71" y="31.2">400</text><text x="20.71" y="25.9">450</text><text x="20.71" y="84.8">0</text><text x="20.71" y="81">10</text><text x="20.71" y="77.2">20</text><text x="20.71" y="73.4">30</text><text x="20.71" y="69.6">40</text><text x="20.71" y="65.8">50</text><text x="20.71" y="109.8">−40</text><text x="20.71" y="105.9">−30</text><text x="20.71" y="101.9">−20</text><text x="20.71" y="98">−10</text><text x="20.71" y="94.1">0</text><text x="20.71" y="90.2">10</text><text x="20.71" y="134.8">0</text><text x="20.71" y="130.9">10</text><text x="20.71" y="127">20</text><text x="20.71" y="123.1">30</text><text x="20.71" y="119.2">40</text><text x="20.71" y="115.3">50</text><text x="20.71" y="158.6">−10</text><text x="20.71" y="153.8">0</text><text x="20.71" y="149.1">10</text><text x="20.71" y="144.3">20</text><text x="20.71" y="139.6">30</text><text x="168.12" y="57.6">150</text><text x="168.12" y="52.3">200</text><text x="168.12" y="47">250</text><text x="168.12" y="41.8">300</text><text x="168.12" y="36.5">350</text><text x="168.12" y="31.2">400</text><text x="168.12" y="25.9">450</text><text x="168.12" y="84.8">0</text><text x="168.12" y="81">10</text><text x="168.12" y="77.2">20</text><text x="168.12" y="73.4">30</text><text x="168.12" y="69.6">40</text><text x="168.12" y="65.8">50</text><text x="168.12" y="109.8">−40</text><text x="168.12" y="105.9">−30</text><text x="168.12" y="101.9">−20</text><text x="168.12" y="98">−10</text><text x="168.12" y="94.1">0</text><text x="168.12" y="90.2">10</text><text x="168.12" y="134.8">0</text><text x="168.12" y="130.9">10</text><text x="168.12" y="127">20</text><text x="168.12" y="123.1">30</text><text x="168.12" y="119.2">40</text><text x="168.12" y="115.3">50</text><text x="168.12" y="158.6">−10</text><text x="168.12" y="153.8">0</text><text x="168.12" y="149.1">10</text><text x="168.12" y="144.3">20</text><text x="168.12" y="139.6">30</text><text x="310.47" y="57.6">150</text><text x="310.47" y="52.3">200</text><text x="310.47" y="47">250</text><text x="310.47" y="41.8">300</text><text x="310.47" y="36.5">350</text><text x="310.47" y="31.2">400</text><text x="310.47" y="25.9">450</text><text x="310.47" y="84.8">0</text><text x="310.47" y="81">10</text><text x="310.47" y="77.2">20</text><text x="310.47" y="73.4">30</text><text x="310.47" y="69.6">40</text><text x="310.47" y="65.8">50</text><text x="310.47" y="109.8">−40</text><text x="310.47" y="105.9">−30</text><text x="310.47" y="101.9">−20</text><text x="310.47" y="98">−10</text><text x="310.47" y="94.1">0</text><text x="310.47" y="90.2">10</text><text x="310.47" y="134.8">0</text><text x="310.47" y="130.9">10</text><text x="310.47" y="127">20</text><text x="310.47" y="123.1">30</text><text x="310.47" y="119.2">40</text><text x="310.47" y="115.3">50</text><text x="310.47" y="158.6">−10</text><text x="310.47" y="153.8">0</text><text x="310.47" y="149.1">10</text><text x="310.47" y="144.3">20</text><text x="310.47" y="139.6">30</text><text x="451.53" y="57.6">150</text><text x="451.53" y="52.3">200</text><text x="451.53" y="47">250</text><text x="451.53" y="41.8">300</text><text x="451.53" y="36.5">350</text><text x="451.53" y="31.2">400</text><text x="451.53" y="25.9">450</text><text x="451.53" y="84.8">0</text><text x="451.53" y="81">10</text><text x="451.53" y="77.2">20</text><text x="451.53" y="73.4">30</text><text x="451.53" y="69.6">40</text><text x="451.53" y="65.8">50</text><text x="451.53" y="109.8">−40</text><text x="451.53" y="105.9">−30</text><text x="451.53" y="101.9">−20</text><text x="451.53" y="98">−10</text><text x="451.53" y="94.1">0</text><text x="451.53" y="90.2">10</text><text x="451.53" y="134.8">0</text><text x="451.53" y="130.9">10</text><text x="451.53" y="127">20</text><text x="451.53" y="123.1">30</text><text x="451.53" y="119.2">40</text><text x="451.53" y="115.3">50</text><text x="451.53" y="158.6">−10</text><text x="451.53" y="153.8">0</text><text x="451.53" y="149.1">10</text><text x="451.53" y="144.3">20</text><text x="451.53" y="139.6">30</text><text x="20.71" y="229.8">150</text><text x="20.71" y="224.5">200</text><text x="20.71" y="219.2">250</text><text x="20.71" y="214">300</text><text x="20.71" y="208.7">350</text><text x="20.71" y="203.4">400</text><text x="20.71" y="198.1">450</text><text x="20.71" y="257">0</text><text x="20.71" y="253.2">10</text><text x="20.71" y="249.4">20</text><text x="20.71" y="245.6">30</text><text x="20.71" y="241.8">40</text><text x="20.71" y="238">50</text><text x="20.71" y="282">−40</text><text x="20.71" y="278.1">−30</text><text x="20.71" y="274.1">−20</text><text x="20.71" y="270.2">−10</text><text x="20.71" y="266.3">0</text><text x="20.71" y="262.4">10</text><text x="20.71" y="307">0</text><text x="20.71" y="303.1">10</text><text x="20.71" y="299.2">20</text><text x="20.71" y="295.3">30</text><text x="20.71" y="291.4">40</text><text x="20.71" y="287.5">50</text><text x="20.71" y="330.8">−10</text><text x="20.71" y="326">0</text><text x="20.71" y="321.2">10</text><text x="20.71" y="316.5">20</text><text x="20.71" y="311.8">30</text><text x="168.12" y="229.8">150</text><text x="168.12" y="224.5">200</text><text x="168.12" y="219.2">250</text><text x="168.12" y="214">300</text><text x="168.12" y="208.7">350</text><text x="168.12" y="203.4">400</text><text x="168.12" y="198.1">450</text><text x="168.12" y="257">0</text><text x="168.12" y="253.2">10</text><text x="168.12" y="249.4">20</text><text x="168.12" y="245.6">30</text><text x="168.12" y="241.8">40</text><text x="168.12" y="238">50</text><text x="168.12" y="282">−40</text><text x="168.12" y="278.1">−30</text><text x="168.12" y="274.1">−20</text><text x="168.12" y="270.2">−10</text><text x="168.12" y="266.3">0</text><text x="168.12" y="262.4">10</text><text x="168.12" y="307">0</text><text x="168.12" y="303.1">10</text><text x="168.12" y="299.2">20</text><text x="168.12" y="295.3">30</text><text x="168.12" y="291.4">40</text><text x="168.12" y="287.5">50</text><text x="168.12" y="330.8">−10</text><text x="168.12" y="326">0</text><text x="168.12" y="321.2">10</text><text x="168.12" y="316.5">20</text><text x="168.12" y="311.8">30</text><text x="310.47" y="229.8">150</text><text x="310.47" y="224.5">200</text><text x="310.47" y="219.2">250</text><text x="310.47" y="214">300</text><text x="310.47" y="208.7">350</text><text x="310.47" y="203.4">400</text><text x="310.47" y="198.1">450</text><text x="310.47" y="257">0</text><text x="310.47" y="253.2">10</text><text x="310.47" y="249.4">20</text><text x="310.47" y="245.6">30</text><text x="310.47" y="241.8">40</text><text x="310.47" y="238">50</text><text x="310.47" y="282">−40</text><text x="310.47" y="278.1">−30</text><text x="310.47" y="274.1">−20</text><text x="310.47" y="270.2">−10</text><text x="310.47" y="266.3">0</text><text x="310.47" y="262.4">10</text><text x="310.47" y="307">0</text><text x="310.47" y="303.1">10</text><text x="310.47" y="299.2">20</text><text x="310.47" y="295.3">30</text><text x="310.47" y="291.4">40</text><text x="310.47" y="287.5">50</text><text x="310.47" y="330.8">−10</text><text x="310.47" y="326">0</text><text x="310.47" y="321.2">10</text><text x="310.47" y="316.5">20</text><text x="310.47" y="311.8">30</text><text x="451.53" y="229.8">150</text><text x="451.53" y="224.5">200</text><text x="451.53" y="219.2">250</text><text x="451.53" y="214">300</text><text x="451.53" y="208.7">350</text><text x="451.53" y="203.4">400</text><text x="451.53" y="198.1">450</text><text x="451.53" y="257">0</text><text x="451.53" y="253.2">10</text><text x="451.53" y="249.4">20</text><text x="451.53" y="245.6">30</text><text x="451.53" y="241.8">40</text><text x="451.53" y="238">50</text><text x="451.53" y="282">−40</text><text x="451.53" y="278.1">−30</text><text x="451.53" y="274.1">−20</text><text x="451.53" y="270.2">−10</text><text x="451.53" y="266.3">0</text><text x="451.53" y="262.4">10</text><text x="451.53" y="307">0</text><text x="451.53" y="303.1">10</text><text x="451.53" y="299.2">20</text><text x="451.53" y="295.3">30</text><text x="451.53" y="291.4">40</text><text x="451.53" y="287.5">50</text><text x="451.53" y="330.8">−10</text><text x="451.53" y="326">0</text><text x="451.53" y="321.2">10</text><text x="451.53" y="316.5">20</text><text x="451.53" y="311.8">30</text><text x="20.71" y="398.3">150</text><text x="20.71" y="393">200</text><text x="20.71" y="387.7">250</text><text x="20.71" y="382.5">300</text><text x="20.71" y="377.2">350</text><text x="20.71" y="371.9">400</text><text x="20.71" y="366.6">450</text><text x="20.71" y="425.5">0</text><text x="20.71" y="421.7">10</text><text x="20.71" y="417.9">20</text><text x="20.71" y="414.1">30</text><text x="20.71" y="410.3">40</text><text x="20.71" y="406.5">50</text><text x="20.71" y="450.5">−40</text><text x="20.71" y="446.6">−30</text><text x="20.71" y="442.6">−20</text><text x="20.71" y="438.7">−10</text><text x="20.71" y="434.8">0</text><text x="20.71" y="430.9">10</text><text x="20.71" y="475.5">0</text><text x="20.71" y="471.6">10</text><text x="20.71" y="467.7">20</text><text x="20.71" y="463.8">30</text><text x="20.71" y="459.9">40</text><text x="20.71" y="456">50</text><text x="20.71" y="499.2">−10</text><text x="20.71" y="494.5">0</text><text x="20.71" y="489.8">10</text><text x="20.71" y="485">20</text><text x="20.71" y="480.2">30</text><text x="168.12" y="398.3">150</text><text x="168.12" y="393">200</text><text x="168.12" y="387.7">250</text><text x="168.12" y="382.5">300</text><text x="168.12" y="377.2">350</text><text x="168.12" y="371.9">400</text><text x="168.12" y="366.6">450</text><text x="168.12" y="425.5">0</text><text x="168.12" y="421.7">10</text><text x="168.12" y="417.9">20</text><text x="168.12" y="414.1">30</text><text x="168.12" y="410.3">40</text><text x="168.12" y="406.5">50</text><text x="168.12" y="450.5">−40</text><text x="168.12" y="446.6">−30</text><text x="168.12" y="442.6">−20</text><text x="168.12" y="438.7">−10</text><text x="168.12" y="434.8">0</text><text x="168.12" y="430.9">10</text><text x="168.12" y="475.5">0</text><text x="168.12" y="471.6">10</text><text x="168.12" y="467.7">20</text><text x="168.12" y="463.8">30</text><text x="168.12" y="459.9">40</text><text x="168.12" y="456">50</text><text x="168.12" y="499.2">−10</text><text x="168.12" y="494.5">0</text><text x="168.12" y="489.8">10</text><text x="168.12" y="485">20</text><text x="168.12" y="480.2">30</text><text x="310.47" y="398.3">150</text><text x="310.47" y="393">200</text><text x="310.47" y="387.7">250</text><text x="310.47" y="382.5">300</text><text x="310.47" y="377.2">350</text><text x="310.47" y="371.9">400</text><text x="310.47" y="366.6">450</text><text x="310.47" y="425.5">0</text><text x="310.47" y="421.7">10</text><text x="310.47" y="417.9">20</text><text x="310.47" y="414.1">30</text><text x="310.47" y="410.3">40</text><text x="310.47" y="406.5">50</text><text x="310.47" y="450.5">−40</text><text x="310.47" y="446.6">−30</text><text x="310.47" y="442.6">−20</text><text x="310.47" y="438.7">−10</text><text x="310.47" y="434.8">0</text><text x="310.47" y="430.9">10</text><text x="310.47" y="475.5">0</text><text x="310.47" y="471.6">10</text><text x="310.47" y="467.7">20</text><text x="310.47" y="463.8">30</text><text x="310.47" y="459.9">40</text><text x="310.47" y="456">50</text><text x="310.47" y="499.2">−10</text><text x="310.47" y="494.5">0</text><text x="310.47" y="489.8">10</text><text x="310.47" y="485">20</text><text x="310.47" y="480.2">30</text><text x="451.53" y="398.3">150</text><text x="451.53" y="393">200</text><text x="451.53" y="387.7">250</text><text x="451.53" y="382.5">300</text><text x="451.53" y="377.2">350</text><text x="451.53" y="371.9">400</text><text x="451.53" y="366.6">450</text><text x="451.53" y="425.5">0</text><text x="451.53" y="421.7">10</text><text x="451.53" y="417.9">20</text><text x="451.53" y="414.1">30</text><text x="451.53" y="410.3">40</text><text x="451.53" y="406.5">50</text><text x="451.53" y="450.5">−40</text><text x="451.53" y="446.6">−30</text><text x="451.53" y="442.6">−20</text><text x="451.53" y="438.7">−10</text><text x="451.53" y="434.8">0</text><text x="451.53" y="430.9">10</text><text x="451.53" y="475.5">0</text><text x="451.53" y="471.6">10</text><text x="451.53" y="467.7">20</text><text x="451.53" y="463.8">30</text><text x="451.53" y="459.9">40</text><text x="451.53" y="456">50</text><text x="451.53" y="499.2">−10</text><text x="451.53" y="494.5">0</text><text x="451.53" y="489.8">10</text><text x="451.53" y="485">20</text><text x="451.53" y="480.2">30</text></g>
<g class="k3" transform="scale(0.8,1)" font-size="5.2" text-anchor="middle"><text x="30.75" y="164.4">Aug-2007</text><text x="55.38" y="164.4">Oct-2007</text><text x="80.01" y="164.4">Dec-2007</text><text x="105.04" y="164.4">Feb-2008</text><text x="128.86" y="164.4">Apr-2008</text><text x="153.49" y="164.4">Jun-2008</text><text x="187.5" y="164.4">Aug-2008</text><text x="211.33" y="164.4">Oct-2008</text><text x="235.16" y="164.4">Dec-2008</text><text x="259.38" y="164.4">Feb-2009</text><text x="282.42" y="164.4">Apr-2009</text><text x="306.25" y="164.4">Jun-2009</text><text x="338" y="164.4">Aug-2009</text><text x="361.88" y="164.4">Oct-2009</text><text x="385.76" y="164.4">Dec-2009</text><text x="410.04" y="164.4">Feb-2010</text><text x="433.13" y="164.4">Apr-2010</text><text x="457.02" y="164.4">Jun-2010</text><text x="488" y="164.4">Aug-2010</text><text x="511.83" y="164.4">Oct-2010</text><text x="535.66" y="164.4">Dec-2010</text><text x="559.87" y="164.4">Feb-2011</text><text x="582.92" y="164.4">Apr-2011</text><text x="606.75" y="164.4">Jun-2011</text><text x="30.75" y="336.6">Aug-2003</text><text x="55.38" y="336.6">Oct-2003</text><text x="80.01" y="336.6">Dec-2003</text><text x="105.04" y="336.6">Feb-2004</text><text x="128.86" y="336.6">Apr-2004</text><text x="153.49" y="336.6">Jun-2004</text><text x="187.5" y="336.6">Aug-2004</text><text x="211.33" y="336.6">Oct-2004</text><text x="235.16" y="336.6">Dec-2004</text><text x="259.38" y="336.6">Feb-2005</text><text x="282.42" y="336.6">Apr-2005</text><text x="306.25" y="336.6">Jun-2005</text><text x="338" y="336.6">Aug-2005</text><text x="361.88" y="336.6">Oct-2005</text><text x="385.76" y="336.6">Dec-2005</text><text x="410.04" y="336.6">Feb-2006</text><text x="433.13" y="336.6">Apr-2006</text><text x="457.02" y="336.6">Jun-2006</text><text x="488" y="336.6">Aug-2006</text><text x="511.83" y="336.6">Oct-2006</text><text x="535.66" y="336.6">Dec-2006</text><text x="559.87" y="336.6">Feb-2007</text><text x="582.92" y="336.6">Apr-2007</text><text x="606.75" y="336.6">Jun-2007</text><text x="30.75" y="505.1">Aug-2007</text><text x="55.38" y="505.1">Oct-2007</text><text x="80.01" y="505.1">Dec-2007</text><text x="105.04" y="505.1">Feb-2008</text><text x="128.86" y="505.1">Apr-2008</text><text x="153.49" y="505.1">Jun-2008</text><text x="187.5" y="505.1">Aug-2008</text><text x="211.33" y="505.1">Oct-2008</text><text x="235.16" y="505.1">Dec-2008</text><text x="259.38" y="505.1">Feb-2009</text><text x="282.42" y="505.1">Apr-2009</text><text x="306.25" y="505.1">Jun-2009</text><text x="338" y="505.1">Aug-2009</text><text x="361.88" y="505.1">Oct-2009</text><text x="385.76" y="505.1">Dec-2009</text><text x="410.04" y="505.1">Feb-2010</text><text x="433.13" y="505.1">Apr-2010</text><text x="457.02" y="505.1">Jun-2010</text><text x="488" y="505.1">Aug-2010</text><text x="511.83" y="505.1">Oct-2010</text><text x="535.66" y="505.1">Dec-2010</text><text x="559.87" y="505.1">Feb-2011</text><text x="582.92" y="505.1">Apr-2011</text><text x="606.75" y="505.1">Jun-2011</text></g>
<g class="k2" font-size="3.9" text-anchor="middle"><text transform="translate(8.9,39.9) rotate(-90)" textLength="25.6" lengthAdjust="spacingAndGlyphs">Density (kg m<tspan dy="-1.1" font-size="2.6">−3</tspan><tspan dy="1.1">)</tspan></text><text transform="translate(8.9,72.2) rotate(-90)" textLength="16.8" lengthAdjust="spacingAndGlyphs">Depth (cm)</text><text transform="translate(8.9,96.9) rotate(-90)" textLength="17" lengthAdjust="spacingAndGlyphs">Temp (°C)</text><text transform="translate(8.9,122.9) rotate(-90)" textLength="23.2" lengthAdjust="spacingAndGlyphs">SSA (m<tspan dy="-1.1" font-size="2.6">2</tspan><tspan dy="1.1"> kg</tspan><tspan dy="-1.1" font-size="2.6">−1</tspan><tspan dy="1.1">)</tspan></text><text transform="translate(8.9,147.8) rotate(-90)" textLength="11.6" lengthAdjust="spacingAndGlyphs">RH (%)</text><text transform="translate(8.9,212.1) rotate(-90)" textLength="25.6" lengthAdjust="spacingAndGlyphs">Density (kg m<tspan dy="-1.1" font-size="2.6">−3</tspan><tspan dy="1.1">)</tspan></text><text transform="translate(8.9,244.4) rotate(-90)" textLength="16.8" lengthAdjust="spacingAndGlyphs">Depth (cm)</text><text transform="translate(8.9,269.1) rotate(-90)" textLength="17" lengthAdjust="spacingAndGlyphs">Temp (°C)</text><text transform="translate(8.9,295.1) rotate(-90)" textLength="23.2" lengthAdjust="spacingAndGlyphs">SSA (m<tspan dy="-1.1" font-size="2.6">2</tspan><tspan dy="1.1"> kg</tspan><tspan dy="-1.1" font-size="2.6">−1</tspan><tspan dy="1.1">)</tspan></text><text transform="translate(8.9,320) rotate(-90)" textLength="11.6" lengthAdjust="spacingAndGlyphs">RH (%)</text><text transform="translate(8.9,380.6) rotate(-90)" textLength="25.6" lengthAdjust="spacingAndGlyphs">Density (kg m<tspan dy="-1.1" font-size="2.6">−3</tspan><tspan dy="1.1">)</tspan></text><text transform="translate(8.9,412.9) rotate(-90)" textLength="16.8" lengthAdjust="spacingAndGlyphs">Depth (cm)</text><text transform="translate(8.9,437.6) rotate(-90)" textLength="17" lengthAdjust="spacingAndGlyphs">Temp (°C)</text><text transform="translate(8.9,463.6) rotate(-90)" textLength="23.2" lengthAdjust="spacingAndGlyphs">SSA (m<tspan dy="-1.1" font-size="2.6">2</tspan><tspan dy="1.1"> kg</tspan><tspan dy="-1.1" font-size="2.6">−1</tspan><tspan dy="1.1">)</tspan></text><text transform="translate(8.9,488.5) rotate(-90)" textLength="11.6" lengthAdjust="spacingAndGlyphs">RH (%)</text></g>
<g class="k" transform="scale(0.88,1)" font-size="5.2" text-anchor="middle"><text x="87.95" y="180.8">Cambridge Bay 2003-04</text><text x="228.41" y="180.8">Cambridge Bay 2004-05</text><text x="365.28" y="180.8">Cambridge Bay 2005-06</text><text x="501.59" y="180.8">Cambridge Bay 2006-07</text></g>
<g class="k2" transform="scale(0.88,1)" font-size="4.5" font-style="italic"><text x="40.68" y="45.9">Algorithm</text><text x="40.68" y="68.5">AWS</text><text x="40.68" y="100.9">Air</text></g>
<g class="k2" transform="scale(0.88,1)" font-size="4.5"><text x="40.68" y="51.4">CanSRE</text><text x="40.68" y="56.9">Outliers</text><text x="40.68" y="73.8">Depth Hoar</text><text x="40.68" y="79.4">CanSRE</text><text x="40.68" y="105.8">Soil</text><text x="40.68" y="124.8">NS</text><text x="40.68" y="130.7">DH</text></g>
</svg>
</body></html>
